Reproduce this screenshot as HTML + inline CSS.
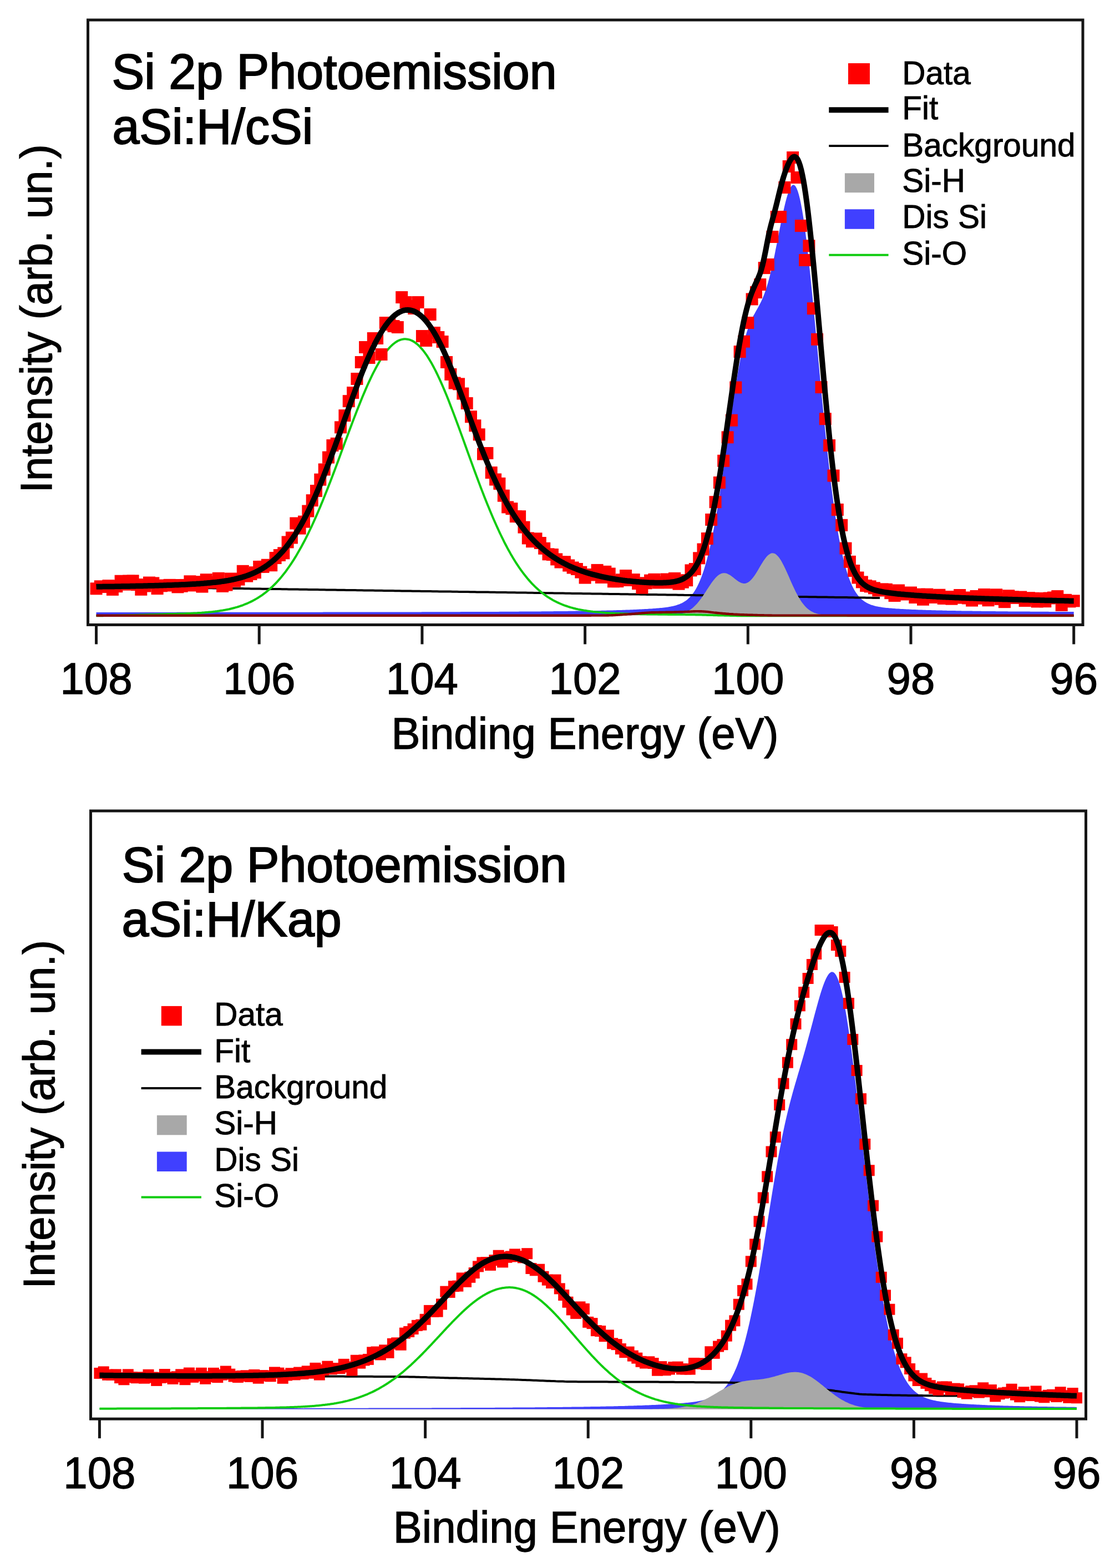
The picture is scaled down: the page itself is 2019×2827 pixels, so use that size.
<!DOCTYPE html>
<html><head><meta charset="utf-8"><title>Si 2p Photoemission</title><style>html,body{margin:0;padding:0;background:#fff}svg{display:block}</style></head><body>
<svg width="2019" height="2827" viewBox="0 0 2019 2827">
<rect width="2019" height="2827" fill="#ffffff"/>
<clipPath id="c1"><rect x="161" y="38.5" width="1788.5" height="1085.5"/></clipPath>
<g clip-path="url(#c1)">
<path d="M173.5,1108.5 L173.5,1103.9 175.5,1103.9 177.5,1103.9 179.5,1103.9 181.5,1103.9 183.5,1103.9 185.5,1103.9 187.5,1103.9 189.5,1103.9 191.5,1103.9 193.5,1103.9 195.5,1103.9 197.5,1103.9 199.5,1103.9 201.5,1103.9 203.5,1103.9 205.5,1103.9 207.5,1103.9 209.5,1103.9 211.5,1103.9 213.5,1103.9 215.5,1103.9 217.5,1103.9 219.5,1103.9 221.5,1103.9 223.4,1103.9 225.4,1103.9 227.4,1103.9 229.4,1103.9 231.4,1103.9 233.4,1103.9 235.4,1103.9 237.4,1103.9 239.4,1103.9 241.4,1103.9 243.4,1103.9 245.4,1103.9 247.4,1103.9 249.4,1103.9 251.4,1103.9 253.4,1103.9 255.4,1103.9 257.4,1103.9 259.4,1103.9 261.4,1103.9 263.4,1103.9 265.4,1103.9 267.4,1103.9 269.4,1103.9 271.4,1103.9 273.4,1103.9 275.4,1103.9 277.4,1103.9 279.4,1103.9 281.4,1103.9 283.4,1103.9 285.4,1103.9 287.4,1103.9 289.4,1103.9 291.4,1103.9 293.4,1103.9 295.4,1103.9 297.4,1103.9 299.4,1103.9 301.4,1103.9 303.4,1103.9 305.4,1103.9 307.4,1103.9 309.4,1103.9 311.4,1103.9 313.4,1103.9 315.4,1103.9 317.4,1103.9 319.4,1103.8 321.3,1103.8 323.3,1103.8 325.3,1103.8 327.3,1103.8 329.3,1103.8 331.3,1103.8 333.3,1103.8 335.3,1103.8 337.3,1103.8 339.3,1103.8 341.3,1103.8 343.3,1103.8 345.3,1103.8 347.3,1103.8 349.3,1103.8 351.3,1103.8 353.3,1103.8 355.3,1103.8 357.3,1103.8 359.3,1103.8 361.3,1103.8 363.3,1103.8 365.3,1103.8 367.3,1103.8 369.3,1103.8 371.3,1103.8 373.3,1103.8 375.3,1103.8 377.3,1103.8 379.3,1103.8 381.3,1103.8 383.3,1103.8 385.3,1103.8 387.3,1103.8 389.3,1103.8 391.3,1103.8 393.3,1103.8 395.3,1103.8 397.3,1103.8 399.3,1103.8 401.3,1103.8 403.3,1103.8 405.3,1103.8 407.3,1103.8 409.3,1103.8 411.3,1103.8 413.3,1103.8 415.3,1103.8 417.3,1103.8 419.2,1103.8 421.2,1103.8 423.2,1103.8 425.2,1103.8 427.2,1103.8 429.2,1103.8 431.2,1103.8 433.2,1103.8 435.2,1103.8 437.2,1103.8 439.2,1103.8 441.2,1103.8 443.2,1103.8 445.2,1103.8 447.2,1103.8 449.2,1103.8 451.2,1103.8 453.2,1103.8 455.2,1103.8 457.2,1103.8 459.2,1103.8 461.2,1103.8 463.2,1103.8 465.2,1103.8 467.2,1103.8 469.2,1103.8 471.2,1103.8 473.2,1103.8 475.2,1103.8 477.2,1103.7 479.2,1103.7 481.2,1103.7 483.2,1103.7 485.2,1103.7 487.2,1103.7 489.2,1103.7 491.2,1103.7 493.2,1103.7 495.2,1103.7 497.2,1103.7 499.2,1103.7 501.2,1103.7 503.2,1103.7 505.2,1103.7 507.2,1103.7 509.2,1103.7 511.2,1103.7 513.2,1103.7 515.2,1103.7 517.1,1103.7 519.1,1103.7 521.1,1103.7 523.1,1103.7 525.1,1103.7 527.1,1103.7 529.1,1103.7 531.1,1103.7 533.1,1103.7 535.1,1103.7 537.1,1103.7 539.1,1103.7 541.1,1103.7 543.1,1103.7 545.1,1103.7 547.1,1103.7 549.1,1103.7 551.1,1103.7 553.1,1103.7 555.1,1103.7 557.1,1103.7 559.1,1103.7 561.1,1103.7 563.1,1103.7 565.1,1103.7 567.1,1103.7 569.1,1103.7 571.1,1103.7 573.1,1103.7 575.1,1103.7 577.1,1103.7 579.1,1103.7 581.1,1103.7 583.1,1103.6 585.1,1103.6 587.1,1103.6 589.1,1103.6 591.1,1103.6 593.1,1103.6 595.1,1103.6 597.1,1103.6 599.1,1103.6 601.1,1103.6 603.1,1103.6 605.1,1103.6 607.1,1103.6 609.1,1103.6 611.1,1103.6 613.1,1103.6 615,1103.6 617,1103.6 619,1103.6 621,1103.6 623,1103.6 625,1103.6 627,1103.6 629,1103.6 631,1103.6 633,1103.6 635,1103.6 637,1103.6 639,1103.6 641,1103.6 643,1103.6 645,1103.6 647,1103.6 649,1103.6 651,1103.6 653,1103.6 655,1103.6 657,1103.5 659,1103.5 661,1103.5 663,1103.5 665,1103.5 667,1103.5 669,1103.5 671,1103.5 673,1103.5 675,1103.5 677,1103.5 679,1103.5 681,1103.5 683,1103.5 685,1103.5 687,1103.5 689,1103.5 691,1103.5 693,1103.5 695,1103.5 697,1103.5 699,1103.5 701,1103.5 703,1103.5 705,1103.5 707,1103.5 709,1103.5 711,1103.5 712.9,1103.5 714.9,1103.4 716.9,1103.4 718.9,1103.4 720.9,1103.4 722.9,1103.4 724.9,1103.4 726.9,1103.4 728.9,1103.4 730.9,1103.4 732.9,1103.4 734.9,1103.4 736.9,1103.4 738.9,1103.4 740.9,1103.4 742.9,1103.4 744.9,1103.4 746.9,1103.4 748.9,1103.4 750.9,1103.4 752.9,1103.4 754.9,1103.4 756.9,1103.4 758.9,1103.4 760.9,1103.3 762.9,1103.3 764.9,1103.3 766.9,1103.3 768.9,1103.3 770.9,1103.3 772.9,1103.3 774.9,1103.3 776.9,1103.3 778.9,1103.3 780.9,1103.3 782.9,1103.3 784.9,1103.3 786.9,1103.3 788.9,1103.3 790.9,1103.3 792.9,1103.3 794.9,1103.3 796.9,1103.3 798.9,1103.2 800.9,1103.2 802.9,1103.2 804.9,1103.2 806.9,1103.2 808.9,1103.2 810.8,1103.2 812.8,1103.2 814.8,1103.2 816.8,1103.2 818.8,1103.2 820.8,1103.2 822.8,1103.2 824.8,1103.2 826.8,1103.2 828.8,1103.2 830.8,1103.1 832.8,1103.1 834.8,1103.1 836.8,1103.1 838.8,1103.1 840.8,1103.1 842.8,1103.1 844.8,1103.1 846.8,1103.1 848.8,1103.1 850.8,1103.1 852.8,1103.1 854.8,1103.1 856.8,1103 858.8,1103 860.8,1103 862.8,1103 864.8,1103 866.8,1103 868.8,1103 870.8,1103 872.8,1103 874.8,1103 876.8,1103 878.8,1103 880.8,1102.9 882.8,1102.9 884.8,1102.9 886.8,1102.9 888.8,1102.9 890.8,1102.9 892.8,1102.9 894.8,1102.9 896.8,1102.9 898.8,1102.9 900.8,1102.8 902.8,1102.8 904.8,1102.8 906.8,1102.8 908.7,1102.8 910.7,1102.8 912.7,1102.8 914.7,1102.8 916.7,1102.8 918.7,1102.7 920.7,1102.7 922.7,1102.7 924.7,1102.7 926.7,1102.7 928.7,1102.7 930.7,1102.7 932.7,1102.7 934.7,1102.7 936.7,1102.6 938.7,1102.6 940.7,1102.6 942.7,1102.6 944.7,1102.6 946.7,1102.6 948.7,1102.6 950.7,1102.5 952.7,1102.5 954.7,1102.5 956.7,1102.5 958.7,1102.5 960.7,1102.5 962.7,1102.5 964.7,1102.4 966.7,1102.4 968.7,1102.4 970.7,1102.4 972.7,1102.4 974.7,1102.4 976.7,1102.3 978.7,1102.3 980.7,1102.3 982.7,1102.3 984.7,1102.3 986.7,1102.2 988.7,1102.2 990.7,1102.2 992.7,1102.2 994.7,1102.2 996.7,1102.2 998.7,1102.1 1000.7,1102.1 1002.7,1102.1 1004.7,1102.1 1006.6,1102 1008.6,1102 1010.6,1102 1012.6,1102 1014.6,1102 1016.6,1101.9 1018.6,1101.9 1020.6,1101.9 1022.6,1101.9 1024.6,1101.8 1026.6,1101.8 1028.6,1101.8 1030.6,1101.8 1032.6,1101.7 1034.6,1101.7 1036.6,1101.7 1038.6,1101.6 1040.6,1101.6 1042.6,1101.6 1044.6,1101.6 1046.6,1101.5 1048.6,1101.5 1050.6,1101.5 1052.6,1101.4 1054.6,1101.4 1056.6,1101.4 1058.6,1101.3 1060.6,1101.3 1062.6,1101.3 1064.6,1101.2 1066.6,1101.2 1068.6,1101.2 1070.6,1101.1 1072.6,1101.1 1074.6,1101 1076.6,1101 1078.6,1101 1080.6,1100.9 1082.6,1100.9 1084.6,1100.8 1086.6,1100.8 1088.6,1100.7 1090.6,1100.7 1092.6,1100.7 1094.6,1100.6 1096.6,1100.6 1098.6,1100.5 1100.6,1100.5 1102.6,1100.4 1104.5,1100.4 1106.5,1100.3 1108.5,1100.2 1110.5,1100.2 1112.5,1100.1 1114.5,1100.1 1116.5,1100 1118.5,1099.9 1120.5,1099.9 1122.5,1099.8 1124.5,1099.7 1126.5,1099.7 1128.5,1099.6 1130.5,1099.5 1132.5,1099.5 1134.5,1099.4 1136.5,1099.3 1138.5,1099.2 1140.5,1099.2 1142.5,1099.1 1144.5,1099 1146.5,1098.9 1148.5,1098.8 1150.5,1098.7 1152.5,1098.6 1154.5,1098.5 1156.5,1098.4 1158.5,1098.3 1160.5,1098.2 1162.5,1098.1 1164.5,1098 1166.5,1097.9 1168.5,1097.8 1170.5,1097.6 1172.5,1097.5 1174.5,1097.4 1176.5,1097.2 1178.5,1097.1 1180.5,1096.9 1182.5,1096.8 1184.5,1096.6 1186.5,1096.5 1188.5,1096.3 1190.5,1096.1 1192.5,1095.9 1194.5,1095.7 1196.5,1095.5 1198.5,1095.2 1200.5,1095 1202.4,1094.7 1204.4,1094.4 1206.4,1094.1 1208.4,1093.7 1210.4,1093.3 1212.4,1092.9 1214.4,1092.5 1216.4,1092 1218.4,1091.4 1220.4,1090.8 1222.4,1090.1 1224.4,1089.4 1226.4,1088.6 1228.4,1087.7 1230.4,1086.7 1232.4,1085.5 1234.4,1084.3 1236.4,1082.9 1238.4,1081.4 1240.4,1079.7 1242.4,1077.8 1244.4,1075.8 1246.4,1073.5 1248.4,1071 1250.4,1068.2 1252.4,1065.2 1254.4,1061.9 1256.4,1058.2 1258.4,1054.3 1260.4,1050 1262.4,1045.3 1264.4,1040.2 1266.4,1034.8 1268.4,1028.9 1270.4,1022.6 1272.4,1015.8 1274.4,1008.5 1276.4,1000.8 1278.4,992.6 1280.4,983.9 1282.4,974.8 1284.4,965.1 1286.4,955 1288.4,944.3 1290.4,933.3 1292.4,921.8 1294.4,909.8 1296.4,897.5 1298.4,884.8 1300.3,871.8 1302.3,858.5 1304.3,844.9 1306.3,831.2 1308.3,817.3 1310.3,803.3 1312.3,789.2 1314.3,775.2 1316.3,761.2 1318.3,747.4 1320.3,733.7 1322.3,720.4 1324.3,707.3 1326.3,694.6 1328.3,682.4 1330.3,670.6 1332.3,659.4 1334.3,648.8 1336.3,638.8 1338.3,629.4 1340.3,620.7 1342.3,612.7 1344.3,605.3 1346.3,598.5 1348.3,592.4 1350.3,586.8 1352.3,581.8 1354.3,577.2 1356.3,573 1358.3,569.1 1360.3,565.4 1362.3,561.8 1364.3,558.3 1366.3,554.8 1368.3,551.1 1370.3,547.3 1372.3,543.2 1374.3,538.8 1376.3,534 1378.3,528.8 1380.3,523.1 1382.3,516.9 1384.3,510.2 1386.3,503 1388.3,495.2 1390.3,487 1392.3,478.4 1394.3,469.3 1396.3,459.9 1398.2,450.1 1400.2,440.2 1402.2,430 1404.2,419.9 1406.2,409.8 1408.2,399.8 1410.2,390.1 1412.2,380.8 1414.2,372 1416.2,363.8 1418.2,356.3 1420.2,349.7 1422.2,344.1 1424.2,339.5 1426.2,336.2 1428.2,334.1 1430.2,333.3 1432.2,334 1434.2,336.1 1436.2,339.7 1438.2,344.8 1440.2,351.5 1442.2,359.6 1444.2,369.2 1446.2,380.3 1448.2,392.6 1450.2,406.3 1452.2,421.3 1454.2,437.3 1456.2,454.4 1458.2,472.4 1460.2,491.2 1462.2,510.7 1464.2,530.9 1466.2,551.6 1468.2,572.6 1470.2,593.9 1472.2,615.5 1474.2,637 1476.2,658.6 1478.2,680.1 1480.2,701.3 1482.2,722.3 1484.2,742.9 1486.2,763.1 1488.2,782.9 1490.2,802 1492.2,820.6 1494.2,838.6 1496.1,855.8 1498.1,872.4 1500.1,888.3 1502.1,903.4 1504.1,917.8 1506.1,931.5 1508.1,944.4 1510.1,956.6 1512.1,968 1514.1,978.7 1516.1,988.7 1518.1,998.1 1520.1,1006.8 1522.1,1014.8 1524.1,1022.3 1526.1,1029.1 1528.1,1035.5 1530.1,1041.3 1532.1,1046.6 1534.1,1051.5 1536.1,1055.9 1538.1,1060 1540.1,1063.7 1542.1,1067 1544.1,1070 1546.1,1072.8 1548.1,1075.2 1550.1,1077.4 1552.1,1079.4 1554.1,1081.2 1556.1,1082.8 1558.1,1084.3 1560.1,1085.6 1562.1,1086.8 1564.1,1087.8 1566.1,1088.7 1568.1,1089.6 1570.1,1090.4 1572.1,1091 1574.1,1091.6 1576.1,1092.2 1578.1,1092.7 1580.1,1093.2 1582.1,1093.6 1584.1,1093.9 1586.1,1094.3 1588.1,1094.6 1590.1,1094.9 1592.1,1095.2 1594,1095.4 1596,1095.7 1598,1095.9 1600,1096.1 1602,1096.3 1604,1096.5 1606,1096.6 1608,1096.8 1610,1097 1612,1097.1 1614,1097.2 1616,1097.4 1618,1097.5 1620,1097.6 1622,1097.8 1624,1097.9 1626,1098 1628,1098.1 1630,1098.2 1632,1098.3 1634,1098.4 1636,1098.5 1638,1098.6 1640,1098.7 1642,1098.8 1644,1098.9 1646,1099 1648,1099.1 1650,1099.1 1652,1099.2 1654,1099.3 1656,1099.4 1658,1099.5 1660,1099.5 1662,1099.6 1664,1099.7 1666,1099.7 1668,1099.8 1670,1099.9 1672,1099.9 1674,1100 1676,1100.1 1678,1100.1 1680,1100.2 1682,1100.2 1684,1100.3 1686,1100.3 1688,1100.4 1690,1100.4 1691.9,1100.5 1693.9,1100.5 1695.9,1100.6 1697.9,1100.6 1699.9,1100.7 1701.9,1100.7 1703.9,1100.8 1705.9,1100.8 1707.9,1100.9 1709.9,1100.9 1711.9,1101 1713.9,1101 1715.9,1101 1717.9,1101.1 1719.9,1101.1 1721.9,1101.1 1723.9,1101.2 1725.9,1101.2 1727.9,1101.3 1729.9,1101.3 1731.9,1101.3 1733.9,1101.4 1735.9,1101.4 1737.9,1101.4 1739.9,1101.5 1741.9,1101.5 1743.9,1101.5 1745.9,1101.5 1747.9,1101.6 1749.9,1101.6 1751.9,1101.6 1753.9,1101.7 1755.9,1101.7 1757.9,1101.7 1759.9,1101.7 1761.9,1101.8 1763.9,1101.8 1765.9,1101.8 1767.9,1101.8 1769.9,1101.9 1771.9,1101.9 1773.9,1101.9 1775.9,1101.9 1777.9,1102 1779.9,1102 1781.9,1102 1783.9,1102 1785.9,1102.1 1787.9,1102.1 1789.8,1102.1 1791.8,1102.1 1793.8,1102.1 1795.8,1102.2 1797.8,1102.2 1799.8,1102.2 1801.8,1102.2 1803.8,1102.2 1805.8,1102.3 1807.8,1102.3 1809.8,1102.3 1811.8,1102.3 1813.8,1102.3 1815.8,1102.3 1817.8,1102.4 1819.8,1102.4 1821.8,1102.4 1823.8,1102.4 1825.8,1102.4 1827.8,1102.4 1829.8,1102.5 1831.8,1102.5 1833.8,1102.5 1835.8,1102.5 1837.8,1102.5 1839.8,1102.5 1841.8,1102.5 1843.8,1102.6 1845.8,1102.6 1847.8,1102.6 1849.8,1102.6 1851.8,1102.6 1853.8,1102.6 1855.8,1102.6 1857.8,1102.7 1859.8,1102.7 1861.8,1102.7 1863.8,1102.7 1865.8,1102.7 1867.8,1102.7 1869.8,1102.7 1871.8,1102.7 1873.8,1102.8 1875.8,1102.8 1877.8,1102.8 1879.8,1102.8 1881.8,1102.8 1883.8,1102.8 1885.8,1102.8 1887.7,1102.8 1889.7,1102.8 1891.7,1102.9 1893.7,1102.9 1895.7,1102.9 1897.7,1102.9 1899.7,1102.9 1901.7,1102.9 1903.7,1102.9 1905.7,1102.9 1907.7,1102.9 1909.7,1102.9 1911.7,1102.9 1913.7,1103 1915.7,1103 1917.7,1103 1919.7,1103 1921.7,1103 1923.7,1103 1925.7,1103 1927.7,1103 1929.7,1103 1931.7,1103 1933.7,1103 1935.7,1103.1 L1935.7,1108.5 Z" fill="#4040ff"/>
<path d="M173.5,1057.3 177.5,1057.3 181.5,1057.4 185.5,1057.4 189.5,1057.5 193.5,1057.6 197.4,1057.6 201.4,1057.7 205.4,1057.7 209.4,1057.8 213.4,1057.8 217.4,1057.9 221.4,1058 225.4,1058 229.4,1058.1 233.4,1058.1 237.3,1058.2 241.3,1058.3 245.3,1058.3 249.3,1058.4 253.3,1058.4 257.3,1058.5 261.3,1058.6 265.3,1058.6 269.3,1058.7 273.3,1058.7 277.2,1058.8 281.2,1058.8 285.2,1058.9 289.2,1059 293.2,1059 297.2,1059.1 301.2,1059.1 305.2,1059.2 309.2,1059.3 313.2,1059.3 317.1,1059.4 321.1,1059.4 325.1,1059.5 329.1,1059.6 333.1,1059.6 337.1,1059.7 341.1,1059.7 345.1,1059.8 349.1,1059.8 353.1,1059.9 357,1060 361,1060 365,1060.1 369,1060.1 373,1060.2 377,1060.3 381,1060.3 385,1060.4 389,1060.4 393,1060.5 396.9,1060.5 400.9,1060.6 404.9,1060.7 408.9,1060.7 412.9,1060.8 416.9,1060.8 420.9,1060.9 424.9,1061 428.9,1061 432.9,1061.1 436.8,1061.1 440.8,1061.2 444.8,1061.3 448.8,1061.3 452.8,1061.4 456.8,1061.4 460.8,1061.5 464.8,1061.5 468.8,1061.6 472.8,1061.7 476.7,1061.7 480.7,1061.8 484.7,1061.8 488.7,1061.9 492.7,1062 496.7,1062 500.7,1062.1 504.7,1062.1 508.7,1062.2 512.7,1062.2 516.6,1062.3 520.6,1062.4 524.6,1062.4 528.6,1062.5 532.6,1062.5 536.6,1062.6 540.6,1062.7 544.6,1062.7 548.6,1062.8 552.6,1062.8 556.6,1062.9 560.5,1063 564.5,1063 568.5,1063.1 572.5,1063.1 576.5,1063.2 580.5,1063.2 584.5,1063.3 588.5,1063.4 592.5,1063.4 596.5,1063.5 600.4,1063.5 604.4,1063.6 608.4,1063.7 612.4,1063.7 616.4,1063.8 620.4,1063.8 624.4,1063.9 628.4,1063.9 632.4,1064 636.4,1064.1 640.3,1064.1 644.3,1064.2 648.3,1064.2 652.3,1064.3 656.3,1064.4 660.3,1064.4 664.3,1064.5 668.3,1064.5 672.3,1064.6 676.3,1064.7 680.2,1064.7 684.2,1064.8 688.2,1064.8 692.2,1064.9 696.2,1064.9 700.2,1065 704.2,1065.1 708.2,1065.1 712.2,1065.2 716.2,1065.2 720.1,1065.3 724.1,1065.4 728.1,1065.4 732.1,1065.5 736.1,1065.5 740.1,1065.6 744.1,1065.7 748.1,1065.7 752.1,1065.8 756.1,1065.8 760,1065.9 764,1065.9 768,1066 772,1066.1 776,1066.1 780,1066.2 784,1066.2 788,1066.3 792,1066.4 796,1066.4 799.9,1066.5 803.9,1066.5 807.9,1066.6 811.9,1066.6 815.9,1066.7 819.9,1066.8 823.9,1066.8 827.9,1066.9 831.9,1066.9 835.9,1067 839.8,1067.1 843.8,1067.1 847.8,1067.2 851.8,1067.2 855.8,1067.3 859.8,1067.4 863.8,1067.4 867.8,1067.5 871.8,1067.5 875.8,1067.6 879.8,1067.6 883.7,1067.7 887.7,1067.8 891.7,1067.8 895.7,1067.9 899.7,1067.9 903.7,1068 907.7,1068.1 911.7,1068.1 915.7,1068.2 919.7,1068.2 923.6,1068.3 927.6,1068.3 931.6,1068.4 935.6,1068.5 939.6,1068.5 943.6,1068.6 947.6,1068.6 951.6,1068.7 955.6,1068.8 959.6,1068.8 963.5,1068.9 967.5,1068.9 971.5,1069 975.5,1069.1 979.5,1069.1 983.5,1069.2 987.5,1069.2 991.5,1069.3 995.5,1069.3 999.5,1069.4 1003.4,1069.5 1007.4,1069.5 1011.4,1069.6 1015.4,1069.6 1019.4,1069.7 1023.4,1069.8 1027.4,1069.8 1031.4,1069.9 1035.4,1069.9 1039.4,1070 1043.3,1070 1047.3,1070.1 1051.3,1070.2 1055.3,1070.2 1059.3,1070.3 1063.3,1070.3 1067.3,1070.4 1071.3,1070.5 1075.3,1070.5 1079.3,1070.6 1083.2,1070.6 1087.2,1070.7 1091.2,1070.8 1095.2,1070.8 1099.2,1070.9 1103.2,1070.9 1107.2,1071 1111.2,1071 1115.2,1071.1 1119.2,1071.2 1123.1,1071.2 1127.1,1071.3 1131.1,1071.3 1135.1,1071.4 1139.1,1071.5 1143.1,1071.5 1147.1,1071.6 1151.1,1071.6 1155.1,1071.7 1159.1,1071.8 1163,1071.8 1167,1071.9 1171,1071.9 1175,1072 1179,1072 1183,1072.1 1187,1072.2 1191,1072.2 1195,1072.3 1199,1072.3 1202.9,1072.4 1206.9,1072.5 1210.9,1072.5 1214.9,1072.6 1218.9,1072.6 1222.9,1072.7 1226.9,1072.7 1230.9,1072.8 1234.9,1072.9 1238.9,1072.9 1242.9,1073 1246.8,1073 1250.8,1073.1 1254.8,1073.2 1258.8,1073.2 1262.8,1073.3 1266.8,1073.3 1270.8,1073.4 1274.8,1073.5 1278.8,1073.5 1282.8,1073.6 1286.7,1073.6 1290.7,1073.7 1294.7,1073.7 1298.7,1073.8 1302.7,1073.9 1306.7,1073.9 1310.7,1074 1314.7,1074 1318.7,1074.1 1322.7,1074.2 1326.6,1074.2 1330.6,1074.3 1334.6,1074.3 1338.6,1074.4 1342.6,1074.4 1346.6,1074.5 1350.6,1074.6 1354.6,1074.6 1358.6,1074.7 1362.6,1074.7 1366.5,1074.8 1370.5,1074.9 1374.5,1074.9 1378.5,1075 1382.5,1075 1386.5,1075.1 1390.5,1075.2 1394.5,1075.2 1398.5,1075.3 1402.5,1075.3 1406.4,1075.4 1410.4,1075.4 1414.4,1075.5 1418.4,1075.6 1422.4,1075.6 1426.4,1075.7 1430.4,1075.7 1434.4,1075.8 1438.4,1075.9 1442.4,1075.9 1446.3,1076 1450.3,1076 1454.3,1076.1 1458.3,1076.2 1462.3,1076.2 1466.3,1076.3 1470.3,1076.3 1474.3,1076.4 1478.3,1076.4 1482.3,1076.5 1486.2,1076.6 1490.2,1076.6 1494.2,1076.7 1498.2,1076.7 1502.2,1076.8 1506.2,1076.9 1510.2,1076.9 1514.2,1077 1518.2,1077 1522.2,1077.1 1526.1,1077.1 1530.1,1077.2 1534.1,1077.3 1538.1,1077.3 1542.1,1077.4 1546.1,1077.4 1550.1,1077.5 1554.1,1077.6 1558.1,1077.6 1562.1,1077.7 1566,1077.7 1570,1077.8 1574,1077.9 1578,1077.9 1582,1078 1586,1078" fill="none" stroke="#000" stroke-width="4" stroke-linejoin="round"/>
<path d="M173.5,1110 L173.5,1109.5 175.5,1109.5 177.5,1109.5 179.5,1109.5 181.5,1109.5 183.5,1109.5 185.5,1109.5 187.5,1109.5 189.5,1109.5 191.5,1109.5 193.5,1109.5 195.5,1109.5 197.5,1109.5 199.5,1109.5 201.5,1109.5 203.5,1109.5 205.5,1109.5 207.5,1109.5 209.5,1109.5 211.5,1109.5 213.5,1109.5 215.5,1109.5 217.5,1109.5 219.5,1109.5 221.5,1109.5 223.4,1109.5 225.4,1109.5 227.4,1109.5 229.4,1109.5 231.4,1109.5 233.4,1109.5 235.4,1109.5 237.4,1109.5 239.4,1109.5 241.4,1109.5 243.4,1109.5 245.4,1109.5 247.4,1109.5 249.4,1109.5 251.4,1109.5 253.4,1109.5 255.4,1109.5 257.4,1109.5 259.4,1109.5 261.4,1109.5 263.4,1109.5 265.4,1109.5 267.4,1109.5 269.4,1109.5 271.4,1109.5 273.4,1109.5 275.4,1109.5 277.4,1109.5 279.4,1109.5 281.4,1109.5 283.4,1109.5 285.4,1109.5 287.4,1109.5 289.4,1109.5 291.4,1109.5 293.4,1109.5 295.4,1109.5 297.4,1109.5 299.4,1109.5 301.4,1109.5 303.4,1109.5 305.4,1109.5 307.4,1109.5 309.4,1109.5 311.4,1109.5 313.4,1109.5 315.4,1109.5 317.4,1109.5 319.4,1109.5 321.3,1109.5 323.3,1109.5 325.3,1109.5 327.3,1109.5 329.3,1109.5 331.3,1109.5 333.3,1109.5 335.3,1109.5 337.3,1109.5 339.3,1109.5 341.3,1109.5 343.3,1109.5 345.3,1109.5 347.3,1109.5 349.3,1109.5 351.3,1109.5 353.3,1109.5 355.3,1109.5 357.3,1109.5 359.3,1109.5 361.3,1109.5 363.3,1109.5 365.3,1109.5 367.3,1109.5 369.3,1109.5 371.3,1109.5 373.3,1109.5 375.3,1109.5 377.3,1109.5 379.3,1109.5 381.3,1109.5 383.3,1109.5 385.3,1109.5 387.3,1109.5 389.3,1109.5 391.3,1109.5 393.3,1109.5 395.3,1109.5 397.3,1109.5 399.3,1109.5 401.3,1109.5 403.3,1109.5 405.3,1109.5 407.3,1109.5 409.3,1109.5 411.3,1109.5 413.3,1109.5 415.3,1109.5 417.3,1109.5 419.2,1109.5 421.2,1109.5 423.2,1109.5 425.2,1109.5 427.2,1109.5 429.2,1109.5 431.2,1109.5 433.2,1109.5 435.2,1109.5 437.2,1109.5 439.2,1109.5 441.2,1109.5 443.2,1109.5 445.2,1109.5 447.2,1109.5 449.2,1109.5 451.2,1109.5 453.2,1109.5 455.2,1109.5 457.2,1109.5 459.2,1109.5 461.2,1109.5 463.2,1109.5 465.2,1109.5 467.2,1109.5 469.2,1109.5 471.2,1109.5 473.2,1109.5 475.2,1109.5 477.2,1109.5 479.2,1109.5 481.2,1109.5 483.2,1109.5 485.2,1109.5 487.2,1109.5 489.2,1109.5 491.2,1109.5 493.2,1109.5 495.2,1109.5 497.2,1109.5 499.2,1109.5 501.2,1109.5 503.2,1109.5 505.2,1109.5 507.2,1109.5 509.2,1109.5 511.2,1109.5 513.2,1109.5 515.2,1109.5 517.1,1109.5 519.1,1109.5 521.1,1109.5 523.1,1109.5 525.1,1109.5 527.1,1109.5 529.1,1109.5 531.1,1109.5 533.1,1109.5 535.1,1109.5 537.1,1109.5 539.1,1109.5 541.1,1109.5 543.1,1109.5 545.1,1109.5 547.1,1109.5 549.1,1109.5 551.1,1109.5 553.1,1109.5 555.1,1109.5 557.1,1109.5 559.1,1109.5 561.1,1109.5 563.1,1109.5 565.1,1109.5 567.1,1109.5 569.1,1109.5 571.1,1109.5 573.1,1109.5 575.1,1109.5 577.1,1109.5 579.1,1109.5 581.1,1109.5 583.1,1109.5 585.1,1109.5 587.1,1109.5 589.1,1109.5 591.1,1109.5 593.1,1109.5 595.1,1109.5 597.1,1109.5 599.1,1109.5 601.1,1109.5 603.1,1109.5 605.1,1109.5 607.1,1109.5 609.1,1109.5 611.1,1109.5 613.1,1109.5 615,1109.5 617,1109.5 619,1109.5 621,1109.5 623,1109.5 625,1109.5 627,1109.5 629,1109.5 631,1109.5 633,1109.5 635,1109.5 637,1109.5 639,1109.5 641,1109.5 643,1109.5 645,1109.5 647,1109.5 649,1109.5 651,1109.5 653,1109.5 655,1109.5 657,1109.5 659,1109.5 661,1109.5 663,1109.5 665,1109.5 667,1109.5 669,1109.5 671,1109.5 673,1109.5 675,1109.5 677,1109.5 679,1109.5 681,1109.5 683,1109.5 685,1109.5 687,1109.5 689,1109.5 691,1109.5 693,1109.5 695,1109.5 697,1109.5 699,1109.5 701,1109.5 703,1109.5 705,1109.5 707,1109.5 709,1109.5 711,1109.5 712.9,1109.5 714.9,1109.5 716.9,1109.5 718.9,1109.5 720.9,1109.5 722.9,1109.5 724.9,1109.5 726.9,1109.5 728.9,1109.5 730.9,1109.5 732.9,1109.5 734.9,1109.5 736.9,1109.5 738.9,1109.5 740.9,1109.5 742.9,1109.5 744.9,1109.5 746.9,1109.5 748.9,1109.5 750.9,1109.5 752.9,1109.5 754.9,1109.5 756.9,1109.5 758.9,1109.5 760.9,1109.5 762.9,1109.5 764.9,1109.5 766.9,1109.5 768.9,1109.5 770.9,1109.5 772.9,1109.5 774.9,1109.5 776.9,1109.5 778.9,1109.5 780.9,1109.5 782.9,1109.5 784.9,1109.5 786.9,1109.5 788.9,1109.5 790.9,1109.5 792.9,1109.5 794.9,1109.5 796.9,1109.5 798.9,1109.5 800.9,1109.5 802.9,1109.5 804.9,1109.5 806.9,1109.5 808.9,1109.5 810.8,1109.5 812.8,1109.5 814.8,1109.5 816.8,1109.5 818.8,1109.5 820.8,1109.5 822.8,1109.5 824.8,1109.5 826.8,1109.5 828.8,1109.5 830.8,1109.5 832.8,1109.5 834.8,1109.5 836.8,1109.5 838.8,1109.5 840.8,1109.5 842.8,1109.5 844.8,1109.5 846.8,1109.5 848.8,1109.5 850.8,1109.5 852.8,1109.5 854.8,1109.5 856.8,1109.5 858.8,1109.5 860.8,1109.5 862.8,1109.5 864.8,1109.5 866.8,1109.5 868.8,1109.5 870.8,1109.5 872.8,1109.5 874.8,1109.5 876.8,1109.5 878.8,1109.5 880.8,1109.5 882.8,1109.5 884.8,1109.5 886.8,1109.5 888.8,1109.5 890.8,1109.5 892.8,1109.5 894.8,1109.5 896.8,1109.5 898.8,1109.5 900.8,1109.5 902.8,1109.5 904.8,1109.5 906.8,1109.5 908.7,1109.5 910.7,1109.5 912.7,1109.5 914.7,1109.5 916.7,1109.5 918.7,1109.5 920.7,1109.5 922.7,1109.5 924.7,1109.5 926.7,1109.5 928.7,1109.5 930.7,1109.5 932.7,1109.5 934.7,1109.5 936.7,1109.5 938.7,1109.5 940.7,1109.5 942.7,1109.5 944.7,1109.5 946.7,1109.5 948.7,1109.5 950.7,1109.5 952.7,1109.5 954.7,1109.5 956.7,1109.5 958.7,1109.5 960.7,1109.5 962.7,1109.5 964.7,1109.5 966.7,1109.5 968.7,1109.5 970.7,1109.5 972.7,1109.5 974.7,1109.5 976.7,1109.5 978.7,1109.5 980.7,1109.5 982.7,1109.5 984.7,1109.5 986.7,1109.5 988.7,1109.5 990.7,1109.5 992.7,1109.5 994.7,1109.5 996.7,1109.5 998.7,1109.5 1000.7,1109.5 1002.7,1109.5 1004.7,1109.5 1006.6,1109.5 1008.6,1109.5 1010.6,1109.5 1012.6,1109.5 1014.6,1109.5 1016.6,1109.5 1018.6,1109.5 1020.6,1109.5 1022.6,1109.5 1024.6,1109.5 1026.6,1109.5 1028.6,1109.5 1030.6,1109.5 1032.6,1109.5 1034.6,1109.5 1036.6,1109.5 1038.6,1109.5 1040.6,1109.5 1042.6,1109.5 1044.6,1109.5 1046.6,1109.5 1048.6,1109.5 1050.6,1109.5 1052.6,1109.5 1054.6,1109.5 1056.6,1109.5 1058.6,1109.5 1060.6,1109.5 1062.6,1109.5 1064.6,1109.5 1066.6,1109.5 1068.6,1109.5 1070.6,1109.5 1072.6,1109.5 1074.6,1109.5 1076.6,1109.5 1078.6,1109.5 1080.6,1109.5 1082.6,1109.5 1084.6,1109.5 1086.6,1109.5 1088.6,1109.5 1090.6,1109.5 1092.6,1109.5 1094.6,1109.5 1096.6,1109.5 1098.6,1109.5 1100.6,1109.5 1102.6,1109.5 1104.5,1109.5 1106.5,1109.5 1108.5,1109.5 1110.5,1109.5 1112.5,1109.5 1114.5,1109.5 1116.5,1109.5 1118.5,1109.5 1120.5,1109.5 1122.5,1109.5 1124.5,1109.5 1126.5,1109.5 1128.5,1109.5 1130.5,1109.5 1132.5,1109.5 1134.5,1109.5 1136.5,1109.5 1138.5,1109.5 1140.5,1109.5 1142.5,1109.5 1144.5,1109.5 1146.5,1109.5 1148.5,1109.5 1150.5,1109.5 1152.5,1109.5 1154.5,1109.5 1156.5,1109.5 1158.5,1109.5 1160.5,1109.5 1162.5,1109.5 1164.5,1109.5 1166.5,1109.5 1168.5,1109.5 1170.5,1109.5 1172.5,1109.5 1174.5,1109.5 1176.5,1109.5 1178.5,1109.5 1180.5,1109.5 1182.5,1109.5 1184.5,1109.5 1186.5,1109.5 1188.5,1109.5 1190.5,1109.4 1192.5,1109.4 1194.5,1109.4 1196.5,1109.4 1198.5,1109.4 1200.5,1109.3 1202.4,1109.3 1204.4,1109.2 1206.4,1109.1 1208.4,1109.1 1210.4,1109 1212.4,1108.8 1214.4,1108.7 1216.4,1108.5 1218.4,1108.3 1220.4,1108 1222.4,1107.7 1224.4,1107.4 1226.4,1107 1228.4,1106.5 1230.4,1105.9 1232.4,1105.3 1234.4,1104.6 1236.4,1103.7 1238.4,1102.8 1240.4,1101.7 1242.4,1100.6 1244.4,1099.3 1246.4,1097.8 1248.4,1096.2 1250.4,1094.5 1252.4,1092.6 1254.4,1090.6 1256.4,1088.4 1258.4,1086 1260.4,1083.5 1262.4,1080.9 1264.4,1078.2 1266.4,1075.4 1268.4,1072.4 1270.4,1069.4 1272.4,1066.4 1274.4,1063.3 1276.4,1060.2 1278.4,1057.2 1280.4,1054.2 1282.4,1051.3 1284.4,1048.6 1286.4,1046 1288.4,1043.5 1290.4,1041.3 1292.4,1039.3 1294.4,1037.6 1296.4,1036.1 1298.4,1034.9 1300.3,1034.1 1302.3,1033.5 1304.3,1033.2 1306.3,1033.2 1308.3,1033.5 1310.3,1034.1 1312.3,1034.9 1314.3,1035.9 1316.3,1037.1 1318.3,1038.5 1320.3,1040 1322.3,1041.6 1324.3,1043.2 1326.3,1044.7 1328.3,1046.3 1330.3,1047.7 1332.3,1049 1334.3,1050.1 1336.3,1051 1338.3,1051.6 1340.3,1051.9 1342.3,1052 1344.3,1051.7 1346.3,1051.1 1348.3,1050.1 1350.3,1048.8 1352.3,1047.1 1354.3,1045.1 1356.3,1042.8 1358.3,1040.3 1360.3,1037.4 1362.3,1034.4 1364.3,1031.2 1366.3,1027.9 1368.3,1024.5 1370.3,1021.1 1372.3,1017.7 1374.3,1014.4 1376.3,1011.3 1378.3,1008.4 1380.3,1005.7 1382.3,1003.3 1384.3,1001.3 1386.3,999.7 1388.3,998.4 1390.3,997.6 1392.3,997.3 1394.3,997.4 1396.3,998.1 1398.2,999.1 1400.2,1000.7 1402.2,1002.7 1404.2,1005.1 1406.2,1008 1408.2,1011.1 1410.2,1014.7 1412.2,1018.5 1414.2,1022.5 1416.2,1026.7 1418.2,1031.1 1420.2,1035.6 1422.2,1040.1 1424.2,1044.7 1426.2,1049.2 1428.2,1053.7 1430.2,1058 1432.2,1062.3 1434.2,1066.4 1436.2,1070.3 1438.2,1074 1440.2,1077.5 1442.2,1080.8 1444.2,1083.9 1446.2,1086.7 1448.2,1089.3 1450.2,1091.7 1452.2,1093.9 1454.2,1095.9 1456.2,1097.7 1458.2,1099.3 1460.2,1100.7 1462.2,1102 1464.2,1103.1 1466.2,1104 1468.2,1104.9 1470.2,1105.6 1472.2,1106.2 1474.2,1106.8 1476.2,1107.2 1478.2,1107.6 1480.2,1108 1482.2,1108.2 1484.2,1108.5 1486.2,1108.7 1488.2,1108.8 1490.2,1109 1492.2,1109.1 1494.2,1109.2 1496.1,1109.2 1498.1,1109.3 1500.1,1109.3 1502.1,1109.4 1504.1,1109.4 1506.1,1109.4 1508.1,1109.4 1510.1,1109.5 1512.1,1109.5 1514.1,1109.5 1516.1,1109.5 1518.1,1109.5 1520.1,1109.5 1522.1,1109.5 1524.1,1109.5 1526.1,1109.5 1528.1,1109.5 1530.1,1109.5 1532.1,1109.5 1534.1,1109.5 1536.1,1109.5 1538.1,1109.5 1540.1,1109.5 1542.1,1109.5 1544.1,1109.5 1546.1,1109.5 1548.1,1109.5 1550.1,1109.5 1552.1,1109.5 1554.1,1109.5 1556.1,1109.5 1558.1,1109.5 1560.1,1109.5 1562.1,1109.5 1564.1,1109.5 1566.1,1109.5 1568.1,1109.5 1570.1,1109.5 1572.1,1109.5 1574.1,1109.5 1576.1,1109.5 1578.1,1109.5 1580.1,1109.5 1582.1,1109.5 1584.1,1109.5 1586.1,1109.5 1588.1,1109.5 1590.1,1109.5 1592.1,1109.5 1594,1109.5 1596,1109.5 1598,1109.5 1600,1109.5 1602,1109.5 1604,1109.5 1606,1109.5 1608,1109.5 1610,1109.5 1612,1109.5 1614,1109.5 1616,1109.5 1618,1109.5 1620,1109.5 1622,1109.5 1624,1109.5 1626,1109.5 1628,1109.5 1630,1109.5 1632,1109.5 1634,1109.5 1636,1109.5 1638,1109.5 1640,1109.5 1642,1109.5 1644,1109.5 1646,1109.5 1648,1109.5 1650,1109.5 1652,1109.5 1654,1109.5 1656,1109.5 1658,1109.5 1660,1109.5 1662,1109.5 1664,1109.5 1666,1109.5 1668,1109.5 1670,1109.5 1672,1109.5 1674,1109.5 1676,1109.5 1678,1109.5 1680,1109.5 1682,1109.5 1684,1109.5 1686,1109.5 1688,1109.5 1690,1109.5 1691.9,1109.5 1693.9,1109.5 1695.9,1109.5 1697.9,1109.5 1699.9,1109.5 1701.9,1109.5 1703.9,1109.5 1705.9,1109.5 1707.9,1109.5 1709.9,1109.5 1711.9,1109.5 1713.9,1109.5 1715.9,1109.5 1717.9,1109.5 1719.9,1109.5 1721.9,1109.5 1723.9,1109.5 1725.9,1109.5 1727.9,1109.5 1729.9,1109.5 1731.9,1109.5 1733.9,1109.5 1735.9,1109.5 1737.9,1109.5 1739.9,1109.5 1741.9,1109.5 1743.9,1109.5 1745.9,1109.5 1747.9,1109.5 1749.9,1109.5 1751.9,1109.5 1753.9,1109.5 1755.9,1109.5 1757.9,1109.5 1759.9,1109.5 1761.9,1109.5 1763.9,1109.5 1765.9,1109.5 1767.9,1109.5 1769.9,1109.5 1771.9,1109.5 1773.9,1109.5 1775.9,1109.5 1777.9,1109.5 1779.9,1109.5 1781.9,1109.5 1783.9,1109.5 1785.9,1109.5 1787.9,1109.5 1789.8,1109.5 1791.8,1109.5 1793.8,1109.5 1795.8,1109.5 1797.8,1109.5 1799.8,1109.5 1801.8,1109.5 1803.8,1109.5 1805.8,1109.5 1807.8,1109.5 1809.8,1109.5 1811.8,1109.5 1813.8,1109.5 1815.8,1109.5 1817.8,1109.5 1819.8,1109.5 1821.8,1109.5 1823.8,1109.5 1825.8,1109.5 1827.8,1109.5 1829.8,1109.5 1831.8,1109.5 1833.8,1109.5 1835.8,1109.5 1837.8,1109.5 1839.8,1109.5 1841.8,1109.5 1843.8,1109.5 1845.8,1109.5 1847.8,1109.5 1849.8,1109.5 1851.8,1109.5 1853.8,1109.5 1855.8,1109.5 1857.8,1109.5 1859.8,1109.5 1861.8,1109.5 1863.8,1109.5 1865.8,1109.5 1867.8,1109.5 1869.8,1109.5 1871.8,1109.5 1873.8,1109.5 1875.8,1109.5 1877.8,1109.5 1879.8,1109.5 1881.8,1109.5 1883.8,1109.5 1885.8,1109.5 1887.7,1109.5 1889.7,1109.5 1891.7,1109.5 1893.7,1109.5 1895.7,1109.5 1897.7,1109.5 1899.7,1109.5 1901.7,1109.5 1903.7,1109.5 1905.7,1109.5 1907.7,1109.5 1909.7,1109.5 1911.7,1109.5 1913.7,1109.5 1915.7,1109.5 1917.7,1109.5 1919.7,1109.5 1921.7,1109.5 1923.7,1109.5 1925.7,1109.5 1927.7,1109.5 1929.7,1109.5 1931.7,1109.5 1933.7,1109.5 1935.7,1109.5 L1935.7,1110 Z" fill="#a8a8a8"/>
<path d="M173.5,1110.3 175.5,1110.3 177.5,1110.3 179.5,1110.3 181.5,1110.3 183.5,1110.2 185.5,1110.2 187.5,1110.1 189.5,1110.1 191.5,1110 193.5,1110 195.5,1110 197.5,1109.9 199.5,1109.9 201.5,1109.8 203.5,1109.8 205.5,1109.7 207.5,1109.7 209.5,1109.6 211.5,1109.6 213.5,1109.5 215.5,1109.5 217.5,1109.4 219.5,1109.4 221.5,1109.4 223.4,1109.3 225.4,1109.3 227.4,1109.2 229.4,1109.2 231.4,1109.1 233.4,1109.1 235.4,1109 237.4,1109 239.4,1108.9 241.4,1108.9 243.4,1108.8 245.4,1108.8 247.4,1108.7 249.4,1108.7 251.4,1108.6 253.4,1108.6 255.4,1108.5 257.4,1108.5 259.4,1108.4 261.4,1108.3 263.4,1108.3 265.4,1108.2 267.4,1108.2 269.4,1108.1 271.4,1108.1 273.4,1108 275.4,1108 277.4,1107.9 279.4,1107.8 281.4,1107.8 283.4,1107.7 285.4,1107.7 287.4,1107.6 289.4,1107.5 291.4,1107.5 293.4,1107.4 295.4,1107.3 297.4,1107.3 299.4,1107.2 301.4,1107.1 303.4,1107.1 305.4,1107.1 307.4,1107 309.4,1107 311.4,1106.9 313.4,1106.9 315.4,1106.8 317.4,1106.8 319.4,1106.7 321.3,1106.7 323.3,1106.6 325.3,1106.6 327.3,1106.5 329.3,1106.4 331.3,1106.4 333.3,1106.3 335.3,1106.2 337.3,1106.1 339.3,1106.1 341.3,1106 343.3,1105.9 345.3,1105.8 347.3,1105.7 349.3,1105.6 351.3,1105.5 353.3,1105.4 355.3,1105.3 357.3,1105.1 359.3,1105 361.3,1104.9 363.3,1104.8 365.3,1104.6 367.3,1104.5 369.3,1104.3 371.3,1104.1 373.3,1104 375.3,1103.8 377.3,1103.6 379.3,1103.4 381.3,1103.2 383.3,1103 385.3,1102.7 387.3,1102.5 389.3,1102.2 391.3,1102 393.3,1101.7 395.3,1101.4 397.3,1101.1 399.3,1100.8 401.3,1100.5 403.3,1100.1 405.3,1099.8 407.3,1099.4 409.3,1099 411.3,1098.6 413.3,1098.2 415.3,1097.7 417.3,1097.2 419.2,1096.7 421.2,1096.2 423.2,1095.7 425.2,1095.1 427.2,1094.6 429.2,1094 431.2,1093.3 433.2,1092.7 435.2,1092 437.2,1091.3 439.2,1090.5 441.2,1089.7 443.2,1088.9 445.2,1088.1 447.2,1087.2 449.2,1086.3 451.2,1085.4 453.2,1084.4 455.2,1083.4 457.2,1082.3 459.2,1081.2 461.2,1080.1 463.2,1078.9 465.2,1077.7 467.2,1076.4 469.2,1075.1 471.2,1073.8 473.2,1072.4 475.2,1070.9 477.2,1069.4 479.2,1067.9 481.2,1066.3 483.2,1064.6 485.2,1062.9 487.2,1061.1 489.2,1059.3 491.2,1057.5 493.2,1055.5 495.2,1053.5 497.2,1051.5 499.2,1049.4 501.2,1047.2 503.2,1044.9 505.2,1042.6 507.2,1040.3 509.2,1037.8 511.2,1035.3 513.2,1032.8 515.2,1030.2 517.1,1027.5 519.1,1024.7 521.1,1021.8 523.1,1018.9 525.1,1016 527.1,1012.9 529.1,1009.8 531.1,1006.6 533.1,1003.4 535.1,1000 537.1,996.6 539.1,993.1 541.1,989.6 543.1,986 545.1,982.3 547.1,978.5 549.1,974.7 551.1,970.8 553.1,966.8 555.1,962.8 557.1,958.7 559.1,954.5 561.1,950.3 563.1,946 565.1,941.6 567.1,937.2 569.1,932.7 571.1,928.1 573.1,923.5 575.1,918.8 577.1,914.1 579.1,909.3 581.1,904.4 583.1,899.5 585.1,894.6 587.1,889.6 589.1,884.5 591.1,879.5 593.1,874.3 595.1,869.2 597.1,864 599.1,858.8 601.1,853.5 603.1,848.2 605.1,842.9 607.1,837.6 609.1,832.2 611.1,826.8 613.1,821.4 615,816 617,810.6 619,805.2 621,799.8 623,794.4 625,789.1 627,783.7 629,778.3 631,773 633,767.7 635,762.4 637,757.1 639,751.9 641,746.7 643,741.5 645,736.4 647,731.4 649,726.4 651,721.5 653,716.6 655,711.8 657,707.1 659,702.4 661,697.8 663,693.3 665,688.9 667,684.6 669,680.4 671,676.2 673,672.2 675,668.3 677,664.5 679,660.8 681,657.2 683,653.7 685,650.3 687,647.1 689,644 691,641 693,638.1 695,635.4 697,632.8 699,630.4 701,628.1 703,625.9 705,623.9 707,622 709,620.3 711,618.7 712.9,617.2 714.9,616 716.9,614.8 718.9,613.8 720.9,613 722.9,612.4 724.9,611.9 726.9,611.5 728.9,611.3 730.9,611.3 732.9,611.4 734.9,611.7 736.9,612.1 738.9,612.7 740.9,613.5 742.9,614.4 744.9,615.4 746.9,616.7 748.9,618.1 750.9,619.6 752.9,621.3 754.9,623.1 756.9,625.1 758.9,627.3 760.9,629.6 762.9,632 764.9,634.6 766.9,637.4 768.9,640.2 770.9,643.2 772.9,646.4 774.9,649.7 776.9,653.1 778.9,656.6 780.9,660.3 782.9,664.1 784.9,667.9 786.9,672 788.9,676.1 790.9,680.3 792.9,684.6 794.9,689.1 796.9,693.6 798.9,698.2 800.9,702.9 802.9,707.7 804.9,712.5 806.9,717.5 808.9,722.5 810.8,727.5 812.8,732.7 814.8,737.9 816.8,743.1 818.8,748.4 820.8,753.7 822.8,759.1 824.8,764.5 826.8,769.9 828.8,775.4 830.8,780.9 832.8,786.4 834.8,791.9 836.8,797.4 838.8,803 840.8,808.5 842.8,814.1 844.8,819.6 846.8,825.1 848.8,830.6 850.8,836.1 852.8,841.6 854.8,847.1 856.8,852.5 858.8,857.9 860.8,863.3 862.8,868.6 864.8,873.9 866.8,879.2 868.8,884.4 870.8,889.5 872.8,894.7 874.8,899.7 876.8,904.8 878.8,909.7 880.8,914.6 882.8,919.5 884.8,924.3 886.8,929 888.8,933.7 890.8,938.3 892.8,942.8 894.8,947.3 896.8,951.7 898.8,956 900.8,960.3 902.8,964.5 904.8,968.6 906.8,972.6 908.7,976.6 910.7,980.5 912.7,984.3 914.7,988.1 916.7,991.8 918.7,995.3 920.7,998.9 922.7,1002.3 924.7,1005.7 926.7,1009 928.7,1012.2 930.7,1015.3 932.7,1018.4 934.7,1021.4 936.7,1024.3 938.7,1027.2 940.7,1029.9 942.7,1032.6 944.7,1035.3 946.7,1037.8 948.7,1040.3 950.7,1042.8 952.7,1045.1 954.7,1047.4 956.7,1049.6 958.7,1051.8 960.7,1053.9 962.7,1055.9 964.7,1057.9 966.7,1059.8 968.7,1061.6 970.7,1063.4 972.7,1065.1 974.7,1066.8 976.7,1068.4 978.7,1070 980.7,1071.5 982.7,1073 984.7,1074.4 986.7,1075.8 988.7,1077.1 990.7,1078.3 992.7,1079.6 994.7,1080.7 996.7,1081.9 998.7,1083 1000.7,1084 1002.7,1085 1004.7,1086 1006.6,1086.9 1008.6,1087.8 1010.6,1088.7 1012.6,1089.5 1014.6,1090.3 1016.6,1091.1 1018.6,1091.8 1020.6,1092.5 1022.6,1093.2 1024.6,1093.9 1026.6,1094.5 1028.6,1095.1 1030.6,1095.6 1032.6,1096.2 1034.6,1096.7 1036.6,1097.2 1038.6,1097.7 1040.6,1098.1 1042.6,1098.6 1044.6,1099 1046.6,1099.4 1048.6,1099.8 1050.6,1100.1 1052.6,1100.5 1054.6,1100.8 1056.6,1101.1 1058.6,1101.4 1060.6,1101.7 1062.6,1102 1064.6,1102.3 1066.6,1102.5 1068.6,1102.8 1070.6,1103 1072.6,1103.2 1074.6,1103.4 1076.6,1103.6 1078.6,1103.8 1080.6,1104 1082.6,1104.1 1084.6,1104.3 1086.6,1104.5 1088.6,1104.6 1090.6,1104.8 1092.6,1104.9 1094.6,1105 1096.6,1105.2 1098.6,1105.3 1100.6,1105.4 1102.6,1105.5 1104.5,1105.6 1106.5,1105.7 1108.5,1105.8 1110.5,1105.9 1112.5,1106 1114.5,1106 1116.5,1106.1 1118.5,1106.2 1120.5,1106.3 1122.5,1106.3 1124.5,1106.4 1126.5,1106.5 1128.5,1106.5 1130.5,1106.6 1132.5,1106.7 1134.5,1106.7 1136.5,1106.8 1138.5,1106.8 1140.5,1106.9 1142.5,1106.9 1144.5,1107 1146.5,1107 1148.5,1107 1150.5,1107.1 1152.5,1107.1 1154.5,1107.2 1156.5,1107.2 1158.5,1107.2 1160.5,1107.3 1162.5,1107.3 1164.5,1107.3 1166.5,1107.4 1168.5,1107.4 1170.5,1107.4 1172.5,1107.5 1174.5,1107.5 1176.5,1107.5 1178.5,1107.6 1180.5,1107.6 1182.5,1107.6 1184.5,1107.6 1186.5,1107.7 1188.5,1107.7 1190.5,1107.7 1192.5,1107.7 1194.5,1107.8 1196.5,1107.8 1198.5,1107.8 1200.5,1107.8 1202.4,1107.8 1204.4,1107.9 1206.4,1107.9 1208.4,1107.9 1210.4,1107.9 1212.4,1107.9 1214.4,1108 1216.4,1108 1218.4,1108 1220.4,1108 1222.4,1108 1224.4,1108.1 1226.4,1108.1 1228.4,1108.1 1230.4,1108.1 1232.4,1108.1 1234.4,1108.1 1236.4,1108.2 1238.4,1108.2 1240.4,1108.2 1242.4,1108.2 1244.4,1108.2 1246.4,1108.2 1248.4,1108.3 1250.4,1108.3 1252.4,1108.3 1254.4,1108.4 1256.4,1108.4 1258.4,1108.5 1260.4,1108.5 1262.4,1108.6 1264.4,1108.6 1266.4,1108.7 1268.4,1108.7 1270.4,1108.8 1272.4,1108.8 1274.4,1108.9 1276.4,1108.9 1278.4,1109 1280.4,1109 1282.4,1109.1 1284.4,1109.1 1286.4,1109.2 1288.4,1109.2 1290.4,1109.3 1292.4,1109.3 1294.4,1109.4 1296.4,1109.4 1298.4,1109.5 1300.3,1109.5 1302.3,1109.6 1304.3,1109.6 1306.3,1109.7 1308.3,1109.7 1310.3,1109.7 1312.3,1109.8 1314.3,1109.8 1316.3,1109.9 1318.3,1109.9 1320.3,1110 1322.3,1110 1324.3,1110.1 1326.3,1110.1 1328.3,1110.2 1330.3,1110.2 1332.3,1110.3 1334.3,1110.3 1336.3,1110.3 1338.3,1110.3 1340.3,1110.3 1342.3,1110.3 1344.3,1110.3 1346.3,1110.3 1348.3,1110.3 1350.3,1110.3 1352.3,1110.3 1354.3,1110.3 1356.3,1110.3 1358.3,1110.3 1360.3,1110.3 1362.3,1110.3 1364.3,1110.3 1366.3,1110.3 1368.3,1110.3 1370.3,1110.3 1372.3,1110.3 1374.3,1110.3 1376.3,1110.3 1378.3,1110.3 1380.3,1110.3 1382.3,1110.3 1384.3,1110.3 1386.3,1110.3 1388.3,1110.3 1390.3,1110.3 1392.3,1110.3 1394.3,1110.3 1396.3,1110.3 1398.2,1110.3 1400.2,1110.3 1402.2,1110.3 1404.2,1110.3 1406.2,1110.3 1408.2,1110.3 1410.2,1110.3 1412.2,1110.3 1414.2,1110.3 1416.2,1110.3 1418.2,1110.3 1420.2,1110.3 1422.2,1110.3 1424.2,1110.3 1426.2,1110.3 1428.2,1110.3 1430.2,1110.3 1432.2,1110.3 1434.2,1110.3 1436.2,1110.3 1438.2,1110.3 1440.2,1110.3 1442.2,1110.3 1444.2,1110.3 1446.2,1110.3 1448.2,1110.3 1450.2,1110.3 1452.2,1110.3 1454.2,1110.3 1456.2,1110.3 1458.2,1110.3 1460.2,1110.3 1462.2,1110.3 1464.2,1110.3 1466.2,1110.3 1468.2,1110.3 1470.2,1110.3 1472.2,1110.3 1474.2,1110.3 1476.2,1110.3 1478.2,1110.3 1480.2,1110.3 1482.2,1110.3 1484.2,1110.3 1486.2,1110.3 1488.2,1110.3 1490.2,1110.3 1492.2,1110.3 1494.2,1110.3 1496.1,1110.3 1498.1,1110.3 1500.1,1110.3 1502.1,1110.3 1504.1,1110.3 1506.1,1110.3 1508.1,1110.3 1510.1,1110.3 1512.1,1110.3 1514.1,1110.3 1516.1,1110.3 1518.1,1110.3 1520.1,1110.3 1522.1,1110.3 1524.1,1110.3 1526.1,1110.3 1528.1,1110.3 1530.1,1110.3 1532.1,1110.3 1534.1,1110.3 1536.1,1110.3 1538.1,1110.3 1540.1,1110.3 1542.1,1110.3 1544.1,1110.3 1546.1,1110.3 1548.1,1110.3 1550.1,1110.3 1552.1,1110.3 1554.1,1110.3 1556.1,1110.3 1558.1,1110.3 1560.1,1110.3 1562.1,1110.3 1564.1,1110.3 1566.1,1110.3 1568.1,1110.3 1570.1,1110.3 1572.1,1110.3 1574.1,1110.3 1576.1,1110.3 1578.1,1110.3 1580.1,1110.3 1582.1,1110.3 1584.1,1110.3 1586.1,1110.3 1588.1,1110.3 1590.1,1110.3 1592.1,1110.3 1594,1110.3 1596,1110.3 1598,1110.3 1600,1110.3 1602,1110.3 1604,1110.3 1606,1110.3 1608,1110.3 1610,1110.3 1612,1110.3 1614,1110.3 1616,1110.3 1618,1110.3 1620,1110.3 1622,1110.3 1624,1110.3 1626,1110.3 1628,1110.3 1630,1110.3 1632,1110.3 1634,1110.3 1636,1110.3 1638,1110.3 1640,1110.3 1642,1110.3 1644,1110.3 1646,1110.3 1648,1110.3 1650,1110.3 1652,1110.3 1654,1110.3 1656,1110.3 1658,1110.3 1660,1110.3 1662,1110.3 1664,1110.3 1666,1110.3 1668,1110.3 1670,1110.3 1672,1110.3 1674,1110.3 1676,1110.3 1678,1110.3 1680,1110.3 1682,1110.3 1684,1110.3 1686,1110.3 1688,1110.3 1690,1110.3 1691.9,1110.3 1693.9,1110.3 1695.9,1110.3 1697.9,1110.3 1699.9,1110.3 1701.9,1110.3 1703.9,1110.3 1705.9,1110.3 1707.9,1110.3 1709.9,1110.3 1711.9,1110.3 1713.9,1110.3 1715.9,1110.3 1717.9,1110.3 1719.9,1110.3 1721.9,1110.3 1723.9,1110.3 1725.9,1110.3 1727.9,1110.3 1729.9,1110.3 1731.9,1110.3 1733.9,1110.3 1735.9,1110.3 1737.9,1110.3 1739.9,1110.3 1741.9,1110.3 1743.9,1110.3 1745.9,1110.3 1747.9,1110.3 1749.9,1110.3 1751.9,1110.3 1753.9,1110.3 1755.9,1110.3 1757.9,1110.3 1759.9,1110.3 1761.9,1110.3 1763.9,1110.3 1765.9,1110.3 1767.9,1110.3 1769.9,1110.3 1771.9,1110.3 1773.9,1110.3 1775.9,1110.3 1777.9,1110.3 1779.9,1110.3 1781.9,1110.3 1783.9,1110.3 1785.9,1110.3 1787.9,1110.3 1789.8,1110.3 1791.8,1110.3 1793.8,1110.3 1795.8,1110.3 1797.8,1110.3 1799.8,1110.3 1801.8,1110.3 1803.8,1110.3 1805.8,1110.3 1807.8,1110.3 1809.8,1110.3 1811.8,1110.3 1813.8,1110.3 1815.8,1110.3 1817.8,1110.3 1819.8,1110.3 1821.8,1110.3 1823.8,1110.3 1825.8,1110.3 1827.8,1110.3 1829.8,1110.3 1831.8,1110.3 1833.8,1110.3 1835.8,1110.3 1837.8,1110.3 1839.8,1110.3 1841.8,1110.3 1843.8,1110.3 1845.8,1110.3 1847.8,1110.3 1849.8,1110.3 1851.8,1110.3 1853.8,1110.3 1855.8,1110.3 1857.8,1110.3 1859.8,1110.3 1861.8,1110.3 1863.8,1110.3 1865.8,1110.3 1867.8,1110.3 1869.8,1110.3 1871.8,1110.3 1873.8,1110.3 1875.8,1110.3 1877.8,1110.3 1879.8,1110.3 1881.8,1110.3 1883.8,1110.3 1885.8,1110.3 1887.7,1110.3 1889.7,1110.3 1891.7,1110.3 1893.7,1110.3 1895.7,1110.3 1897.7,1110.3 1899.7,1110.3 1901.7,1110.3 1903.7,1110.3 1905.7,1110.3 1907.7,1110.3 1909.7,1110.3 1911.7,1110.3 1913.7,1110.3 1915.7,1110.3 1917.7,1110.3 1919.7,1110.3 1921.7,1110.3 1923.7,1110.3 1925.7,1110.3 1927.7,1110.3 1929.7,1110.3 1931.7,1110.3 1933.7,1110.3 1935.7,1110.3" fill="none" stroke="#10cc10" stroke-width="4" stroke-linejoin="round"/>
<path d="M173.5,1109.7 175.5,1109.7 177.5,1109.7 179.5,1109.7 181.5,1109.7 183.5,1109.7 185.5,1109.7 187.5,1109.7 189.5,1109.7 191.5,1109.7 193.5,1109.7 195.5,1109.7 197.5,1109.7 199.5,1109.7 201.5,1109.7 203.5,1109.7 205.5,1109.7 207.5,1109.7 209.5,1109.7 211.5,1109.7 213.5,1109.7 215.5,1109.7 217.5,1109.7 219.5,1109.7 221.5,1109.7 223.4,1109.7 225.4,1109.7 227.4,1109.7 229.4,1109.7 231.4,1109.7 233.4,1109.7 235.4,1109.7 237.4,1109.7 239.4,1109.7 241.4,1109.7 243.4,1109.7 245.4,1109.7 247.4,1109.7 249.4,1109.7 251.4,1109.7 253.4,1109.7 255.4,1109.7 257.4,1109.7 259.4,1109.7 261.4,1109.7 263.4,1109.7 265.4,1109.7 267.4,1109.7 269.4,1109.7 271.4,1109.7 273.4,1109.7 275.4,1109.7 277.4,1109.7 279.4,1109.7 281.4,1109.7 283.4,1109.7 285.4,1109.7 287.4,1109.7 289.4,1109.7 291.4,1109.7 293.4,1109.7 295.4,1109.7 297.4,1109.7 299.4,1109.7 301.4,1109.7 303.4,1109.7 305.4,1109.7 307.4,1109.7 309.4,1109.7 311.4,1109.7 313.4,1109.7 315.4,1109.7 317.4,1109.7 319.4,1109.7 321.3,1109.7 323.3,1109.7 325.3,1109.7 327.3,1109.7 329.3,1109.7 331.3,1109.7 333.3,1109.7 335.3,1109.7 337.3,1109.7 339.3,1109.7 341.3,1109.7 343.3,1109.7 345.3,1109.7 347.3,1109.7 349.3,1109.7 351.3,1109.7 353.3,1109.7 355.3,1109.7 357.3,1109.7 359.3,1109.7 361.3,1109.7 363.3,1109.7 365.3,1109.7 367.3,1109.7 369.3,1109.7 371.3,1109.7 373.3,1109.7 375.3,1109.7 377.3,1109.7 379.3,1109.7 381.3,1109.7 383.3,1109.7 385.3,1109.7 387.3,1109.7 389.3,1109.7 391.3,1109.7 393.3,1109.7 395.3,1109.7 397.3,1109.7 399.3,1109.7 401.3,1109.7 403.3,1109.7 405.3,1109.7 407.3,1109.7 409.3,1109.7 411.3,1109.7 413.3,1109.7 415.3,1109.7 417.3,1109.7 419.2,1109.7 421.2,1109.7 423.2,1109.7 425.2,1109.7 427.2,1109.7 429.2,1109.7 431.2,1109.7 433.2,1109.7 435.2,1109.7 437.2,1109.7 439.2,1109.7 441.2,1109.7 443.2,1109.7 445.2,1109.7 447.2,1109.7 449.2,1109.7 451.2,1109.7 453.2,1109.7 455.2,1109.7 457.2,1109.7 459.2,1109.7 461.2,1109.7 463.2,1109.7 465.2,1109.7 467.2,1109.7 469.2,1109.7 471.2,1109.7 473.2,1109.7 475.2,1109.7 477.2,1109.7 479.2,1109.7 481.2,1109.7 483.2,1109.7 485.2,1109.7 487.2,1109.7 489.2,1109.7 491.2,1109.7 493.2,1109.7 495.2,1109.7 497.2,1109.7 499.2,1109.7 501.2,1109.7 503.2,1109.7 505.2,1109.7 507.2,1109.7 509.2,1109.7 511.2,1109.7 513.2,1109.7 515.2,1109.7 517.1,1109.7 519.1,1109.7 521.1,1109.7 523.1,1109.7 525.1,1109.7 527.1,1109.7 529.1,1109.7 531.1,1109.7 533.1,1109.7 535.1,1109.7 537.1,1109.7 539.1,1109.7 541.1,1109.7 543.1,1109.7 545.1,1109.7 547.1,1109.7 549.1,1109.7 551.1,1109.7 553.1,1109.7 555.1,1109.7 557.1,1109.7 559.1,1109.7 561.1,1109.7 563.1,1109.7 565.1,1109.7 567.1,1109.7 569.1,1109.7 571.1,1109.7 573.1,1109.7 575.1,1109.7 577.1,1109.7 579.1,1109.7 581.1,1109.7 583.1,1109.7 585.1,1109.7 587.1,1109.7 589.1,1109.7 591.1,1109.7 593.1,1109.7 595.1,1109.7 597.1,1109.7 599.1,1109.7 601.1,1109.7 603.1,1109.7 605.1,1109.7 607.1,1109.7 609.1,1109.7 611.1,1109.7 613.1,1109.7 615,1109.7 617,1109.7 619,1109.7 621,1109.7 623,1109.7 625,1109.7 627,1109.7 629,1109.7 631,1109.7 633,1109.7 635,1109.7 637,1109.7 639,1109.7 641,1109.7 643,1109.7 645,1109.7 647,1109.7 649,1109.7 651,1109.7 653,1109.7 655,1109.7 657,1109.7 659,1109.7 661,1109.7 663,1109.7 665,1109.7 667,1109.7 669,1109.7 671,1109.7 673,1109.7 675,1109.7 677,1109.7 679,1109.7 681,1109.7 683,1109.7 685,1109.7 687,1109.7 689,1109.7 691,1109.7 693,1109.7 695,1109.7 697,1109.7 699,1109.7 701,1109.7 703,1109.7 705,1109.7 707,1109.7 709,1109.7 711,1109.7 712.9,1109.7 714.9,1109.7 716.9,1109.7 718.9,1109.7 720.9,1109.7 722.9,1109.7 724.9,1109.7 726.9,1109.7 728.9,1109.7 730.9,1109.7 732.9,1109.7 734.9,1109.7 736.9,1109.7 738.9,1109.7 740.9,1109.7 742.9,1109.7 744.9,1109.7 746.9,1109.7 748.9,1109.7 750.9,1109.7 752.9,1109.7 754.9,1109.7 756.9,1109.7 758.9,1109.7 760.9,1109.7 762.9,1109.7 764.9,1109.7 766.9,1109.7 768.9,1109.7 770.9,1109.7 772.9,1109.7 774.9,1109.7 776.9,1109.7 778.9,1109.7 780.9,1109.7 782.9,1109.7 784.9,1109.7 786.9,1109.7 788.9,1109.7 790.9,1109.7 792.9,1109.7 794.9,1109.7 796.9,1109.7 798.9,1109.7 800.9,1109.7 802.9,1109.7 804.9,1109.7 806.9,1109.7 808.9,1109.7 810.8,1109.7 812.8,1109.7 814.8,1109.7 816.8,1109.7 818.8,1109.7 820.8,1109.7 822.8,1109.7 824.8,1109.7 826.8,1109.7 828.8,1109.7 830.8,1109.7 832.8,1109.7 834.8,1109.7 836.8,1109.7 838.8,1109.7 840.8,1109.7 842.8,1109.7 844.8,1109.7 846.8,1109.7 848.8,1109.7 850.8,1109.7 852.8,1109.7 854.8,1109.7 856.8,1109.7 858.8,1109.7 860.8,1109.7 862.8,1109.7 864.8,1109.7 866.8,1109.7 868.8,1109.7 870.8,1109.7 872.8,1109.7 874.8,1109.7 876.8,1109.7 878.8,1109.7 880.8,1109.7 882.8,1109.7 884.8,1109.7 886.8,1109.7 888.8,1109.7 890.8,1109.7 892.8,1109.7 894.8,1109.7 896.8,1109.7 898.8,1109.7 900.8,1109.7 902.8,1109.7 904.8,1109.7 906.8,1109.7 908.7,1109.7 910.7,1109.7 912.7,1109.7 914.7,1109.7 916.7,1109.7 918.7,1109.7 920.7,1109.7 922.7,1109.7 924.7,1109.7 926.7,1109.7 928.7,1109.7 930.7,1109.7 932.7,1109.7 934.7,1109.7 936.7,1109.7 938.7,1109.7 940.7,1109.7 942.7,1109.7 944.7,1109.7 946.7,1109.7 948.7,1109.7 950.7,1109.7 952.7,1109.7 954.7,1109.7 956.7,1109.7 958.7,1109.7 960.7,1109.7 962.7,1109.7 964.7,1109.7 966.7,1109.7 968.7,1109.7 970.7,1109.7 972.7,1109.7 974.7,1109.7 976.7,1109.7 978.7,1109.7 980.7,1109.7 982.7,1109.7 984.7,1109.7 986.7,1109.7 988.7,1109.7 990.7,1109.7 992.7,1109.7 994.7,1109.7 996.7,1109.7 998.7,1109.7 1000.7,1109.7 1002.7,1109.7 1004.7,1109.7 1006.6,1109.7 1008.6,1109.7 1010.6,1109.7 1012.6,1109.7 1014.6,1109.7 1016.6,1109.7 1018.6,1109.7 1020.6,1109.7 1022.6,1109.7 1024.6,1109.7 1026.6,1109.7 1028.6,1109.7 1030.6,1109.7 1032.6,1109.7 1034.6,1109.7 1036.6,1109.7 1038.6,1109.7 1040.6,1109.7 1042.6,1109.7 1044.6,1109.7 1046.6,1109.7 1048.6,1109.7 1050.6,1109.7 1052.6,1109.7 1054.6,1109.7 1056.6,1109.7 1058.6,1109.7 1060.6,1109.7 1062.6,1109.7 1064.6,1109.7 1066.6,1109.6 1068.6,1109.6 1070.6,1109.6 1072.6,1109.6 1074.6,1109.6 1076.6,1109.6 1078.6,1109.6 1080.6,1109.6 1082.6,1109.6 1084.6,1109.6 1086.6,1109.6 1088.6,1109.6 1090.6,1109.6 1092.6,1109.6 1094.6,1109.5 1096.6,1109.5 1098.6,1109.4 1100.6,1109.4 1102.6,1109.3 1104.5,1109.2 1106.5,1109.1 1108.5,1109 1110.5,1108.8 1112.5,1108.7 1114.5,1108.6 1116.5,1108.5 1118.5,1108.3 1120.5,1108.2 1122.5,1108.1 1124.5,1107.9 1126.5,1107.8 1128.5,1107.7 1130.5,1107.6 1132.5,1107.4 1134.5,1107.3 1136.5,1107.2 1138.5,1107 1140.5,1106.8 1142.5,1106.7 1144.5,1106.5 1146.5,1106.3 1148.5,1106.2 1150.5,1106 1152.5,1105.8 1154.5,1105.7 1156.5,1105.5 1158.5,1105.3 1160.5,1105.2 1162.5,1105 1164.5,1104.9 1166.5,1104.7 1168.5,1104.6 1170.5,1104.5 1172.5,1104.4 1174.5,1104.3 1176.5,1104.3 1178.5,1104.2 1180.5,1104.2 1182.5,1104.1 1184.5,1104.1 1186.5,1104.1 1188.5,1104 1190.5,1104 1192.5,1104 1194.5,1103.9 1196.5,1103.9 1198.5,1103.9 1200.5,1103.8 1202.4,1103.8 1204.4,1103.8 1206.4,1103.7 1208.4,1103.7 1210.4,1103.7 1212.4,1103.6 1214.4,1103.6 1216.4,1103.5 1218.4,1103.5 1220.4,1103.4 1222.4,1103.4 1224.4,1103.3 1226.4,1103.2 1228.4,1103.2 1230.4,1103.1 1232.4,1103.1 1234.4,1103 1236.4,1102.9 1238.4,1102.9 1240.4,1102.8 1242.4,1102.7 1244.4,1102.6 1246.4,1102.5 1248.4,1102.4 1250.4,1102.3 1252.4,1102.2 1254.4,1102.1 1256.4,1102.1 1258.4,1102.1 1260.4,1102.2 1262.4,1102.2 1264.4,1102.3 1266.4,1102.4 1268.4,1102.5 1270.4,1102.6 1272.4,1102.8 1274.4,1102.9 1276.4,1103.1 1278.4,1103.4 1280.4,1103.6 1282.4,1103.9 1284.4,1104.1 1286.4,1104.4 1288.4,1104.6 1290.4,1104.8 1292.4,1105 1294.4,1105.2 1296.4,1105.4 1298.4,1105.6 1300.3,1105.8 1302.3,1106 1304.3,1106.2 1306.3,1106.3 1308.3,1106.5 1310.3,1106.7 1312.3,1106.8 1314.3,1107 1316.3,1107.1 1318.3,1107.2 1320.3,1107.3 1322.3,1107.5 1324.3,1107.6 1326.3,1107.7 1328.3,1107.8 1330.3,1107.9 1332.3,1108 1334.3,1108.1 1336.3,1108.2 1338.3,1108.2 1340.3,1108.3 1342.3,1108.4 1344.3,1108.4 1346.3,1108.5 1348.3,1108.6 1350.3,1108.6 1352.3,1108.7 1354.3,1108.8 1356.3,1108.8 1358.3,1108.9 1360.3,1108.9 1362.3,1109 1364.3,1109 1366.3,1109.1 1368.3,1109.1 1370.3,1109.2 1372.3,1109.2 1374.3,1109.3 1376.3,1109.3 1378.3,1109.4 1380.3,1109.4 1382.3,1109.4 1384.3,1109.5 1386.3,1109.5 1388.3,1109.5 1390.3,1109.5 1392.3,1109.6 1394.3,1109.6 1396.3,1109.6 1398.2,1109.6 1400.2,1109.6 1402.2,1109.6 1404.2,1109.6 1406.2,1109.6 1408.2,1109.6 1410.2,1109.6 1412.2,1109.6 1414.2,1109.6 1416.2,1109.6 1418.2,1109.6 1420.2,1109.6 1422.2,1109.6 1424.2,1109.6 1426.2,1109.6 1428.2,1109.6 1430.2,1109.6 1432.2,1109.6 1434.2,1109.6 1436.2,1109.6 1438.2,1109.6 1440.2,1109.6 1442.2,1109.6 1444.2,1109.6 1446.2,1109.6 1448.2,1109.6 1450.2,1109.6 1452.2,1109.6 1454.2,1109.6 1456.2,1109.6 1458.2,1109.6 1460.2,1109.6 1462.2,1109.6 1464.2,1109.6 1466.2,1109.6 1468.2,1109.6 1470.2,1109.6 1472.2,1109.6 1474.2,1109.6 1476.2,1109.6 1478.2,1109.6 1480.2,1109.6 1482.2,1109.6 1484.2,1109.6 1486.2,1109.6 1488.2,1109.6 1490.2,1109.6 1492.2,1109.6 1494.2,1109.6 1496.1,1109.6 1498.1,1109.6 1500.1,1109.6 1502.1,1109.6 1504.1,1109.6 1506.1,1109.6 1508.1,1109.6 1510.1,1109.6 1512.1,1109.6 1514.1,1109.6 1516.1,1109.6 1518.1,1109.6 1520.1,1109.6 1522.1,1109.6 1524.1,1109.6 1526.1,1109.6 1528.1,1109.7 1530.1,1109.7 1532.1,1109.7 1534.1,1109.7 1536.1,1109.7 1538.1,1109.7 1540.1,1109.7 1542.1,1109.7 1544.1,1109.7 1546.1,1109.7 1548.1,1109.7 1550.1,1109.7 1552.1,1109.7 1554.1,1109.7 1556.1,1109.7 1558.1,1109.7 1560.1,1109.7 1562.1,1109.7 1564.1,1109.7 1566.1,1109.7 1568.1,1109.7 1570.1,1109.7 1572.1,1109.7 1574.1,1109.7 1576.1,1109.7 1578.1,1109.7 1580.1,1109.7 1582.1,1109.7 1584.1,1109.7 1586.1,1109.7 1588.1,1109.7 1590.1,1109.7 1592.1,1109.7 1594,1109.7 1596,1109.7 1598,1109.7 1600,1109.7 1602,1109.7 1604,1109.7 1606,1109.7 1608,1109.7 1610,1109.7 1612,1109.7 1614,1109.7 1616,1109.7 1618,1109.7 1620,1109.7 1622,1109.7 1624,1109.7 1626,1109.7 1628,1109.7 1630,1109.7 1632,1109.7 1634,1109.7 1636,1109.7 1638,1109.7 1640,1109.7 1642,1109.7 1644,1109.7 1646,1109.7 1648,1109.7 1650,1109.7 1652,1109.7 1654,1109.7 1656,1109.7 1658,1109.7 1660,1109.7 1662,1109.7 1664,1109.7 1666,1109.7 1668,1109.7 1670,1109.7 1672,1109.7 1674,1109.7 1676,1109.7 1678,1109.7 1680,1109.7 1682,1109.7 1684,1109.7 1686,1109.7 1688,1109.7 1690,1109.7 1691.9,1109.7 1693.9,1109.7 1695.9,1109.7 1697.9,1109.7 1699.9,1109.7 1701.9,1109.7 1703.9,1109.7 1705.9,1109.7 1707.9,1109.7 1709.9,1109.7 1711.9,1109.7 1713.9,1109.7 1715.9,1109.7 1717.9,1109.7 1719.9,1109.7 1721.9,1109.7 1723.9,1109.7 1725.9,1109.7 1727.9,1109.7 1729.9,1109.7 1731.9,1109.7 1733.9,1109.7 1735.9,1109.7 1737.9,1109.7 1739.9,1109.7 1741.9,1109.7 1743.9,1109.7 1745.9,1109.7 1747.9,1109.7 1749.9,1109.7 1751.9,1109.7 1753.9,1109.7 1755.9,1109.7 1757.9,1109.7 1759.9,1109.7 1761.9,1109.7 1763.9,1109.7 1765.9,1109.7 1767.9,1109.7 1769.9,1109.7 1771.9,1109.7 1773.9,1109.7 1775.9,1109.7 1777.9,1109.7 1779.9,1109.7 1781.9,1109.7 1783.9,1109.7 1785.9,1109.7 1787.9,1109.7 1789.8,1109.7 1791.8,1109.7 1793.8,1109.7 1795.8,1109.7 1797.8,1109.7 1799.8,1109.7 1801.8,1109.7 1803.8,1109.7 1805.8,1109.7 1807.8,1109.7 1809.8,1109.7 1811.8,1109.7 1813.8,1109.7 1815.8,1109.7 1817.8,1109.7 1819.8,1109.7 1821.8,1109.7 1823.8,1109.7 1825.8,1109.7 1827.8,1109.7 1829.8,1109.7 1831.8,1109.7 1833.8,1109.7 1835.8,1109.7 1837.8,1109.7 1839.8,1109.7 1841.8,1109.7 1843.8,1109.7 1845.8,1109.7 1847.8,1109.7 1849.8,1109.7 1851.8,1109.7 1853.8,1109.7 1855.8,1109.7 1857.8,1109.7 1859.8,1109.7 1861.8,1109.7 1863.8,1109.7 1865.8,1109.7 1867.8,1109.7 1869.8,1109.7 1871.8,1109.7 1873.8,1109.7 1875.8,1109.7 1877.8,1109.7 1879.8,1109.7 1881.8,1109.7 1883.8,1109.7 1885.8,1109.7 1887.7,1109.7 1889.7,1109.7 1891.7,1109.7 1893.7,1109.7 1895.7,1109.7 1897.7,1109.7 1899.7,1109.7 1901.7,1109.7 1903.7,1109.7 1905.7,1109.7 1907.7,1109.7 1909.7,1109.7 1911.7,1109.7 1913.7,1109.7 1915.7,1109.7 1917.7,1109.7 1919.7,1109.7 1921.7,1109.7 1923.7,1109.7 1925.7,1109.7 1927.7,1109.7 1929.7,1109.7 1931.7,1109.7 1933.7,1109.7 1935.7,1109.7" fill="none" stroke="#800000" stroke-width="4.4" stroke-linejoin="round"/>
<g fill="#ff0000"><rect x="162.5" y="1050.3" width="22" height="22"/><rect x="169.8" y="1046.3" width="22" height="22"/><rect x="177.2" y="1047" width="22" height="22"/><rect x="184.5" y="1045.1" width="22" height="22"/><rect x="191.9" y="1051.9" width="22" height="22"/><rect x="199.2" y="1046.2" width="22" height="22"/><rect x="206.6" y="1036.7" width="22" height="22"/><rect x="213.9" y="1042.7" width="22" height="22"/><rect x="221.2" y="1036.6" width="22" height="22"/><rect x="228.6" y="1036.3" width="22" height="22"/><rect x="235.9" y="1043.1" width="22" height="22"/><rect x="243.3" y="1051.8" width="22" height="22"/><rect x="250.6" y="1045.5" width="22" height="22"/><rect x="258" y="1039.5" width="22" height="22"/><rect x="265.3" y="1040.4" width="22" height="22"/><rect x="272.6" y="1050.1" width="22" height="22"/><rect x="280" y="1045.3" width="22" height="22"/><rect x="287.3" y="1044.5" width="22" height="22"/><rect x="294.7" y="1043.8" width="22" height="22"/><rect x="302" y="1044" width="22" height="22"/><rect x="309.4" y="1047.4" width="22" height="22"/><rect x="316.7" y="1045.8" width="22" height="22"/><rect x="324" y="1043.9" width="22" height="22"/><rect x="331.4" y="1037.3" width="22" height="22"/><rect x="338.7" y="1044.4" width="22" height="22"/><rect x="346.1" y="1038.2" width="22" height="22"/><rect x="353.4" y="1046.6" width="22" height="22"/><rect x="360.7" y="1034.2" width="22" height="22"/><rect x="368.1" y="1039.1" width="22" height="22"/><rect x="375.4" y="1038.9" width="22" height="22"/><rect x="382.8" y="1031.8" width="22" height="22"/><rect x="390.1" y="1045.9" width="22" height="22"/><rect x="397.5" y="1043.6" width="22" height="22"/><rect x="404.8" y="1032.5" width="22" height="22"/><rect x="412.1" y="1036.7" width="22" height="22"/><rect x="419.5" y="1033.6" width="22" height="22"/><rect x="426.8" y="1018.8" width="22" height="22"/><rect x="434.2" y="1027.6" width="22" height="22"/><rect x="441.5" y="1024" width="22" height="22"/><rect x="448.9" y="1021.2" width="22" height="22"/><rect x="456.2" y="1010.9" width="22" height="22"/><rect x="463.5" y="1010.9" width="22" height="22"/><rect x="470.9" y="1007.7" width="22" height="22"/><rect x="478.2" y="1008.2" width="22" height="22"/><rect x="485.6" y="995" width="22" height="22"/><rect x="492.9" y="990" width="22" height="22"/><rect x="500.3" y="986.3" width="22" height="22"/><rect x="507.6" y="966.4" width="22" height="22"/><rect x="514.9" y="958.5" width="22" height="22"/><rect x="522.3" y="932.5" width="22" height="22"/><rect x="529.6" y="941.6" width="22" height="22"/><rect x="537" y="929.6" width="22" height="22"/><rect x="544.3" y="910.5" width="22" height="22"/><rect x="551.7" y="891.2" width="22" height="22"/><rect x="559" y="874" width="22" height="22"/><rect x="566.3" y="853.7" width="22" height="22"/><rect x="573.7" y="835.5" width="22" height="22"/><rect x="581" y="813.6" width="22" height="22"/><rect x="588.4" y="792.1" width="22" height="22"/><rect x="595.7" y="788.9" width="22" height="22"/><rect x="603" y="759.4" width="22" height="22"/><rect x="610.4" y="738.2" width="22" height="22"/><rect x="617.7" y="712.2" width="22" height="22"/><rect x="625.1" y="697.1" width="22" height="22"/><rect x="632.4" y="672" width="22" height="22"/><rect x="639.8" y="642" width="22" height="22"/><rect x="647.1" y="615" width="22" height="22"/><rect x="654.4" y="634" width="22" height="22"/><rect x="661.8" y="599" width="22" height="22"/><rect x="669.1" y="599" width="22" height="22"/><rect x="676.5" y="628" width="22" height="22"/><rect x="683.8" y="571" width="22" height="22"/><rect x="691.2" y="574" width="22" height="22"/><rect x="698.5" y="577" width="22" height="22"/><rect x="705.8" y="579" width="22" height="22"/><rect x="713.2" y="525" width="22" height="22"/><rect x="720.5" y="534" width="22" height="22"/><rect x="727.9" y="541" width="22" height="22"/><rect x="735.2" y="545" width="22" height="22"/><rect x="742.6" y="534" width="22" height="22"/><rect x="749.9" y="595" width="22" height="22"/><rect x="757.2" y="603" width="22" height="22"/><rect x="764.6" y="556" width="22" height="22"/><rect x="771.9" y="589" width="22" height="22"/><rect x="779.3" y="597" width="22" height="22"/><rect x="786.6" y="605" width="22" height="22"/><rect x="794" y="642" width="22" height="22"/><rect x="801.3" y="664" width="22" height="22"/><rect x="808.6" y="679.6" width="22" height="22"/><rect x="816" y="681.4" width="22" height="22"/><rect x="823.3" y="698.6" width="22" height="22"/><rect x="830.7" y="716.1" width="22" height="22"/><rect x="838" y="740.3" width="22" height="22"/><rect x="845.4" y="756.3" width="22" height="22"/><rect x="852.7" y="772.4" width="22" height="22"/><rect x="860" y="807.6" width="22" height="22"/><rect x="867.4" y="806" width="22" height="22"/><rect x="874.7" y="841.1" width="22" height="22"/><rect x="882.1" y="853.5" width="22" height="22"/><rect x="889.4" y="860.9" width="22" height="22"/><rect x="896.8" y="882.7" width="22" height="22"/><rect x="904.1" y="903.4" width="22" height="22"/><rect x="911.4" y="906.2" width="22" height="22"/><rect x="918.8" y="920.1" width="22" height="22"/><rect x="926.1" y="920.2" width="22" height="22"/><rect x="933.5" y="939.6" width="22" height="22"/><rect x="940.8" y="959.4" width="22" height="22"/><rect x="948.1" y="965.2" width="22" height="22"/><rect x="955.5" y="960.3" width="22" height="22"/><rect x="962.8" y="968" width="22" height="22"/><rect x="970.2" y="977.8" width="22" height="22"/><rect x="977.5" y="988.3" width="22" height="22"/><rect x="984.9" y="989" width="22" height="22"/><rect x="992.2" y="997.4" width="22" height="22"/><rect x="999.5" y="1002.5" width="22" height="22"/><rect x="1006.9" y="1002.2" width="22" height="22"/><rect x="1014.2" y="1008.5" width="22" height="22"/><rect x="1021.6" y="1012.5" width="22" height="22"/><rect x="1028.9" y="1015" width="22" height="22"/><rect x="1036.3" y="1020.6" width="22" height="22"/><rect x="1043.6" y="1030.6" width="22" height="22"/><rect x="1050.9" y="1025.5" width="22" height="22"/><rect x="1058.3" y="1025" width="22" height="22"/><rect x="1065.6" y="1016.9" width="22" height="22"/><rect x="1073" y="1030" width="22" height="22"/><rect x="1080.3" y="1019.8" width="22" height="22"/><rect x="1087.7" y="1023.5" width="22" height="22"/><rect x="1095" y="1037.3" width="22" height="22"/><rect x="1102.3" y="1037.1" width="22" height="22"/><rect x="1109.7" y="1034.3" width="22" height="22"/><rect x="1117" y="1027" width="22" height="22"/><rect x="1124.4" y="1035" width="22" height="22"/><rect x="1131.7" y="1034.1" width="22" height="22"/><rect x="1139.1" y="1041.1" width="22" height="22"/><rect x="1146.4" y="1048.7" width="22" height="22"/><rect x="1153.7" y="1040.3" width="22" height="22"/><rect x="1161.1" y="1035.6" width="22" height="22"/><rect x="1168.4" y="1033.8" width="22" height="22"/><rect x="1175.8" y="1039.5" width="22" height="22"/><rect x="1183.1" y="1038.8" width="22" height="22"/><rect x="1190.5" y="1033.5" width="22" height="22"/><rect x="1197.8" y="1039.4" width="22" height="22"/><rect x="1205.1" y="1031.9" width="22" height="22"/><rect x="1212.5" y="1041.7" width="22" height="22"/><rect x="1219.8" y="1038.7" width="22" height="22"/><rect x="1227.2" y="1035.2" width="22" height="22"/><rect x="1234.5" y="1017.4" width="22" height="22"/><rect x="1241.8" y="1015" width="22" height="22"/><rect x="1249.2" y="995.3" width="22" height="22"/><rect x="1256.5" y="979.5" width="22" height="22"/><rect x="1263.9" y="960" width="22" height="22"/><rect x="1271.2" y="925.9" width="22" height="22"/><rect x="1278.6" y="894.2" width="22" height="22"/><rect x="1285.9" y="859.1" width="22" height="22"/><rect x="1293.2" y="819.8" width="22" height="22"/><rect x="1300.6" y="777.4" width="22" height="22"/><rect x="1307.9" y="746.8" width="22" height="22"/><rect x="1315.3" y="687.5" width="22" height="22"/><rect x="1322.6" y="623.1" width="22" height="22"/><rect x="1330" y="604.7" width="22" height="22"/><rect x="1337.3" y="571" width="22" height="22"/><rect x="1344.6" y="528.4" width="22" height="22"/><rect x="1352" y="516" width="22" height="22"/><rect x="1359.3" y="502" width="22" height="22"/><rect x="1366.7" y="472.1" width="22" height="22"/><rect x="1374" y="466" width="22" height="22"/><rect x="1381.4" y="416" width="22" height="22"/><rect x="1388.7" y="380" width="22" height="22"/><rect x="1396" y="380" width="22" height="22"/><rect x="1403.4" y="327" width="22" height="22"/><rect x="1410.7" y="289" width="22" height="22"/><rect x="1418.1" y="273" width="22" height="22"/><rect x="1425.4" y="309" width="22" height="22"/><rect x="1432.8" y="396" width="22" height="22"/><rect x="1440.1" y="458" width="22" height="22"/><rect x="1447.4" y="432.3" width="22" height="22"/><rect x="1454.8" y="545.2" width="22" height="22"/><rect x="1462.1" y="600.8" width="22" height="22"/><rect x="1469.5" y="687.1" width="22" height="22"/><rect x="1476.8" y="744.3" width="22" height="22"/><rect x="1484.1" y="792.1" width="22" height="22"/><rect x="1491.5" y="846.6" width="22" height="22"/><rect x="1498.8" y="907.9" width="22" height="22"/><rect x="1506.2" y="935.8" width="22" height="22"/><rect x="1513.5" y="977.6" width="22" height="22"/><rect x="1520.9" y="1001.8" width="22" height="22"/><rect x="1528.2" y="1018" width="22" height="22"/><rect x="1535.5" y="1030.5" width="22" height="22"/><rect x="1542.9" y="1038.4" width="22" height="22"/><rect x="1550.2" y="1045" width="22" height="22"/><rect x="1557.6" y="1046.4" width="22" height="22"/><rect x="1564.9" y="1049.3" width="22" height="22"/><rect x="1572.3" y="1053.5" width="22" height="22"/><rect x="1579.6" y="1051.5" width="22" height="22"/><rect x="1586.9" y="1051.8" width="22" height="22"/><rect x="1594.3" y="1058.2" width="22" height="22"/><rect x="1601.6" y="1063" width="22" height="22"/><rect x="1609" y="1053.5" width="22" height="22"/><rect x="1616.3" y="1060.5" width="22" height="22"/><rect x="1623.7" y="1058.6" width="22" height="22"/><rect x="1631" y="1057.5" width="22" height="22"/><rect x="1638.3" y="1066.1" width="22" height="22"/><rect x="1645.7" y="1060.7" width="22" height="22"/><rect x="1653" y="1069.8" width="22" height="22"/><rect x="1660.4" y="1060.7" width="22" height="22"/><rect x="1667.7" y="1066" width="22" height="22"/><rect x="1675.1" y="1063.6" width="22" height="22"/><rect x="1682.4" y="1061.7" width="22" height="22"/><rect x="1689.7" y="1068" width="22" height="22"/><rect x="1697.1" y="1065" width="22" height="22"/><rect x="1704.4" y="1068.7" width="22" height="22"/><rect x="1711.8" y="1066.3" width="22" height="22"/><rect x="1719.1" y="1062" width="22" height="22"/><rect x="1726.5" y="1066.5" width="22" height="22"/><rect x="1733.8" y="1067.5" width="22" height="22"/><rect x="1741.1" y="1071.6" width="22" height="22"/><rect x="1748.5" y="1064" width="22" height="22"/><rect x="1755.8" y="1067.9" width="22" height="22"/><rect x="1763.2" y="1061" width="22" height="22"/><rect x="1770.5" y="1071.3" width="22" height="22"/><rect x="1777.8" y="1064.2" width="22" height="22"/><rect x="1785.2" y="1061.3" width="22" height="22"/><rect x="1792.5" y="1068.9" width="22" height="22"/><rect x="1799.9" y="1074.2" width="22" height="22"/><rect x="1807.2" y="1063.2" width="22" height="22"/><rect x="1814.6" y="1065.3" width="22" height="22"/><rect x="1821.9" y="1066.9" width="22" height="22"/><rect x="1829.2" y="1065.5" width="22" height="22"/><rect x="1836.6" y="1072" width="22" height="22"/><rect x="1843.9" y="1067.2" width="22" height="22"/><rect x="1851.3" y="1067.8" width="22" height="22"/><rect x="1858.6" y="1073.5" width="22" height="22"/><rect x="1866" y="1068" width="22" height="22"/><rect x="1873.3" y="1073.2" width="22" height="22"/><rect x="1880.6" y="1067.5" width="22" height="22"/><rect x="1888" y="1066.5" width="22" height="22"/><rect x="1895.3" y="1064.1" width="22" height="22"/><rect x="1902.7" y="1080" width="22" height="22"/><rect x="1910" y="1070.8" width="22" height="22"/><rect x="1917.4" y="1073.4" width="22" height="22"/><rect x="1924.7" y="1072.4" width="22" height="22"/></g>
<path d="M173.5,1057.8 175.5,1057.7 177.5,1057.7 179.5,1057.7 181.5,1057.7 183.5,1057.7 185.5,1057.6 187.5,1057.6 189.5,1057.6 191.5,1057.6 193.5,1057.5 195.5,1057.5 197.5,1057.5 199.5,1057.4 201.5,1057.4 203.5,1057.4 205.5,1057.4 207.5,1057.3 209.5,1057.3 211.5,1057.3 213.5,1057.2 215.5,1057.2 217.5,1057.2 219.5,1057.1 221.5,1057.1 223.4,1057.1 225.4,1057 227.4,1057 229.4,1057 231.4,1056.9 233.4,1056.9 235.4,1056.8 237.4,1056.8 239.4,1056.8 241.4,1056.7 243.4,1056.7 245.4,1056.6 247.4,1056.6 249.4,1056.6 251.4,1056.5 253.4,1056.5 255.4,1056.4 257.4,1056.4 259.4,1056.3 261.4,1056.3 263.4,1056.2 265.4,1056.2 267.4,1056.1 269.4,1056.1 271.4,1056 273.4,1056 275.4,1055.9 277.4,1055.9 279.4,1055.8 281.4,1055.8 283.4,1055.7 285.4,1055.7 287.4,1055.6 289.4,1055.5 291.4,1055.5 293.4,1055.4 295.4,1055.3 297.4,1055.3 299.4,1055.2 301.4,1055.1 303.4,1055.1 305.4,1055 307.4,1054.9 309.4,1054.9 311.4,1054.8 313.4,1054.7 315.4,1054.6 317.4,1054.6 319.4,1054.5 321.3,1054.4 323.3,1054.3 325.3,1054.2 327.3,1054.1 329.3,1054 331.3,1054 333.3,1053.9 335.3,1053.8 337.3,1053.7 339.3,1053.6 341.3,1053.5 343.3,1053.3 345.3,1053.2 347.3,1053.1 349.3,1053 351.3,1052.9 353.3,1052.8 355.3,1052.6 357.3,1052.5 359.3,1052.4 361.3,1052.2 363.3,1052.1 365.3,1051.9 367.3,1051.8 369.3,1051.6 371.3,1051.5 373.3,1051.3 375.3,1051.1 377.3,1050.9 379.3,1050.7 381.3,1050.5 383.3,1050.3 385.3,1050.1 387.3,1049.9 389.3,1049.7 391.3,1049.5 393.3,1049.2 395.3,1049 397.3,1048.7 399.3,1048.4 401.3,1048.1 403.3,1047.9 405.3,1047.5 407.3,1047.2 409.3,1046.9 411.3,1046.6 413.3,1046.2 415.3,1045.8 417.3,1045.4 419.2,1045 421.2,1044.6 423.2,1044.2 425.2,1043.7 427.2,1043.2 429.2,1042.7 431.2,1042.2 433.2,1041.7 435.2,1041.1 437.2,1040.5 439.2,1039.9 441.2,1039.3 443.2,1038.6 445.2,1037.9 447.2,1037.2 449.2,1036.5 451.2,1035.7 453.2,1034.9 455.2,1034 457.2,1033.2 459.2,1032.2 461.2,1031.3 463.2,1030.3 465.2,1029.3 467.2,1028.2 469.2,1027.1 471.2,1026 473.2,1024.8 475.2,1023.5 477.2,1022.3 479.2,1020.9 481.2,1019.5 483.2,1018.1 485.2,1016.6 487.2,1015.1 489.2,1013.5 491.2,1011.8 493.2,1010.1 495.2,1008.4 497.2,1006.6 499.2,1004.7 501.2,1002.7 503.2,1000.7 505.2,998.6 507.2,996.5 509.2,994.3 511.2,992 513.2,989.6 515.2,987.2 517.1,984.7 519.1,982.2 521.1,979.5 523.1,976.8 525.1,974 527.1,971.1 529.1,968.2 531.1,965.2 533.1,962.1 535.1,958.9 537.1,955.6 539.1,952.3 541.1,948.9 543.1,945.4 545.1,941.8 547.1,938.1 549.1,934.4 551.1,930.6 553.1,926.7 555.1,922.7 557.1,918.7 559.1,914.5 561.1,910.3 563.1,906 565.1,901.7 567.1,897.2 569.1,892.7 571.1,888.1 573.1,883.5 575.1,878.8 577.1,874 579.1,869.1 581.1,864.2 583.1,859.3 585.1,854.2 587.1,849.1 589.1,844 591.1,838.8 593.1,833.6 595.1,828.3 597.1,823 599.1,817.6 601.1,812.2 603.1,806.7 605.1,801.3 607.1,795.8 609.1,790.3 611.1,784.7 613.1,779.2 615,773.6 617,768.1 619,762.5 621,756.9 623,751.3 625,745.8 627,740.2 629,734.7 631,729.2 633,723.7 635,718.2 637,712.8 639,707.4 641,702 643,696.7 645,691.5 647,686.3 649,681.1 651,676.1 653,671 655,666.1 657,661.2 659,656.4 661,651.7 663,647.1 665,642.5 667,638.1 669,633.7 671,629.5 673,625.3 675,621.3 677,617.3 679,613.5 681,609.8 683,606.2 685,602.7 687,599.3 689,596.1 691,593 693,590 695,587.1 697,584.4 699,581.8 701,579.3 703,577 705,574.8 707,572.7 709,570.8 711,569 712.9,567.4 714.9,565.9 716.9,564.6 718.9,563.4 720.9,562.3 722.9,561.4 724.9,560.6 726.9,559.9 728.9,559.4 730.9,559.1 732.9,558.9 734.9,558.8 736.9,558.9 738.9,559.2 740.9,559.5 742.9,560 744.9,560.7 746.9,561.5 748.9,562.5 750.9,563.6 752.9,564.8 754.9,566.2 756.9,567.7 758.9,569.4 760.9,571.2 762.9,573.1 764.9,575.2 766.9,577.5 768.9,579.8 770.9,582.3 772.9,585 774.9,587.8 776.9,590.7 778.9,593.7 780.9,596.9 782.9,600.2 784.9,603.6 786.9,607.1 788.9,610.8 790.9,614.6 792.9,618.5 794.9,622.5 796.9,626.7 798.9,630.9 800.9,635.2 802.9,639.7 804.9,644.2 806.9,648.8 808.9,653.5 810.8,658.3 812.8,663.2 814.8,668.1 816.8,673.1 818.8,678.2 820.8,683.3 822.8,688.5 824.8,693.7 826.8,699 828.8,704.3 830.8,709.6 832.8,715 834.8,720.4 836.8,725.8 838.8,731.2 840.8,736.6 842.8,742.1 844.8,747.5 846.8,752.9 848.8,758.3 850.8,763.7 852.8,769 854.8,774.4 856.8,779.7 858.8,785 860.8,790.2 862.8,795.4 864.8,800.6 866.8,805.7 868.8,810.7 870.8,815.7 872.8,820.7 874.8,825.6 876.8,830.4 878.8,835.2 880.8,839.9 882.8,844.6 884.8,849.2 886.8,853.7 888.8,858.1 890.8,862.5 892.8,866.9 894.8,871.1 896.8,875.3 898.8,879.4 900.8,883.4 902.8,887.4 904.8,891.3 906.8,895.1 908.7,898.8 910.7,902.5 912.7,906.1 914.7,909.7 916.7,913.1 918.7,916.5 920.7,919.8 922.7,923.1 924.7,926.3 926.7,929.4 928.7,932.5 930.7,935.5 932.7,938.4 934.7,941.3 936.7,944.1 938.7,946.8 940.7,949.5 942.7,952.1 944.7,954.6 946.7,957.1 948.7,959.6 950.7,962 952.7,964.3 954.7,966.6 956.7,968.8 958.7,971 960.7,973.1 962.7,975.2 964.7,977.2 966.7,979.2 968.7,981.1 970.7,983 972.7,984.8 974.7,986.6 976.7,988.4 978.7,990.1 980.7,991.7 982.7,993.4 984.7,994.9 986.7,996.5 988.7,998 990.7,999.5 992.7,1000.9 994.7,1002.3 996.7,1003.7 998.7,1005 1000.7,1006.3 1002.7,1007.6 1004.7,1008.8 1006.6,1010 1008.6,1011.2 1010.6,1012.3 1012.6,1013.5 1014.6,1014.5 1016.6,1015.6 1018.6,1016.6 1020.6,1017.7 1022.6,1018.6 1024.6,1019.6 1026.6,1020.6 1028.6,1021.5 1030.6,1022.4 1032.6,1023.2 1034.6,1024.1 1036.6,1024.9 1038.6,1025.7 1040.6,1026.5 1042.6,1027.3 1044.6,1028 1046.6,1028.7 1048.6,1029.5 1050.6,1030.1 1052.6,1030.8 1054.6,1031.5 1056.6,1032.1 1058.6,1032.7 1060.6,1033.4 1062.6,1034 1064.6,1034.5 1066.6,1035.1 1068.6,1035.7 1070.6,1036.2 1072.6,1036.7 1074.6,1037.2 1076.6,1037.7 1078.6,1038.2 1080.6,1038.7 1082.6,1039.1 1084.6,1039.6 1086.6,1040 1088.6,1040.5 1090.6,1040.9 1092.6,1041.3 1094.6,1041.7 1096.6,1042.1 1098.6,1042.4 1100.6,1042.8 1102.6,1043.1 1104.5,1043.5 1106.5,1043.8 1108.5,1044.1 1110.5,1044.5 1112.5,1044.8 1114.5,1045.1 1116.5,1045.4 1118.5,1045.6 1120.5,1045.9 1122.5,1046.2 1124.5,1046.4 1126.5,1046.7 1128.5,1046.9 1130.5,1047.2 1132.5,1047.4 1134.5,1047.6 1136.5,1047.8 1138.5,1048 1140.5,1048.2 1142.5,1048.4 1144.5,1048.6 1146.5,1048.8 1148.5,1049 1150.5,1049.1 1152.5,1049.3 1154.5,1049.4 1156.5,1049.6 1158.5,1049.7 1160.5,1049.8 1162.5,1050 1164.5,1050.1 1166.5,1050.2 1168.5,1050.3 1170.5,1050.4 1172.5,1050.4 1174.5,1050.5 1176.5,1050.6 1178.5,1050.6 1180.5,1050.7 1182.5,1050.7 1184.5,1050.7 1186.5,1050.8 1188.5,1050.8 1190.5,1050.7 1192.5,1050.7 1194.5,1050.7 1196.5,1050.6 1198.5,1050.5 1200.5,1050.4 1202.4,1050.3 1204.4,1050.2 1206.4,1050 1208.4,1049.8 1210.4,1049.5 1212.4,1049.3 1214.4,1048.9 1216.4,1048.6 1218.4,1048.1 1220.4,1047.6 1222.4,1047.1 1224.4,1046.5 1226.4,1045.8 1228.4,1045 1230.4,1044.1 1232.4,1043 1234.4,1041.9 1236.4,1040.6 1238.4,1039.2 1240.4,1037.7 1242.4,1035.9 1244.4,1034 1246.4,1031.8 1248.4,1029.5 1250.4,1026.8 1252.4,1024 1254.4,1020.8 1256.4,1017.4 1258.4,1013.6 1260.4,1009.6 1262.4,1005.1 1264.4,1000.3 1266.4,995.2 1268.4,989.6 1270.4,983.6 1272.4,977.1 1274.4,970.2 1276.4,962.9 1278.4,955.1 1280.4,946.8 1282.4,938.1 1284.4,928.9 1286.4,919.2 1288.4,909.1 1290.4,898.4 1292.4,887.4 1294.4,875.9 1296.4,864 1298.4,851.7 1300.3,839.1 1302.3,826.2 1304.3,812.9 1306.3,799.4 1308.3,785.7 1310.3,771.9 1312.3,757.9 1314.3,743.9 1316.3,729.9 1318.3,715.9 1320.3,702 1322.3,688.3 1324.3,674.9 1326.3,661.7 1328.3,648.8 1330.3,636.3 1332.3,624.3 1334.3,612.8 1336.3,601.8 1338.3,591.4 1340.3,581.6 1342.3,572.4 1344.3,563.8 1346.3,555.9 1348.3,548.5 1350.3,541.8 1352.3,535.7 1354.3,530 1356.3,524.9 1358.3,520.1 1360.3,515.5 1362.3,511.2 1364.3,506.9 1366.3,502.5 1368.3,497.7 1370.3,492.4 1372.3,486.2 1374.3,479 1376.3,470.8 1378.3,461.4 1380.3,451.4 1382.3,440.9 1384.3,430.7 1386.3,421 1388.3,412.2 1390.3,404.1 1392.3,396.7 1394.3,389.5 1396.3,382.2 1398.2,374.6 1400.2,366.6 1402.2,358.4 1404.2,350.1 1406.2,342 1408.2,334.2 1410.2,326.9 1412.2,320 1414.2,313.7 1416.2,307.8 1418.2,302.5 1420.2,297.6 1422.2,293.3 1424.2,289.6 1426.2,286.5 1428.2,284.2 1430.2,282.8 1432.2,282.4 1434.2,283.1 1436.2,284.9 1438.2,288 1440.2,292.5 1442.2,298.4 1444.2,305.7 1446.2,314.5 1448.2,324.7 1450.2,336.3 1452.2,349.4 1454.2,363.8 1456.2,379.4 1458.2,396.3 1460.2,414.2 1462.2,433.1 1464.2,452.9 1466.2,473.5 1468.2,494.7 1470.2,516.4 1472.2,538.5 1474.2,561 1476.2,583.6 1478.2,606.2 1480.2,628.9 1482.2,651.3 1484.2,673.6 1486.2,695.5 1488.2,717 1490.2,738 1492.2,758.5 1494.2,778.3 1496.1,797.5 1498.1,816 1500.1,833.7 1502.1,850.7 1504.1,866.8 1506.1,882.2 1508.1,896.7 1510.1,910.4 1512.1,923.3 1514.1,935.4 1516.1,946.8 1518.1,957.3 1520.1,967.2 1522.1,976.3 1524.1,984.7 1526.1,992.5 1528.1,999.7 1530.1,1006.2 1532.1,1012.2 1534.1,1017.7 1536.1,1022.7 1538.1,1027.3 1540.1,1031.4 1542.1,1035.2 1544.1,1038.5 1546.1,1041.6 1548.1,1044.4 1550.1,1046.8 1552.1,1049.1 1554.1,1051.1 1556.1,1052.9 1558.1,1054.5 1560.1,1056 1562.1,1057.3 1564.1,1058.5 1566.1,1059.6 1568.1,1060.5 1570.1,1061.4 1572.1,1062.2 1574.1,1062.9 1576.1,1063.6 1578.1,1064.2 1580.1,1064.7 1582.1,1065.2 1584.1,1065.7 1586.1,1066.1 1588.1,1066.5 1590.1,1066.9 1592.1,1067.3 1594,1067.6 1596,1067.9 1598,1068.2 1600,1068.5 1602,1068.8 1604,1069.1 1606,1069.3 1608,1069.6 1610,1069.8 1612,1070 1614,1070.2 1616,1070.5 1618,1070.7 1620,1070.9 1622,1071.1 1624,1071.3 1626,1071.4 1628,1071.6 1630,1071.8 1632,1072 1634,1072.2 1636,1072.3 1638,1072.5 1640,1072.6 1642,1072.8 1644,1073 1646,1073.1 1648,1073.3 1650,1073.4 1652,1073.6 1654,1073.7 1656,1073.8 1658,1074 1660,1074.1 1662,1074.2 1664,1074.4 1666,1074.5 1668,1074.6 1670,1074.7 1672,1074.9 1674,1075 1676,1075.1 1678,1075.2 1680,1075.3 1682,1075.4 1684,1075.5 1686,1075.6 1688,1075.8 1690,1075.9 1691.9,1076 1693.9,1076.1 1695.9,1076.2 1697.9,1076.3 1699.9,1076.4 1701.9,1076.5 1703.9,1076.6 1705.9,1076.7 1707.9,1076.8 1709.9,1076.8 1711.9,1076.9 1713.9,1077 1715.9,1077.1 1717.9,1077.2 1719.9,1077.3 1721.9,1077.4 1723.9,1077.5 1725.9,1077.5 1727.9,1077.6 1729.9,1077.7 1731.9,1077.8 1733.9,1077.9 1735.9,1078 1737.9,1078 1739.9,1078.1 1741.9,1078.2 1743.9,1078.3 1745.9,1078.3 1747.9,1078.4 1749.9,1078.5 1751.9,1078.6 1753.9,1078.6 1755.9,1078.7 1757.9,1078.8 1759.9,1078.8 1761.9,1078.9 1763.9,1079 1765.9,1079.1 1767.9,1079.1 1769.9,1079.2 1771.9,1079.3 1773.9,1079.3 1775.9,1079.4 1777.9,1079.5 1779.9,1079.5 1781.9,1079.6 1783.9,1079.7 1785.9,1079.7 1787.9,1079.8 1789.8,1079.8 1791.8,1079.9 1793.8,1080 1795.8,1080 1797.8,1080.1 1799.8,1080.1 1801.8,1080.2 1803.8,1080.3 1805.8,1080.3 1807.8,1080.4 1809.8,1080.4 1811.8,1080.5 1813.8,1080.6 1815.8,1080.6 1817.8,1080.7 1819.8,1080.7 1821.8,1080.8 1823.8,1080.8 1825.8,1080.9 1827.8,1080.9 1829.8,1081 1831.8,1081.1 1833.8,1081.1 1835.8,1081.2 1837.8,1081.2 1839.8,1081.3 1841.8,1081.3 1843.8,1081.4 1845.8,1081.4 1847.8,1081.5 1849.8,1081.5 1851.8,1081.6 1853.8,1081.6 1855.8,1081.7 1857.8,1081.7 1859.8,1081.8 1861.8,1081.8 1863.8,1081.9 1865.8,1081.9 1867.8,1082 1869.8,1082 1871.8,1082.1 1873.8,1082.1 1875.8,1082.2 1877.8,1082.2 1879.8,1082.3 1881.8,1082.3 1883.8,1082.4 1885.8,1082.4 1887.7,1082.5 1889.7,1082.5 1891.7,1082.5 1893.7,1082.6 1895.7,1082.6 1897.7,1082.7 1899.7,1082.7 1901.7,1082.8 1903.7,1082.8 1905.7,1082.9 1907.7,1082.9 1909.7,1083 1911.7,1083 1913.7,1083 1915.7,1083.1 1917.7,1083.1 1919.7,1083.2 1921.7,1083.2 1923.7,1083.3 1925.7,1083.3 1927.7,1083.4 1929.7,1083.4 1931.7,1083.4 1933.7,1083.5 1935.7,1083.5" fill="none" stroke="#000" stroke-width="10" stroke-linejoin="round"/>
</g>
<rect x="158.5" y="36" width="1793.5" height="1090.5" fill="none" stroke="#151515" stroke-width="5"/>
<g stroke="#151515" stroke-width="5"><line x1="173.5" y1="1126.5" x2="173.5" y2="1161.5"/><line x1="467.2" y1="1126.5" x2="467.2" y2="1161.5"/><line x1="760.9" y1="1126.5" x2="760.9" y2="1161.5"/><line x1="1054.6" y1="1126.5" x2="1054.6" y2="1161.5"/><line x1="1348.3" y1="1126.5" x2="1348.3" y2="1161.5"/><line x1="1642" y1="1126.5" x2="1642" y2="1161.5"/><line x1="1935.7" y1="1126.5" x2="1935.7" y2="1161.5"/></g>
<clipPath id="c2"><rect x="166" y="1464.5" width="1789" height="1091.2"/></clipPath>
<g clip-path="url(#c2)">
<path d="M179.4,2541 L179.4,2539.2 181.4,2539.2 183.4,2539.2 185.4,2539.2 187.4,2539.2 189.4,2539.2 191.4,2539.2 193.4,2539.2 195.4,2539.2 197.4,2539.2 199.4,2539.2 201.4,2539.2 203.4,2539.2 205.4,2539.2 207.4,2539.2 209.4,2539.2 211.4,2539.2 213.4,2539.1 215.4,2539.1 217.4,2539.1 219.4,2539.1 221.4,2539.1 223.4,2539.1 225.4,2539.1 227.4,2539.1 229.4,2539.1 231.4,2539.1 233.4,2539.1 235.4,2539.1 237.4,2539.1 239.4,2539.1 241.4,2539.1 243.4,2539.1 245.4,2539.1 247.4,2539.1 249.4,2539.1 251.4,2539.1 253.4,2539.1 255.4,2539.1 257.4,2539.1 259.4,2539.1 261.4,2539.1 263.4,2539.1 265.4,2539.1 267.4,2539.1 269.4,2539.1 271.4,2539.1 273.4,2539.1 275.4,2539.1 277.4,2539.1 279.4,2539.1 281.4,2539.1 283.4,2539.1 285.4,2539.1 287.4,2539.1 289.4,2539.1 291.4,2539.1 293.4,2539.1 295.4,2539.1 297.4,2539.1 299.4,2539.1 301.4,2539.1 303.4,2539.1 305.4,2539.1 307.4,2539.1 309.4,2539.1 311.4,2539.1 313.4,2539.1 315.4,2539.1 317.4,2539.1 319.4,2539.1 321.4,2539.1 323.4,2539.1 325.4,2539.1 327.4,2539.1 329.4,2539.1 331.4,2539.1 333.4,2539.1 335.4,2539.1 337.4,2539.1 339.4,2539.1 341.4,2539.1 343.4,2539.1 345.4,2539.1 347.4,2539.1 349.4,2539.1 351.4,2539.1 353.4,2539.1 355.4,2539.1 357.4,2539.1 359.4,2539.1 361.4,2539 363.4,2539 365.4,2539 367.4,2539 369.4,2539 371.4,2539 373.4,2539 375.4,2539 377.4,2539 379.4,2539 381.4,2539 383.4,2539 385.4,2539 387.4,2539 389.4,2539 391.4,2539 393.4,2539 395.4,2539 397.4,2539 399.4,2539 401.3,2539 403.3,2539 405.3,2539 407.3,2539 409.3,2539 411.3,2539 413.3,2539 415.3,2539 417.3,2539 419.3,2539 421.3,2539 423.3,2539 425.3,2539 427.3,2539 429.3,2539 431.3,2539 433.3,2539 435.3,2539 437.3,2539 439.3,2539 441.3,2539 443.3,2539 445.3,2539 447.3,2539 449.3,2539 451.3,2539 453.3,2539 455.3,2539 457.3,2539 459.3,2539 461.3,2539 463.3,2539 465.3,2539 467.3,2538.9 469.3,2538.9 471.3,2538.9 473.3,2538.9 475.3,2538.9 477.3,2538.9 479.3,2538.9 481.3,2538.9 483.3,2538.9 485.3,2538.9 487.3,2538.9 489.3,2538.9 491.3,2538.9 493.3,2538.9 495.3,2538.9 497.3,2538.9 499.3,2538.9 501.3,2538.9 503.3,2538.9 505.3,2538.9 507.3,2538.9 509.3,2538.9 511.3,2538.9 513.3,2538.9 515.3,2538.9 517.3,2538.9 519.3,2538.9 521.3,2538.9 523.3,2538.9 525.3,2538.9 527.3,2538.9 529.3,2538.9 531.3,2538.9 533.3,2538.9 535.3,2538.9 537.3,2538.9 539.3,2538.9 541.3,2538.9 543.3,2538.9 545.3,2538.9 547.3,2538.9 549.3,2538.8 551.3,2538.8 553.3,2538.8 555.3,2538.8 557.3,2538.8 559.3,2538.8 561.3,2538.8 563.3,2538.8 565.3,2538.8 567.3,2538.8 569.3,2538.8 571.3,2538.8 573.3,2538.8 575.3,2538.8 577.3,2538.8 579.3,2538.8 581.3,2538.8 583.3,2538.8 585.3,2538.8 587.3,2538.8 589.3,2538.8 591.3,2538.8 593.3,2538.8 595.3,2538.8 597.3,2538.8 599.3,2538.8 601.3,2538.8 603.3,2538.8 605.3,2538.8 607.3,2538.8 609.3,2538.8 611.3,2538.8 613.3,2538.7 615.3,2538.7 617.3,2538.7 619.3,2538.7 621.3,2538.7 623.3,2538.7 625.3,2538.7 627.3,2538.7 629.3,2538.7 631.3,2538.7 633.3,2538.7 635.3,2538.7 637.3,2538.7 639.3,2538.7 641.3,2538.7 643.3,2538.7 645.3,2538.7 647.3,2538.7 649.3,2538.7 651.3,2538.7 653.3,2538.7 655.3,2538.7 657.3,2538.7 659.3,2538.7 661.3,2538.7 663.3,2538.7 665.3,2538.6 667.3,2538.6 669.3,2538.6 671.3,2538.6 673.3,2538.6 675.3,2538.6 677.3,2538.6 679.3,2538.6 681.3,2538.6 683.3,2538.6 685.3,2538.6 687.3,2538.6 689.3,2538.6 691.3,2538.6 693.3,2538.6 695.3,2538.6 697.3,2538.6 699.3,2538.6 701.3,2538.6 703.3,2538.6 705.3,2538.6 707.3,2538.6 709.3,2538.5 711.3,2538.5 713.3,2538.5 715.3,2538.5 717.3,2538.5 719.3,2538.5 721.3,2538.5 723.3,2538.5 725.3,2538.5 727.3,2538.5 729.3,2538.5 731.3,2538.5 733.3,2538.5 735.3,2538.5 737.3,2538.5 739.3,2538.5 741.3,2538.5 743.3,2538.5 745.3,2538.4 747.3,2538.4 749.3,2538.4 751.3,2538.4 753.3,2538.4 755.3,2538.4 757.3,2538.4 759.3,2538.4 761.3,2538.4 763.3,2538.4 765.3,2538.4 767.3,2538.4 769.3,2538.4 771.3,2538.4 773.3,2538.4 775.3,2538.4 777.3,2538.4 779.3,2538.3 781.3,2538.3 783.3,2538.3 785.3,2538.3 787.3,2538.3 789.3,2538.3 791.3,2538.3 793.3,2538.3 795.3,2538.3 797.3,2538.3 799.3,2538.3 801.3,2538.3 803.3,2538.3 805.3,2538.3 807.3,2538.2 809.3,2538.2 811.3,2538.2 813.3,2538.2 815.3,2538.2 817.3,2538.2 819.3,2538.2 821.3,2538.2 823.3,2538.2 825.3,2538.2 827.3,2538.2 829.3,2538.2 831.3,2538.1 833.3,2538.1 835.3,2538.1 837.3,2538.1 839.3,2538.1 841.2,2538.1 843.2,2538.1 845.2,2538.1 847.2,2538.1 849.2,2538.1 851.2,2538.1 853.2,2538.1 855.2,2538 857.2,2538 859.2,2538 861.2,2538 863.2,2538 865.2,2538 867.2,2538 869.2,2538 871.2,2538 873.2,2538 875.2,2537.9 877.2,2537.9 879.2,2537.9 881.2,2537.9 883.2,2537.9 885.2,2537.9 887.2,2537.9 889.2,2537.9 891.2,2537.9 893.2,2537.8 895.2,2537.8 897.2,2537.8 899.2,2537.8 901.2,2537.8 903.2,2537.8 905.2,2537.8 907.2,2537.8 909.2,2537.7 911.2,2537.7 913.2,2537.7 915.2,2537.7 917.2,2537.7 919.2,2537.7 921.2,2537.7 923.2,2537.7 925.2,2537.6 927.2,2537.6 929.2,2537.6 931.2,2537.6 933.2,2537.6 935.2,2537.6 937.2,2537.6 939.2,2537.5 941.2,2537.5 943.2,2537.5 945.2,2537.5 947.2,2537.5 949.2,2537.5 951.2,2537.5 953.2,2537.4 955.2,2537.4 957.2,2537.4 959.2,2537.4 961.2,2537.4 963.2,2537.4 965.2,2537.3 967.2,2537.3 969.2,2537.3 971.2,2537.3 973.2,2537.3 975.2,2537.3 977.2,2537.2 979.2,2537.2 981.2,2537.2 983.2,2537.2 985.2,2537.2 987.2,2537.1 989.2,2537.1 991.2,2537.1 993.2,2537.1 995.2,2537.1 997.2,2537 999.2,2537 1001.2,2537 1003.2,2537 1005.2,2537 1007.2,2536.9 1009.2,2536.9 1011.2,2536.9 1013.2,2536.9 1015.2,2536.8 1017.2,2536.8 1019.2,2536.8 1021.2,2536.8 1023.2,2536.7 1025.2,2536.7 1027.2,2536.7 1029.2,2536.7 1031.2,2536.6 1033.2,2536.6 1035.2,2536.6 1037.2,2536.6 1039.2,2536.5 1041.2,2536.5 1043.2,2536.5 1045.2,2536.4 1047.2,2536.4 1049.2,2536.4 1051.2,2536.4 1053.2,2536.3 1055.2,2536.3 1057.2,2536.3 1059.2,2536.2 1061.2,2536.2 1063.2,2536.2 1065.2,2536.1 1067.2,2536.1 1069.2,2536.1 1071.2,2536 1073.2,2536 1075.2,2536 1077.2,2535.9 1079.2,2535.9 1081.2,2535.9 1083.2,2535.8 1085.2,2535.8 1087.2,2535.7 1089.2,2535.7 1091.2,2535.7 1093.2,2535.6 1095.2,2535.6 1097.2,2535.5 1099.2,2535.5 1101.2,2535.4 1103.2,2535.4 1105.2,2535.4 1107.2,2535.3 1109.2,2535.3 1111.2,2535.2 1113.2,2535.2 1115.2,2535.1 1117.2,2535.1 1119.2,2535 1121.2,2535 1123.2,2534.9 1125.2,2534.9 1127.2,2534.8 1129.2,2534.8 1131.2,2534.7 1133.2,2534.6 1135.2,2534.6 1137.2,2534.5 1139.2,2534.5 1141.2,2534.4 1143.2,2534.3 1145.2,2534.3 1147.2,2534.2 1149.2,2534.1 1151.2,2534.1 1153.2,2534 1155.2,2533.9 1157.2,2533.9 1159.2,2533.8 1161.2,2533.7 1163.2,2533.6 1165.2,2533.6 1167.2,2533.5 1169.2,2533.4 1171.2,2533.3 1173.2,2533.2 1175.2,2533.1 1177.2,2533.1 1179.2,2533 1181.2,2532.9 1183.2,2532.8 1185.2,2532.7 1187.2,2532.6 1189.2,2532.5 1191.2,2532.4 1193.2,2532.3 1195.2,2532.2 1197.2,2532.1 1199.2,2531.9 1201.2,2531.8 1203.2,2531.7 1205.2,2531.6 1207.2,2531.5 1209.2,2531.3 1211.2,2531.2 1213.2,2531.1 1215.2,2530.9 1217.2,2530.8 1219.2,2530.6 1221.2,2530.5 1223.2,2530.3 1225.2,2530.2 1227.2,2530 1229.2,2529.8 1231.2,2529.7 1233.2,2529.5 1235.2,2529.3 1237.2,2529.1 1239.2,2528.9 1241.2,2528.7 1243.2,2528.5 1245.2,2528.2 1247.2,2528 1249.2,2527.7 1251.2,2527.5 1253.2,2527.2 1255.2,2526.9 1257.2,2526.5 1259.2,2526.2 1261.2,2525.8 1263.2,2525.4 1265.2,2525 1267.2,2524.6 1269.2,2524.1 1271.2,2523.6 1273.2,2523 1275.2,2522.4 1277.2,2521.8 1279.2,2521 1281.1,2520.3 1283.1,2519.4 1285.1,2518.5 1287.1,2517.5 1289.1,2516.4 1291.1,2515.3 1293.1,2514 1295.1,2512.6 1297.1,2511.1 1299.1,2509.4 1301.1,2507.6 1303.1,2505.7 1305.1,2503.6 1307.1,2501.3 1309.1,2498.9 1311.1,2496.2 1313.1,2493.4 1315.1,2490.3 1317.1,2486.9 1319.1,2483.4 1321.1,2479.5 1323.1,2475.4 1325.1,2471.1 1327.1,2466.4 1329.1,2461.4 1331.1,2456.1 1333.1,2450.5 1335.1,2444.5 1337.1,2438.3 1339.1,2431.6 1341.1,2424.6 1343.1,2417.3 1345.1,2409.6 1347.1,2401.5 1349.1,2393.1 1351.1,2384.4 1353.1,2375.2 1355.1,2365.8 1357.1,2356 1359.1,2345.9 1361.1,2335.5 1363.1,2324.8 1365.1,2313.8 1367.1,2302.5 1369.1,2291 1371.1,2279.3 1373.1,2267.4 1375.1,2255.3 1377.1,2243.1 1379.1,2230.8 1381.1,2218.4 1383.1,2205.9 1385.1,2193.4 1387.1,2180.9 1389.1,2168.5 1391.1,2156.2 1393.1,2144 1395.1,2131.9 1397.1,2120 1399.1,2108.4 1401.1,2096.9 1403.1,2085.8 1405.1,2074.9 1407.1,2064.4 1409.1,2054.1 1411.1,2044.3 1413.1,2034.7 1415.1,2025.5 1417.1,2016.7 1419.1,2008.2 1421.1,1999.9 1423.1,1992 1425.1,1984.3 1427.1,1976.9 1429.1,1969.6 1431.1,1962.5 1433.1,1955.6 1435.1,1948.7 1437.1,1941.9 1439.1,1935.1 1441.1,1928.4 1443.1,1921.6 1445.1,1914.8 1447.1,1907.9 1449.1,1900.9 1451.1,1893.9 1453.1,1886.7 1455.1,1879.5 1457.1,1872.1 1459.1,1864.7 1461.1,1857.2 1463.1,1849.7 1465.1,1842.2 1467.1,1834.6 1469.1,1827.1 1471.1,1819.7 1473.1,1812.4 1475.1,1805.2 1477.1,1798.3 1479.1,1791.6 1481.1,1785.3 1483.1,1779.3 1485.1,1773.8 1487.1,1768.8 1489.1,1764.3 1491.1,1760.5 1493.1,1757.3 1495.1,1754.8 1497.1,1753.2 1499.1,1752.3 1501.1,1752.4 1503.1,1753.3 1505.1,1755.2 1507.1,1758 1509.1,1761.9 1511.1,1766.7 1513.1,1772.5 1515.1,1779.3 1517.1,1787 1519.1,1795.7 1521.1,1805.4 1523.1,1815.9 1525.1,1827.3 1527.1,1839.4 1529.1,1852.4 1531.1,1866 1533.1,1880.3 1535.1,1895.2 1537.1,1910.7 1539.1,1926.6 1541.1,1942.9 1543.1,1959.6 1545.1,1976.7 1547.1,1993.9 1549.1,2011.4 1551.1,2029 1553.1,2046.6 1555.1,2064.3 1557.1,2082 1559.1,2099.6 1561.1,2117.1 1563.1,2134.4 1565.1,2151.5 1567.1,2168.3 1569.1,2184.9 1571.1,2201.1 1573.1,2217.1 1575.1,2232.6 1577.1,2247.7 1579.1,2262.5 1581.1,2276.7 1583.1,2290.6 1585.1,2304 1587.1,2316.8 1589.1,2329.3 1591.1,2341.2 1593.1,2352.6 1595.1,2363.5 1597.1,2374 1599.1,2383.9 1601.1,2393.4 1603.1,2402.4 1605.1,2411 1607.1,2419 1609.1,2426.7 1611.1,2433.9 1613.1,2440.7 1615.1,2447.1 1617.1,2453.1 1619.1,2458.7 1621.1,2463.9 1623.1,2468.9 1625.1,2473.4 1627.1,2477.7 1629.1,2481.7 1631.1,2485.4 1633.1,2488.8 1635.1,2492 1637.1,2495 1639.1,2497.7 1641.1,2500.3 1643.1,2502.6 1645.1,2504.7 1647.1,2506.7 1649.1,2508.6 1651.1,2510.3 1653.1,2511.8 1655.1,2513.2 1657.1,2514.6 1659.1,2515.8 1661.1,2516.9 1663.1,2517.9 1665.1,2518.9 1667.1,2519.7 1669.1,2520.5 1671.1,2521.3 1673.1,2522 1675.1,2522.6 1677.1,2523.2 1679.1,2523.7 1681.1,2524.2 1683.1,2524.7 1685.1,2525.1 1687.1,2525.5 1689.1,2525.9 1691.1,2526.3 1693.1,2526.6 1695.1,2526.9 1697.1,2527.2 1699.1,2527.5 1701.1,2527.8 1703.1,2528 1705.1,2528.3 1707.1,2528.5 1709.1,2528.7 1711.1,2528.9 1713.1,2529.1 1715.1,2529.3 1717.1,2529.5 1719.1,2529.7 1721,2529.9 1723,2530 1725,2530.2 1727,2530.3 1729,2530.5 1731,2530.6 1733,2530.8 1735,2530.9 1737,2531.1 1739,2531.2 1741,2531.3 1743,2531.4 1745,2531.6 1747,2531.7 1749,2531.8 1751,2531.9 1753,2532 1755,2532.1 1757,2532.2 1759,2532.3 1761,2532.5 1763,2532.6 1765,2532.6 1767,2532.7 1769,2532.8 1771,2532.9 1773,2533 1775,2533.1 1777,2533.2 1779,2533.3 1781,2533.4 1783,2533.4 1785,2533.5 1787,2533.6 1789,2533.7 1791,2533.7 1793,2533.8 1795,2533.9 1797,2534 1799,2534 1801,2534.1 1803,2534.2 1805,2534.2 1807,2534.3 1809,2534.4 1811,2534.4 1813,2534.5 1815,2534.5 1817,2534.6 1819,2534.7 1821,2534.7 1823,2534.8 1825,2534.8 1827,2534.9 1829,2534.9 1831,2535 1833,2535 1835,2535.1 1837,2535.1 1839,2535.2 1841,2535.2 1843,2535.3 1845,2535.3 1847,2535.4 1849,2535.4 1851,2535.5 1853,2535.5 1855,2535.5 1857,2535.6 1859,2535.6 1861,2535.7 1863,2535.7 1865,2535.7 1867,2535.8 1869,2535.8 1871,2535.9 1873,2535.9 1875,2535.9 1877,2536 1879,2536 1881,2536 1883,2536.1 1885,2536.1 1887,2536.1 1889,2536.2 1891,2536.2 1893,2536.2 1895,2536.3 1897,2536.3 1899,2536.3 1901,2536.4 1903,2536.4 1905,2536.4 1907,2536.4 1909,2536.5 1911,2536.5 1913,2536.5 1915,2536.6 1917,2536.6 1919,2536.6 1921,2536.6 1923,2536.7 1925,2536.7 1927,2536.7 1929,2536.7 1931,2536.8 1933,2536.8 1935,2536.8 1937,2536.8 1939,2536.9 1941,2536.9 L1941,2541 Z" fill="#4040ff"/>
<path d="M179.4,2481 183.4,2481 187.4,2481 191.4,2481 195.4,2481 199.4,2481 203.4,2481 207.4,2481 211.4,2481 215.4,2481 219.3,2481.1 223.3,2481.1 227.3,2481.1 231.3,2481.1 235.3,2481.1 239.3,2481.1 243.3,2481.1 247.3,2481.1 251.3,2481.1 255.3,2481.1 259.3,2481.1 263.3,2481.1 267.3,2481.1 271.3,2481.1 275.3,2481.1 279.3,2481.1 283.3,2481.1 287.3,2481.1 291.2,2481.1 295.2,2481.2 299.2,2481.2 303.2,2481.2 307.2,2481.2 311.2,2481.2 315.2,2481.2 319.2,2481.2 323.2,2481.2 327.2,2481.2 331.2,2481.2 335.2,2481.2 339.2,2481.2 343.2,2481.2 347.2,2481.2 351.2,2481.2 355.2,2481.2 359.2,2481.2 363.1,2481.2 367.1,2481.3 371.1,2481.3 375.1,2481.3 379.1,2481.3 383.1,2481.3 387.1,2481.3 391.1,2481.3 395.1,2481.3 399.1,2481.3 403.1,2481.3 407.1,2481.3 411.1,2481.3 415.1,2481.3 419.1,2481.3 423.1,2481.3 427.1,2481.3 431.1,2481.3 435.1,2481.3 439,2481.4 443,2481.4 447,2481.4 451,2481.4 455,2481.4 459,2481.4 463,2481.4 467,2481.4 471,2481.4 475,2481.4 479,2481.4 483,2481.4 487,2481.4 491,2481.4 495,2481.4 499,2481.4 503,2481.4 507,2481.4 510.9,2481.4 514.9,2481.4 518.9,2481.5 522.9,2481.5 526.9,2481.5 530.9,2481.5 534.9,2481.5 538.9,2481.5 542.9,2481.5 546.9,2481.5 550.9,2481.5 554.9,2481.5 558.9,2481.5 562.9,2481.5 566.9,2481.5 570.9,2481.5 574.9,2481.5 578.9,2481.6 582.9,2481.6 586.8,2481.6 590.8,2481.6 594.8,2481.6 598.8,2481.6 602.8,2481.6 606.8,2481.6 610.8,2481.6 614.8,2481.6 618.8,2481.6 622.8,2481.7 626.8,2481.7 630.8,2481.7 634.8,2481.7 638.8,2481.7 642.8,2481.7 646.8,2481.7 650.8,2481.8 654.8,2481.8 658.7,2481.8 662.7,2481.8 666.7,2481.8 670.7,2481.8 674.7,2481.9 678.7,2481.9 682.7,2481.9 686.7,2481.9 690.7,2482 694.7,2482 698.7,2482 702.7,2482 706.7,2482.1 710.7,2482.1 714.7,2482.1 718.7,2482.2 722.7,2482.2 726.7,2482.2 730.6,2482.3 734.6,2482.3 738.6,2482.4 742.6,2482.5 746.6,2482.6 750.6,2482.7 754.6,2482.8 758.6,2482.9 762.6,2483 766.6,2483.1 770.6,2483.3 774.6,2483.4 778.6,2483.5 782.6,2483.6 786.6,2483.7 790.6,2483.8 794.6,2484 798.6,2484.1 802.6,2484.2 806.5,2484.3 810.5,2484.4 814.5,2484.5 818.5,2484.6 822.5,2484.6 826.5,2484.7 830.5,2484.8 834.5,2484.9 838.5,2485 842.5,2485.1 846.5,2485.2 850.5,2485.3 854.5,2485.4 858.5,2485.5 862.5,2485.6 866.5,2485.7 870.5,2485.8 874.5,2485.9 878.4,2486 882.4,2486.1 886.4,2486.2 890.4,2486.3 894.4,2486.4 898.4,2486.5 902.4,2486.6 906.4,2486.7 910.4,2486.8 914.4,2486.9 918.4,2487.1 922.4,2487.2 926.4,2487.3 930.4,2487.4 934.4,2487.6 938.4,2487.7 942.4,2487.9 946.4,2488 950.3,2488.2 954.3,2488.3 958.3,2488.5 962.3,2488.7 966.3,2488.8 970.3,2489 974.3,2489.2 978.3,2489.3 982.3,2489.5 986.3,2489.7 990.3,2489.8 994.3,2490 998.3,2490.1 1002.3,2490.3 1006.3,2490.4 1010.3,2490.5 1014.3,2490.6 1018.3,2490.8 1022.3,2490.9 1026.2,2490.9 1030.2,2491 1034.2,2491.1 1038.2,2491.1 1042.2,2491.2 1046.2,2491.2 1050.2,2491.2 1054.2,2491.2 1058.2,2491.3 1062.2,2491.3 1066.2,2491.3 1070.2,2491.3 1074.2,2491.3 1078.2,2491.3 1082.2,2491.3 1086.2,2491.3 1090.2,2491.3 1094.2,2491.3 1098.1,2491.4 1102.1,2491.4 1106.1,2491.4 1110.1,2491.4 1114.1,2491.4 1118.1,2491.4 1122.1,2491.4 1126.1,2491.4 1130.1,2491.4 1134.1,2491.4 1138.1,2491.4 1142.1,2491.4 1146.1,2491.5 1150.1,2491.5 1154.1,2491.5 1158.1,2491.5 1162.1,2491.5 1166.1,2491.5 1170.1,2491.5 1174,2491.6 1178,2491.6 1182,2491.6 1186,2491.6 1190,2491.7 1194,2491.7 1198,2491.7 1202,2491.7 1206,2491.8 1210,2491.8 1214,2491.8 1218,2491.9 1222,2491.9 1226,2491.9 1230,2492 1234,2492 1238,2492 1242,2492.1 1245.9,2492.1 1249.9,2492.1 1253.9,2492.2 1257.9,2492.2 1261.9,2492.2 1265.9,2492.2 1269.9,2492.3 1273.9,2492.3 1277.9,2492.3 1281.9,2492.4 1285.9,2492.4 1289.9,2492.4 1293.9,2492.5 1297.9,2492.5 1301.9,2492.5 1305.9,2492.6 1309.9,2492.6 1313.9,2492.7 1317.8,2492.8 1321.8,2492.9 1325.8,2493 1329.8,2493.1 1333.8,2493.3 1337.8,2493.4 1341.8,2493.6 1345.8,2493.8 1349.8,2494 1353.8,2494.2 1357.8,2494.4 1361.8,2494.6 1365.8,2494.8 1369.8,2495.1 1373.8,2495.3 1377.8,2495.6 1381.8,2495.9 1385.8,2496.2 1389.8,2496.5 1393.7,2496.8 1397.7,2497.1 1401.7,2497.5 1405.7,2497.8 1409.7,2498.1 1413.7,2498.5 1417.7,2498.8 1421.7,2499.1 1425.7,2499.5 1429.7,2499.8 1433.7,2500.2 1437.7,2500.6 1441.7,2500.9 1445.7,2501.3 1449.7,2501.7 1453.7,2502.1 1457.7,2502.5 1461.7,2502.8 1465.6,2503.2 1469.6,2503.6 1473.6,2504.1 1477.6,2504.5 1481.6,2504.9 1485.6,2505.3 1489.6,2505.7 1493.6,2506.2 1497.6,2506.6 1501.6,2507.1 1505.6,2507.7 1509.6,2508.2 1513.6,2508.8 1517.6,2509.4 1521.6,2509.9 1525.6,2510.5 1529.6,2511.1 1533.6,2511.6 1537.5,2512.1 1541.5,2512.6 1545.5,2513 1549.5,2513.4 1553.5,2513.7 1557.5,2513.9 1561.5,2514.1 1565.5,2514.2 1569.5,2514.3 1573.5,2514.5 1577.5,2514.6 1581.5,2514.7 1585.5,2514.8 1589.5,2514.9 1593.5,2515 1597.5,2515.1 1601.5,2515.2 1605.5,2515.3 1609.5,2515.4 1613.4,2515.5 1617.4,2515.5 1621.4,2515.6 1625.4,2515.7 1629.4,2515.7 1633.4,2515.8 1637.4,2515.9 1641.4,2515.9 1645.4,2516 1649.4,2516 1653.4,2516 1657.4,2516.1 1661.4,2516.1 1665.4,2516.2 1669.4,2516.2 1673.4,2516.2 1677.4,2516.3 1681.4,2516.3 1685.3,2516.3 1689.3,2516.4 1693.3,2516.4 1697.3,2516.4 1701.3,2516.5 1705.3,2516.5 1709.3,2516.5 1713.3,2516.5 1717.3,2516.6 1721.3,2516.6 1725.3,2516.6 1729.3,2516.6 1733.3,2516.7 1737.3,2516.7 1741.3,2516.7 1745.3,2516.7 1749.3,2516.7 1753.3,2516.8 1757.3,2516.8 1761.2,2516.8 1765.2,2516.8 1769.2,2516.8 1773.2,2516.9 1777.2,2516.9 1781.2,2516.9 1785.2,2516.9 1789.2,2516.9 1793.2,2517 1797.2,2517 1801.2,2517 1805.2,2517 1809.2,2517 1813.2,2517.1 1817.2,2517.1 1821.2,2517.1 1825.2,2517.1 1829.2,2517.1 1833.1,2517.1 1837.1,2517.2 1841.1,2517.2 1845.1,2517.2 1849.1,2517.2 1853.1,2517.2 1857.1,2517.2 1861.1,2517.3 1865.1,2517.3 1869.1,2517.3 1873.1,2517.3 1877.1,2517.3 1881.1,2517.3 1885.1,2517.4 1889.1,2517.4 1893.1,2517.4 1897.1,2517.4 1901.1,2517.4 1905,2517.4 1909,2517.4 1913,2517.4 1917,2517.4 1921,2517.5 1925,2517.5 1929,2517.5 1933,2517.5 1937,2517.5 1941,2517.5" fill="none" stroke="#000" stroke-width="4" stroke-linejoin="round"/>
<path d="M179.4,2541 L179.4,2540.5 181.4,2540.5 183.4,2540.5 185.4,2540.5 187.4,2540.5 189.4,2540.5 191.4,2540.5 193.4,2540.5 195.4,2540.5 197.4,2540.5 199.4,2540.5 201.4,2540.5 203.4,2540.5 205.4,2540.5 207.4,2540.5 209.4,2540.5 211.4,2540.5 213.4,2540.5 215.4,2540.5 217.4,2540.5 219.4,2540.5 221.4,2540.5 223.4,2540.5 225.4,2540.5 227.4,2540.5 229.4,2540.5 231.4,2540.5 233.4,2540.5 235.4,2540.5 237.4,2540.5 239.4,2540.5 241.4,2540.5 243.4,2540.5 245.4,2540.5 247.4,2540.5 249.4,2540.5 251.4,2540.5 253.4,2540.5 255.4,2540.5 257.4,2540.5 259.4,2540.5 261.4,2540.5 263.4,2540.5 265.4,2540.5 267.4,2540.5 269.4,2540.5 271.4,2540.5 273.4,2540.5 275.4,2540.5 277.4,2540.5 279.4,2540.5 281.4,2540.5 283.4,2540.5 285.4,2540.5 287.4,2540.5 289.4,2540.5 291.4,2540.5 293.4,2540.5 295.4,2540.5 297.4,2540.5 299.4,2540.5 301.4,2540.5 303.4,2540.5 305.4,2540.5 307.4,2540.5 309.4,2540.5 311.4,2540.5 313.4,2540.5 315.4,2540.5 317.4,2540.5 319.4,2540.5 321.4,2540.5 323.4,2540.5 325.4,2540.5 327.4,2540.5 329.4,2540.5 331.4,2540.5 333.4,2540.5 335.4,2540.5 337.4,2540.5 339.4,2540.5 341.4,2540.5 343.4,2540.5 345.4,2540.5 347.4,2540.5 349.4,2540.5 351.4,2540.5 353.4,2540.5 355.4,2540.5 357.4,2540.5 359.4,2540.5 361.4,2540.5 363.4,2540.5 365.4,2540.5 367.4,2540.5 369.4,2540.5 371.4,2540.5 373.4,2540.5 375.4,2540.5 377.4,2540.5 379.4,2540.5 381.4,2540.5 383.4,2540.5 385.4,2540.5 387.4,2540.5 389.4,2540.5 391.4,2540.5 393.4,2540.5 395.4,2540.5 397.4,2540.5 399.4,2540.5 401.3,2540.5 403.3,2540.5 405.3,2540.5 407.3,2540.5 409.3,2540.5 411.3,2540.5 413.3,2540.5 415.3,2540.5 417.3,2540.5 419.3,2540.5 421.3,2540.5 423.3,2540.5 425.3,2540.5 427.3,2540.5 429.3,2540.5 431.3,2540.5 433.3,2540.5 435.3,2540.5 437.3,2540.5 439.3,2540.5 441.3,2540.5 443.3,2540.5 445.3,2540.5 447.3,2540.5 449.3,2540.5 451.3,2540.5 453.3,2540.5 455.3,2540.5 457.3,2540.5 459.3,2540.5 461.3,2540.5 463.3,2540.5 465.3,2540.5 467.3,2540.5 469.3,2540.5 471.3,2540.5 473.3,2540.5 475.3,2540.5 477.3,2540.5 479.3,2540.5 481.3,2540.5 483.3,2540.5 485.3,2540.5 487.3,2540.5 489.3,2540.5 491.3,2540.5 493.3,2540.5 495.3,2540.5 497.3,2540.5 499.3,2540.5 501.3,2540.5 503.3,2540.5 505.3,2540.5 507.3,2540.5 509.3,2540.5 511.3,2540.5 513.3,2540.5 515.3,2540.5 517.3,2540.5 519.3,2540.5 521.3,2540.5 523.3,2540.5 525.3,2540.5 527.3,2540.5 529.3,2540.5 531.3,2540.5 533.3,2540.5 535.3,2540.5 537.3,2540.5 539.3,2540.5 541.3,2540.5 543.3,2540.5 545.3,2540.5 547.3,2540.5 549.3,2540.5 551.3,2540.5 553.3,2540.5 555.3,2540.5 557.3,2540.5 559.3,2540.5 561.3,2540.5 563.3,2540.5 565.3,2540.5 567.3,2540.5 569.3,2540.5 571.3,2540.5 573.3,2540.5 575.3,2540.5 577.3,2540.5 579.3,2540.5 581.3,2540.5 583.3,2540.5 585.3,2540.5 587.3,2540.5 589.3,2540.5 591.3,2540.5 593.3,2540.5 595.3,2540.5 597.3,2540.5 599.3,2540.5 601.3,2540.5 603.3,2540.5 605.3,2540.5 607.3,2540.5 609.3,2540.5 611.3,2540.5 613.3,2540.5 615.3,2540.5 617.3,2540.5 619.3,2540.5 621.3,2540.5 623.3,2540.5 625.3,2540.5 627.3,2540.5 629.3,2540.5 631.3,2540.5 633.3,2540.5 635.3,2540.5 637.3,2540.5 639.3,2540.5 641.3,2540.5 643.3,2540.5 645.3,2540.5 647.3,2540.5 649.3,2540.5 651.3,2540.5 653.3,2540.5 655.3,2540.5 657.3,2540.5 659.3,2540.5 661.3,2540.5 663.3,2540.5 665.3,2540.5 667.3,2540.5 669.3,2540.5 671.3,2540.5 673.3,2540.5 675.3,2540.5 677.3,2540.5 679.3,2540.5 681.3,2540.5 683.3,2540.5 685.3,2540.5 687.3,2540.5 689.3,2540.5 691.3,2540.5 693.3,2540.5 695.3,2540.5 697.3,2540.5 699.3,2540.5 701.3,2540.5 703.3,2540.5 705.3,2540.5 707.3,2540.5 709.3,2540.5 711.3,2540.5 713.3,2540.5 715.3,2540.5 717.3,2540.5 719.3,2540.5 721.3,2540.5 723.3,2540.5 725.3,2540.5 727.3,2540.5 729.3,2540.5 731.3,2540.5 733.3,2540.5 735.3,2540.5 737.3,2540.5 739.3,2540.5 741.3,2540.5 743.3,2540.5 745.3,2540.5 747.3,2540.5 749.3,2540.5 751.3,2540.5 753.3,2540.5 755.3,2540.5 757.3,2540.5 759.3,2540.5 761.3,2540.5 763.3,2540.5 765.3,2540.5 767.3,2540.5 769.3,2540.5 771.3,2540.5 773.3,2540.5 775.3,2540.5 777.3,2540.5 779.3,2540.5 781.3,2540.5 783.3,2540.5 785.3,2540.5 787.3,2540.5 789.3,2540.5 791.3,2540.5 793.3,2540.5 795.3,2540.5 797.3,2540.5 799.3,2540.5 801.3,2540.5 803.3,2540.5 805.3,2540.5 807.3,2540.5 809.3,2540.5 811.3,2540.5 813.3,2540.5 815.3,2540.5 817.3,2540.5 819.3,2540.5 821.3,2540.5 823.3,2540.5 825.3,2540.5 827.3,2540.5 829.3,2540.5 831.3,2540.5 833.3,2540.5 835.3,2540.5 837.3,2540.5 839.3,2540.5 841.2,2540.5 843.2,2540.5 845.2,2540.5 847.2,2540.5 849.2,2540.5 851.2,2540.5 853.2,2540.5 855.2,2540.5 857.2,2540.5 859.2,2540.5 861.2,2540.5 863.2,2540.5 865.2,2540.5 867.2,2540.5 869.2,2540.5 871.2,2540.5 873.2,2540.5 875.2,2540.5 877.2,2540.5 879.2,2540.5 881.2,2540.5 883.2,2540.5 885.2,2540.5 887.2,2540.5 889.2,2540.5 891.2,2540.5 893.2,2540.5 895.2,2540.5 897.2,2540.5 899.2,2540.5 901.2,2540.5 903.2,2540.5 905.2,2540.5 907.2,2540.5 909.2,2540.5 911.2,2540.5 913.2,2540.5 915.2,2540.5 917.2,2540.5 919.2,2540.5 921.2,2540.5 923.2,2540.5 925.2,2540.5 927.2,2540.5 929.2,2540.5 931.2,2540.5 933.2,2540.5 935.2,2540.5 937.2,2540.5 939.2,2540.5 941.2,2540.5 943.2,2540.5 945.2,2540.5 947.2,2540.5 949.2,2540.5 951.2,2540.5 953.2,2540.5 955.2,2540.5 957.2,2540.5 959.2,2540.5 961.2,2540.5 963.2,2540.5 965.2,2540.5 967.2,2540.5 969.2,2540.5 971.2,2540.5 973.2,2540.5 975.2,2540.5 977.2,2540.5 979.2,2540.5 981.2,2540.5 983.2,2540.5 985.2,2540.5 987.2,2540.5 989.2,2540.5 991.2,2540.5 993.2,2540.5 995.2,2540.5 997.2,2540.5 999.2,2540.5 1001.2,2540.5 1003.2,2540.5 1005.2,2540.5 1007.2,2540.5 1009.2,2540.5 1011.2,2540.5 1013.2,2540.5 1015.2,2540.5 1017.2,2540.5 1019.2,2540.5 1021.2,2540.5 1023.2,2540.5 1025.2,2540.5 1027.2,2540.5 1029.2,2540.5 1031.2,2540.5 1033.2,2540.5 1035.2,2540.5 1037.2,2540.5 1039.2,2540.5 1041.2,2540.5 1043.2,2540.5 1045.2,2540.5 1047.2,2540.5 1049.2,2540.5 1051.2,2540.5 1053.2,2540.5 1055.2,2540.5 1057.2,2540.5 1059.2,2540.5 1061.2,2540.5 1063.2,2540.5 1065.2,2540.5 1067.2,2540.5 1069.2,2540.5 1071.2,2540.5 1073.2,2540.5 1075.2,2540.5 1077.2,2540.5 1079.2,2540.5 1081.2,2540.5 1083.2,2540.5 1085.2,2540.5 1087.2,2540.5 1089.2,2540.5 1091.2,2540.5 1093.2,2540.5 1095.2,2540.5 1097.2,2540.5 1099.2,2540.5 1101.2,2540.5 1103.2,2540.5 1105.2,2540.5 1107.2,2540.5 1109.2,2540.5 1111.2,2540.5 1113.2,2540.5 1115.2,2540.5 1117.2,2540.5 1119.2,2540.5 1121.2,2540.5 1123.2,2540.5 1125.2,2540.5 1127.2,2540.5 1129.2,2540.5 1131.2,2540.5 1133.2,2540.5 1135.2,2540.5 1137.2,2540.5 1139.2,2540.5 1141.2,2540.5 1143.2,2540.5 1145.2,2540.5 1147.2,2540.5 1149.2,2540.5 1151.2,2540.5 1153.2,2540.5 1155.2,2540.5 1157.2,2540.5 1159.2,2540.5 1161.2,2540.5 1163.2,2540.4 1165.2,2540.4 1167.2,2540.4 1169.2,2540.4 1171.2,2540.4 1173.2,2540.4 1175.2,2540.4 1177.2,2540.3 1179.2,2540.3 1181.2,2540.3 1183.2,2540.3 1185.2,2540.2 1187.2,2540.2 1189.2,2540.1 1191.2,2540.1 1193.2,2540 1195.2,2540 1197.2,2539.9 1199.2,2539.8 1201.2,2539.7 1203.2,2539.7 1205.2,2539.5 1207.2,2539.4 1209.2,2539.3 1211.2,2539.2 1213.2,2539 1215.2,2538.8 1217.2,2538.6 1219.2,2538.4 1221.2,2538.2 1223.2,2537.9 1225.2,2537.7 1227.2,2537.4 1229.2,2537.1 1231.2,2536.7 1233.2,2536.3 1235.2,2535.9 1237.2,2535.5 1239.2,2535.1 1241.2,2534.6 1243.2,2534.1 1245.2,2533.5 1247.2,2532.9 1249.2,2532.3 1251.2,2531.6 1253.2,2530.9 1255.2,2530.2 1257.2,2529.4 1259.2,2528.6 1261.2,2527.8 1263.2,2526.9 1265.2,2526 1267.2,2525.1 1269.2,2524.1 1271.2,2523.1 1273.2,2522.1 1275.2,2521 1277.2,2519.9 1279.2,2518.8 1281.1,2517.7 1283.1,2516.6 1285.1,2515.4 1287.1,2514.2 1289.1,2513.1 1291.1,2511.9 1293.1,2510.7 1295.1,2509.5 1297.1,2508.3 1299.1,2507.2 1301.1,2506 1303.1,2504.9 1305.1,2503.8 1307.1,2502.7 1309.1,2501.7 1311.1,2500.6 1313.1,2499.6 1315.1,2498.7 1317.1,2497.8 1319.1,2496.9 1321.1,2496.1 1323.1,2495.3 1325.1,2494.5 1327.1,2493.8 1329.1,2493.2 1331.1,2492.6 1333.1,2492 1335.1,2491.5 1337.1,2491.1 1339.1,2490.6 1341.1,2490.2 1343.1,2489.9 1345.1,2489.6 1347.1,2489.3 1349.1,2489 1351.1,2488.8 1353.1,2488.5 1355.1,2488.3 1357.1,2488.1 1359.1,2488 1361.1,2487.8 1363.1,2487.6 1365.1,2487.4 1367.1,2487.2 1369.1,2486.9 1371.1,2486.7 1373.1,2486.5 1375.1,2486.2 1377.1,2485.9 1379.1,2485.5 1381.1,2485.2 1383.1,2484.8 1385.1,2484.4 1387.1,2484 1389.1,2483.5 1391.1,2483 1393.1,2482.5 1395.1,2481.9 1397.1,2481.4 1399.1,2480.8 1401.1,2480.2 1403.1,2479.7 1405.1,2479.1 1407.1,2478.5 1409.1,2477.9 1411.1,2477.3 1413.1,2476.8 1415.1,2476.3 1417.1,2475.8 1419.1,2475.3 1421.1,2474.9 1423.1,2474.6 1425.1,2474.3 1427.1,2474.1 1429.1,2473.9 1431.1,2473.8 1433.1,2473.7 1435.1,2473.8 1437.1,2473.9 1439.1,2474.1 1441.1,2474.4 1443.1,2474.8 1445.1,2475.3 1447.1,2475.8 1449.1,2476.5 1451.1,2477.2 1453.1,2478 1455.1,2478.9 1457.1,2479.9 1459.1,2480.9 1461.1,2482.1 1463.1,2483.3 1465.1,2484.5 1467.1,2485.9 1469.1,2487.3 1471.1,2488.7 1473.1,2490.2 1475.1,2491.7 1477.1,2493.3 1479.1,2494.9 1481.1,2496.5 1483.1,2498.1 1485.1,2499.7 1487.1,2501.4 1489.1,2503 1491.1,2504.7 1493.1,2506.3 1495.1,2507.9 1497.1,2509.5 1499.1,2511 1501.1,2512.6 1503.1,2514.1 1505.1,2515.5 1507.1,2517 1509.1,2518.3 1511.1,2519.7 1513.1,2521 1515.1,2522.2 1517.1,2523.4 1519.1,2524.6 1521.1,2525.6 1523.1,2526.7 1525.1,2527.7 1527.1,2528.6 1529.1,2529.5 1531.1,2530.4 1533.1,2531.2 1535.1,2531.9 1537.1,2532.6 1539.1,2533.3 1541.1,2533.9 1543.1,2534.5 1545.1,2535 1547.1,2535.5 1549.1,2536 1551.1,2536.4 1553.1,2536.8 1555.1,2537.1 1557.1,2537.5 1559.1,2537.8 1561.1,2538 1563.1,2538.3 1565.1,2538.5 1567.1,2538.7 1569.1,2538.9 1571.1,2539.1 1573.1,2539.3 1575.1,2539.4 1577.1,2539.5 1579.1,2539.6 1581.1,2539.7 1583.1,2539.8 1585.1,2539.9 1587.1,2540 1589.1,2540 1591.1,2540.1 1593.1,2540.2 1595.1,2540.2 1597.1,2540.2 1599.1,2540.3 1601.1,2540.3 1603.1,2540.3 1605.1,2540.4 1607.1,2540.4 1609.1,2540.4 1611.1,2540.4 1613.1,2540.4 1615.1,2540.4 1617.1,2540.4 1619.1,2540.4 1621.1,2540.5 1623.1,2540.5 1625.1,2540.5 1627.1,2540.5 1629.1,2540.5 1631.1,2540.5 1633.1,2540.5 1635.1,2540.5 1637.1,2540.5 1639.1,2540.5 1641.1,2540.5 1643.1,2540.5 1645.1,2540.5 1647.1,2540.5 1649.1,2540.5 1651.1,2540.5 1653.1,2540.5 1655.1,2540.5 1657.1,2540.5 1659.1,2540.5 1661.1,2540.5 1663.1,2540.5 1665.1,2540.5 1667.1,2540.5 1669.1,2540.5 1671.1,2540.5 1673.1,2540.5 1675.1,2540.5 1677.1,2540.5 1679.1,2540.5 1681.1,2540.5 1683.1,2540.5 1685.1,2540.5 1687.1,2540.5 1689.1,2540.5 1691.1,2540.5 1693.1,2540.5 1695.1,2540.5 1697.1,2540.5 1699.1,2540.5 1701.1,2540.5 1703.1,2540.5 1705.1,2540.5 1707.1,2540.5 1709.1,2540.5 1711.1,2540.5 1713.1,2540.5 1715.1,2540.5 1717.1,2540.5 1719.1,2540.5 1721,2540.5 1723,2540.5 1725,2540.5 1727,2540.5 1729,2540.5 1731,2540.5 1733,2540.5 1735,2540.5 1737,2540.5 1739,2540.5 1741,2540.5 1743,2540.5 1745,2540.5 1747,2540.5 1749,2540.5 1751,2540.5 1753,2540.5 1755,2540.5 1757,2540.5 1759,2540.5 1761,2540.5 1763,2540.5 1765,2540.5 1767,2540.5 1769,2540.5 1771,2540.5 1773,2540.5 1775,2540.5 1777,2540.5 1779,2540.5 1781,2540.5 1783,2540.5 1785,2540.5 1787,2540.5 1789,2540.5 1791,2540.5 1793,2540.5 1795,2540.5 1797,2540.5 1799,2540.5 1801,2540.5 1803,2540.5 1805,2540.5 1807,2540.5 1809,2540.5 1811,2540.5 1813,2540.5 1815,2540.5 1817,2540.5 1819,2540.5 1821,2540.5 1823,2540.5 1825,2540.5 1827,2540.5 1829,2540.5 1831,2540.5 1833,2540.5 1835,2540.5 1837,2540.5 1839,2540.5 1841,2540.5 1843,2540.5 1845,2540.5 1847,2540.5 1849,2540.5 1851,2540.5 1853,2540.5 1855,2540.5 1857,2540.5 1859,2540.5 1861,2540.5 1863,2540.5 1865,2540.5 1867,2540.5 1869,2540.5 1871,2540.5 1873,2540.5 1875,2540.5 1877,2540.5 1879,2540.5 1881,2540.5 1883,2540.5 1885,2540.5 1887,2540.5 1889,2540.5 1891,2540.5 1893,2540.5 1895,2540.5 1897,2540.5 1899,2540.5 1901,2540.5 1903,2540.5 1905,2540.5 1907,2540.5 1909,2540.5 1911,2540.5 1913,2540.5 1915,2540.5 1917,2540.5 1919,2540.5 1921,2540.5 1923,2540.5 1925,2540.5 1927,2540.5 1929,2540.5 1931,2540.5 1933,2540.5 1935,2540.5 1937,2540.5 1939,2540.5 1941,2540.5 L1941,2541 Z" fill="#a8a8a8"/>
<path d="M179.4,2539.7 181.4,2539.7 183.4,2539.7 185.4,2539.7 187.4,2539.7 189.4,2539.7 191.4,2539.7 193.4,2539.7 195.4,2539.7 197.4,2539.7 199.4,2539.7 201.4,2539.7 203.4,2539.7 205.4,2539.7 207.4,2539.7 209.4,2539.7 211.4,2539.6 213.4,2539.6 215.4,2539.6 217.4,2539.6 219.4,2539.6 221.4,2539.6 223.4,2539.6 225.4,2539.6 227.4,2539.6 229.4,2539.6 231.4,2539.6 233.4,2539.6 235.4,2539.6 237.4,2539.6 239.4,2539.6 241.4,2539.6 243.4,2539.6 245.4,2539.6 247.4,2539.6 249.4,2539.5 251.4,2539.5 253.4,2539.5 255.4,2539.5 257.4,2539.5 259.4,2539.5 261.4,2539.5 263.4,2539.5 265.4,2539.5 267.4,2539.5 269.4,2539.5 271.4,2539.5 273.4,2539.5 275.4,2539.5 277.4,2539.5 279.4,2539.5 281.4,2539.4 283.4,2539.4 285.4,2539.4 287.4,2539.4 289.4,2539.4 291.4,2539.4 293.4,2539.4 295.4,2539.4 297.4,2539.4 299.4,2539.4 301.4,2539.4 303.4,2539.4 305.4,2539.4 307.4,2539.4 309.4,2539.3 311.4,2539.3 313.4,2539.3 315.4,2539.3 317.4,2539.3 319.4,2539.3 321.4,2539.3 323.4,2539.3 325.4,2539.3 327.4,2539.3 329.4,2539.3 331.4,2539.3 333.4,2539.3 335.4,2539.2 337.4,2539.2 339.4,2539.2 341.4,2539.2 343.4,2539.2 345.4,2539.2 347.4,2539.2 349.4,2539.2 351.4,2539.2 353.4,2539.2 355.4,2539.2 357.4,2539.1 359.4,2539.1 361.4,2539.1 363.4,2539.1 365.4,2539.1 367.4,2539.1 369.4,2539.1 371.4,2539.1 373.4,2539.1 375.4,2539.1 377.4,2539 379.4,2539 381.4,2539 383.4,2539 385.4,2539 387.4,2539 389.4,2539 391.4,2539 393.4,2538.9 395.4,2538.9 397.4,2538.9 399.4,2538.9 401.3,2538.9 403.3,2538.9 405.3,2538.9 407.3,2538.9 409.3,2538.8 411.3,2538.8 413.3,2538.8 415.3,2538.8 417.3,2538.8 419.3,2538.8 421.3,2538.8 423.3,2538.7 425.3,2538.7 427.3,2538.7 429.3,2538.7 431.3,2538.7 433.3,2538.7 435.3,2538.6 437.3,2538.6 439.3,2538.6 441.3,2538.6 443.3,2538.6 445.3,2538.6 447.3,2538.5 449.3,2538.5 451.3,2538.5 453.3,2538.5 455.3,2538.5 457.3,2538.4 459.3,2538.4 461.3,2538.4 463.3,2538.4 465.3,2538.3 467.3,2538.3 469.3,2538.3 471.3,2538.3 473.3,2538.2 475.3,2538.2 477.3,2538.2 479.3,2538.1 481.3,2538.1 483.3,2538.1 485.3,2538 487.3,2538 489.3,2538 491.3,2537.9 493.3,2537.9 495.3,2537.9 497.3,2537.8 499.3,2537.8 501.3,2537.7 503.3,2537.7 505.3,2537.6 507.3,2537.6 509.3,2537.5 511.3,2537.5 513.3,2537.4 515.3,2537.4 517.3,2537.3 519.3,2537.3 521.3,2537.2 523.3,2537.1 525.3,2537.1 527.3,2537 529.3,2536.9 531.3,2536.8 533.3,2536.7 535.3,2536.7 537.3,2536.6 539.3,2536.5 541.3,2536.4 543.3,2536.3 545.3,2536.2 547.3,2536.1 549.3,2536 551.3,2535.8 553.3,2535.7 555.3,2535.6 557.3,2535.5 559.3,2535.3 561.3,2535.2 563.3,2535 565.3,2534.9 567.3,2534.7 569.3,2534.5 571.3,2534.3 573.3,2534.2 575.3,2534 577.3,2533.8 579.3,2533.6 581.3,2533.3 583.3,2533.1 585.3,2532.9 587.3,2532.6 589.3,2532.4 591.3,2532.1 593.3,2531.9 595.3,2531.6 597.3,2531.3 599.3,2531 601.3,2530.7 603.3,2530.3 605.3,2530 607.3,2529.6 609.3,2529.3 611.3,2528.9 613.3,2528.5 615.3,2528.1 617.3,2527.7 619.3,2527.2 621.3,2526.8 623.3,2526.3 625.3,2525.9 627.3,2525.4 629.3,2524.8 631.3,2524.3 633.3,2523.8 635.3,2523.2 637.3,2522.6 639.3,2522 641.3,2521.4 643.3,2520.7 645.3,2520.1 647.3,2519.4 649.3,2518.7 651.3,2518 653.3,2517.2 655.3,2516.5 657.3,2515.7 659.3,2514.9 661.3,2514.1 663.3,2513.2 665.3,2512.3 667.3,2511.4 669.3,2510.5 671.3,2509.6 673.3,2508.6 675.3,2507.6 677.3,2506.6 679.3,2505.5 681.3,2504.5 683.3,2503.4 685.3,2502.2 687.3,2501.1 689.3,2499.9 691.3,2498.7 693.3,2497.5 695.3,2496.3 697.3,2495 699.3,2493.7 701.3,2492.3 703.3,2491 705.3,2489.6 707.3,2488.2 709.3,2486.8 711.3,2485.3 713.3,2483.8 715.3,2482.3 717.3,2480.8 719.3,2479.2 721.3,2477.6 723.3,2476 725.3,2474.4 727.3,2472.7 729.3,2471 731.3,2469.3 733.3,2467.6 735.3,2465.8 737.3,2464 739.3,2462.2 741.3,2460.4 743.3,2458.5 745.3,2456.6 747.3,2454.7 749.3,2452.8 751.3,2450.9 753.3,2448.9 755.3,2447 757.3,2445 759.3,2443 761.3,2441 763.3,2438.9 765.3,2436.9 767.3,2434.8 769.3,2432.7 771.3,2430.6 773.3,2428.5 775.3,2426.4 777.3,2424.3 779.3,2422.2 781.3,2420 783.3,2417.9 785.3,2415.7 787.3,2413.6 789.3,2411.4 791.3,2409.3 793.3,2407.1 795.3,2405 797.3,2402.8 799.3,2400.7 801.3,2398.5 803.3,2396.4 805.3,2394.2 807.3,2392.1 809.3,2390 811.3,2387.9 813.3,2385.8 815.3,2383.7 817.3,2381.7 819.3,2379.6 821.3,2377.6 823.3,2375.6 825.3,2373.6 827.3,2371.6 829.3,2369.6 831.3,2367.7 833.3,2365.8 835.3,2363.9 837.3,2362.1 839.3,2360.3 841.2,2358.5 843.2,2356.7 845.2,2355 847.2,2353.3 849.2,2351.6 851.2,2350 853.2,2348.4 855.2,2346.9 857.2,2345.3 859.2,2343.9 861.2,2342.4 863.2,2341 865.2,2339.7 867.2,2338.3 869.2,2337.1 871.2,2335.8 873.2,2334.7 875.2,2333.5 877.2,2332.4 879.2,2331.4 881.2,2330.4 883.2,2329.4 885.2,2328.5 887.2,2327.7 889.2,2326.8 891.2,2326.1 893.2,2325.4 895.2,2324.7 897.2,2324.1 899.2,2323.6 901.2,2323.1 903.2,2322.7 905.2,2322.3 907.2,2321.9 909.2,2321.7 911.2,2321.4 913.2,2321.3 915.2,2321.2 917.2,2321.1 919.2,2321.1 921.2,2321.2 923.2,2321.3 925.2,2321.5 927.2,2321.8 929.2,2322.1 931.2,2322.4 933.2,2322.9 935.2,2323.3 937.2,2323.9 939.2,2324.5 941.2,2325.1 943.2,2325.9 945.2,2326.6 947.2,2327.5 949.2,2328.4 951.2,2329.3 953.2,2330.4 955.2,2331.4 957.2,2332.6 959.2,2333.7 961.2,2335 963.2,2336.3 965.2,2337.6 967.2,2339 969.2,2340.5 971.2,2342 973.2,2343.5 975.2,2345.1 977.2,2346.8 979.2,2348.5 981.2,2350.2 983.2,2352 985.2,2353.8 987.2,2355.7 989.2,2357.6 991.2,2359.5 993.2,2361.5 995.2,2363.5 997.2,2365.5 999.2,2367.6 1001.2,2369.7 1003.2,2371.8 1005.2,2373.9 1007.2,2376.1 1009.2,2378.3 1011.2,2380.5 1013.2,2382.7 1015.2,2385 1017.2,2387.2 1019.2,2389.5 1021.2,2391.8 1023.2,2394.1 1025.2,2396.4 1027.2,2398.7 1029.2,2401.1 1031.2,2403.4 1033.2,2405.7 1035.2,2408 1037.2,2410.4 1039.2,2412.7 1041.2,2415 1043.2,2417.3 1045.2,2419.6 1047.2,2421.9 1049.2,2424.2 1051.2,2426.5 1053.2,2428.8 1055.2,2431 1057.2,2433.3 1059.2,2435.5 1061.2,2437.7 1063.2,2439.9 1065.2,2442.1 1067.2,2444.3 1069.2,2446.4 1071.2,2448.5 1073.2,2450.6 1075.2,2452.7 1077.2,2454.8 1079.2,2456.8 1081.2,2458.8 1083.2,2460.8 1085.2,2462.8 1087.2,2464.7 1089.2,2466.6 1091.2,2468.5 1093.2,2470.3 1095.2,2472.1 1097.2,2473.9 1099.2,2475.7 1101.2,2477.4 1103.2,2479.1 1105.2,2480.8 1107.2,2482.4 1109.2,2484 1111.2,2485.6 1113.2,2487.2 1115.2,2488.7 1117.2,2490.2 1119.2,2491.6 1121.2,2493.1 1123.2,2494.5 1125.2,2495.8 1127.2,2497.2 1129.2,2498.5 1131.2,2499.8 1133.2,2501 1135.2,2502.2 1137.2,2503.4 1139.2,2504.6 1141.2,2505.7 1143.2,2506.8 1145.2,2507.9 1147.2,2508.9 1149.2,2509.9 1151.2,2510.9 1153.2,2511.9 1155.2,2512.8 1157.2,2513.7 1159.2,2514.6 1161.2,2515.5 1163.2,2516.3 1165.2,2517.1 1167.2,2517.9 1169.2,2518.7 1171.2,2519.4 1173.2,2520.1 1175.2,2520.8 1177.2,2521.5 1179.2,2522.1 1181.2,2522.8 1183.2,2523.4 1185.2,2523.9 1187.2,2524.5 1189.2,2525.1 1191.2,2525.6 1193.2,2526.1 1195.2,2526.6 1197.2,2527.1 1199.2,2527.5 1201.2,2528 1203.2,2528.4 1205.2,2528.8 1207.2,2529.2 1209.2,2529.6 1211.2,2529.9 1213.2,2530.3 1215.2,2530.6 1217.2,2531 1219.2,2531.3 1221.2,2531.6 1223.2,2531.9 1225.2,2532.1 1227.2,2532.4 1229.2,2532.7 1231.2,2532.9 1233.2,2533.2 1235.2,2533.4 1237.2,2533.6 1239.2,2533.8 1241.2,2534 1243.2,2534.2 1245.2,2534.4 1247.2,2534.6 1249.2,2534.7 1251.2,2534.9 1253.2,2535.1 1255.2,2535.2 1257.2,2535.4 1259.2,2535.5 1261.2,2535.6 1263.2,2535.7 1265.2,2535.9 1267.2,2536 1269.2,2536.1 1271.2,2536.2 1273.2,2536.3 1275.2,2536.4 1277.2,2536.5 1279.2,2536.6 1281.1,2536.7 1283.1,2536.8 1285.1,2536.8 1287.1,2536.9 1289.1,2537 1291.1,2537.1 1293.1,2537.1 1295.1,2537.2 1297.1,2537.3 1299.1,2537.3 1301.1,2537.4 1303.1,2537.4 1305.1,2537.5 1307.1,2537.5 1309.1,2537.6 1311.1,2537.6 1313.1,2537.7 1315.1,2537.7 1317.1,2537.8 1319.1,2537.8 1321.1,2537.8 1323.1,2537.9 1325.1,2537.9 1327.1,2538 1329.1,2538 1331.1,2538 1333.1,2538.1 1335.1,2538.1 1337.1,2538.1 1339.1,2538.1 1341.1,2538.2 1343.1,2538.2 1345.1,2538.2 1347.1,2538.3 1349.1,2538.3 1351.1,2538.3 1353.1,2538.3 1355.1,2538.3 1357.1,2538.4 1359.1,2538.4 1361.1,2538.4 1363.1,2538.4 1365.1,2538.5 1367.1,2538.5 1369.1,2538.5 1371.1,2538.5 1373.1,2538.5 1375.1,2538.6 1377.1,2538.6 1379.1,2538.6 1381.1,2538.6 1383.1,2538.6 1385.1,2538.6 1387.1,2538.7 1389.1,2538.7 1391.1,2538.7 1393.1,2538.7 1395.1,2538.7 1397.1,2538.7 1399.1,2538.8 1401.1,2538.8 1403.1,2538.8 1405.1,2538.8 1407.1,2538.8 1409.1,2538.8 1411.1,2538.8 1413.1,2538.9 1415.1,2538.9 1417.1,2538.9 1419.1,2538.9 1421.1,2538.9 1423.1,2538.9 1425.1,2538.9 1427.1,2538.9 1429.1,2539 1431.1,2539 1433.1,2539 1435.1,2539 1437.1,2539 1439.1,2539 1441.1,2539 1443.1,2539 1445.1,2539 1447.1,2539.1 1449.1,2539.1 1451.1,2539.1 1453.1,2539.1 1455.1,2539.1 1457.1,2539.1 1459.1,2539.1 1461.1,2539.1 1463.1,2539.1 1465.1,2539.1 1467.1,2539.2 1469.1,2539.2 1471.1,2539.2 1473.1,2539.2 1475.1,2539.2 1477.1,2539.2 1479.1,2539.2 1481.1,2539.2 1483.1,2539.2 1485.1,2539.2 1487.1,2539.2 1489.1,2539.3 1491.1,2539.3 1493.1,2539.3 1495.1,2539.3 1497.1,2539.3 1499.1,2539.3 1501.1,2539.3 1503.1,2539.3 1505.1,2539.3 1507.1,2539.3 1509.1,2539.3 1511.1,2539.3 1513.1,2539.3 1515.1,2539.4 1517.1,2539.4 1519.1,2539.4 1521.1,2539.4 1523.1,2539.4 1525.1,2539.4 1527.1,2539.4 1529.1,2539.4 1531.1,2539.4 1533.1,2539.4 1535.1,2539.4 1537.1,2539.4 1539.1,2539.4 1541.1,2539.4 1543.1,2539.5 1545.1,2539.5 1547.1,2539.5 1549.1,2539.5 1551.1,2539.5 1553.1,2539.5 1555.1,2539.5 1557.1,2539.5 1559.1,2539.5 1561.1,2539.5 1563.1,2539.5 1565.1,2539.5 1567.1,2539.5 1569.1,2539.5 1571.1,2539.5 1573.1,2539.5 1575.1,2539.6 1577.1,2539.6 1579.1,2539.6 1581.1,2539.6 1583.1,2539.6 1585.1,2539.6 1587.1,2539.6 1589.1,2539.6 1591.1,2539.6 1593.1,2539.6 1595.1,2539.6 1597.1,2539.6 1599.1,2539.6 1601.1,2539.6 1603.1,2539.6 1605.1,2539.6 1607.1,2539.6 1609.1,2539.6 1611.1,2539.6 1613.1,2539.6 1615.1,2539.7 1617.1,2539.7 1619.1,2539.7 1621.1,2539.7 1623.1,2539.7 1625.1,2539.7 1627.1,2539.7 1629.1,2539.7 1631.1,2539.7 1633.1,2539.7 1635.1,2539.7 1637.1,2539.7 1639.1,2539.7 1641.1,2539.7 1643.1,2539.7 1645.1,2539.7 1647.1,2539.7 1649.1,2539.7 1651.1,2539.7 1653.1,2539.7 1655.1,2539.7 1657.1,2539.7 1659.1,2539.7 1661.1,2539.8 1663.1,2539.8 1665.1,2539.8 1667.1,2539.8 1669.1,2539.8 1671.1,2539.8 1673.1,2539.8 1675.1,2539.8 1677.1,2539.8 1679.1,2539.8 1681.1,2539.8 1683.1,2539.8 1685.1,2539.8 1687.1,2539.8 1689.1,2539.8 1691.1,2539.8 1693.1,2539.8 1695.1,2539.8 1697.1,2539.8 1699.1,2539.8 1701.1,2539.8 1703.1,2539.8 1705.1,2539.8 1707.1,2539.8 1709.1,2539.8 1711.1,2539.8 1713.1,2539.8 1715.1,2539.8 1717.1,2539.9 1719.1,2539.9 1721,2539.9 1723,2539.9 1725,2539.9 1727,2539.9 1729,2539.9 1731,2539.9 1733,2539.9 1735,2539.9 1737,2539.9 1739,2539.9 1741,2539.9 1743,2539.9 1745,2539.9 1747,2539.9 1749,2539.9 1751,2539.9 1753,2539.9 1755,2539.9 1757,2539.9 1759,2539.9 1761,2539.9 1763,2539.9 1765,2539.9 1767,2539.9 1769,2539.9 1771,2539.9 1773,2539.9 1775,2539.9 1777,2539.9 1779,2539.9 1781,2539.9 1783,2539.9 1785,2539.9 1787,2540 1789,2540 1791,2540 1793,2540 1795,2540 1797,2540 1799,2540 1801,2540 1803,2540 1805,2540 1807,2540 1809,2540 1811,2540 1813,2540 1815,2540 1817,2540 1819,2540 1821,2540 1823,2540 1825,2540 1827,2540 1829,2540 1831,2540 1833,2540 1835,2540 1837,2540 1839,2540 1841,2540 1843,2540 1845,2540 1847,2540 1849,2540 1851,2540 1853,2540 1855,2540 1857,2540 1859,2540 1861,2540 1863,2540 1865,2540 1867,2540 1869,2540 1871,2540 1873,2540 1875,2540 1877,2540 1879,2540.1 1881,2540.1 1883,2540.1 1885,2540.1 1887,2540.1 1889,2540.1 1891,2540.1 1893,2540.1 1895,2540.1 1897,2540.1 1899,2540.1 1901,2540.1 1903,2540.1 1905,2540.1 1907,2540.1 1909,2540.1 1911,2540.1 1913,2540.1 1915,2540.1 1917,2540.1 1919,2540.1 1921,2540.1 1923,2540.1 1925,2540.1 1927,2540.1 1929,2540.1 1931,2540.1 1933,2540.1 1935,2540.1 1937,2540.1 1939,2540.1 1941,2540.1" fill="none" stroke="#10cc10" stroke-width="4" stroke-linejoin="round"/>
<g fill="#ff0000"><rect x="169.4" y="2465.9" width="20" height="20"/><rect x="176.7" y="2463.4" width="20" height="20"/><rect x="184.1" y="2468.8" width="20" height="20"/><rect x="191.4" y="2468.9" width="20" height="20"/><rect x="198.8" y="2468.4" width="20" height="20"/><rect x="206.1" y="2474.1" width="20" height="20"/><rect x="213.4" y="2477.3" width="20" height="20"/><rect x="220.8" y="2468.3" width="20" height="20"/><rect x="228.1" y="2473.1" width="20" height="20"/><rect x="235.5" y="2474.2" width="20" height="20"/><rect x="242.8" y="2473.3" width="20" height="20"/><rect x="250.1" y="2474.7" width="20" height="20"/><rect x="257.5" y="2468.8" width="20" height="20"/><rect x="264.8" y="2473.5" width="20" height="20"/><rect x="272.2" y="2478.9" width="20" height="20"/><rect x="279.5" y="2473.9" width="20" height="20"/><rect x="286.8" y="2468" width="20" height="20"/><rect x="294.2" y="2473.1" width="20" height="20"/><rect x="301.5" y="2475.9" width="20" height="20"/><rect x="308.9" y="2472.2" width="20" height="20"/><rect x="316.2" y="2468.3" width="20" height="20"/><rect x="323.5" y="2477.2" width="20" height="20"/><rect x="330.9" y="2465.5" width="20" height="20"/><rect x="338.2" y="2472.8" width="20" height="20"/><rect x="345.6" y="2470.6" width="20" height="20"/><rect x="352.9" y="2465.7" width="20" height="20"/><rect x="360.2" y="2475.8" width="20" height="20"/><rect x="367.6" y="2472.1" width="20" height="20"/><rect x="374.9" y="2465.8" width="20" height="20"/><rect x="382.3" y="2473.1" width="20" height="20"/><rect x="389.6" y="2468.7" width="20" height="20"/><rect x="396.9" y="2462.5" width="20" height="20"/><rect x="404.3" y="2467.6" width="20" height="20"/><rect x="411.6" y="2471.5" width="20" height="20"/><rect x="419" y="2473" width="20" height="20"/><rect x="426.3" y="2470.9" width="20" height="20"/><rect x="433.6" y="2470.3" width="20" height="20"/><rect x="441" y="2471.9" width="20" height="20"/><rect x="448.3" y="2468.9" width="20" height="20"/><rect x="455.7" y="2474.7" width="20" height="20"/><rect x="463" y="2470.1" width="20" height="20"/><rect x="470.3" y="2470.5" width="20" height="20"/><rect x="477.7" y="2471.3" width="20" height="20"/><rect x="485" y="2464.4" width="20" height="20"/><rect x="492.4" y="2465.6" width="20" height="20"/><rect x="499.7" y="2474.8" width="20" height="20"/><rect x="507" y="2469.4" width="20" height="20"/><rect x="514.4" y="2466.2" width="20" height="20"/><rect x="521.7" y="2468.4" width="20" height="20"/><rect x="529.1" y="2464.5" width="20" height="20"/><rect x="536.4" y="2467" width="20" height="20"/><rect x="543.7" y="2462.3" width="20" height="20"/><rect x="551.1" y="2465.7" width="20" height="20"/><rect x="558.4" y="2456.8" width="20" height="20"/><rect x="565.8" y="2468.6" width="20" height="20"/><rect x="573.1" y="2459.9" width="20" height="20"/><rect x="580.4" y="2453.6" width="20" height="20"/><rect x="587.8" y="2458.4" width="20" height="20"/><rect x="595.1" y="2457" width="20" height="20"/><rect x="602.5" y="2457.2" width="20" height="20"/><rect x="609.8" y="2449.8" width="20" height="20"/><rect x="617.1" y="2454.6" width="20" height="20"/><rect x="624.5" y="2460.5" width="20" height="20"/><rect x="631.8" y="2442.7" width="20" height="20"/><rect x="639.2" y="2447.6" width="20" height="20"/><rect x="646.5" y="2442.4" width="20" height="20"/><rect x="653.8" y="2440.9" width="20" height="20"/><rect x="661.2" y="2428.3" width="20" height="20"/><rect x="668.5" y="2427.5" width="20" height="20"/><rect x="675.9" y="2432.4" width="20" height="20"/><rect x="683.2" y="2424.3" width="20" height="20"/><rect x="690.5" y="2428.8" width="20" height="20"/><rect x="697.9" y="2412.8" width="20" height="20"/><rect x="705.2" y="2411.3" width="20" height="20"/><rect x="712.6" y="2414.7" width="20" height="20"/><rect x="719.9" y="2393.6" width="20" height="20"/><rect x="727.2" y="2390.9" width="20" height="20"/><rect x="734.6" y="2386" width="20" height="20"/><rect x="741.9" y="2379.8" width="20" height="20"/><rect x="749.3" y="2378.6" width="20" height="20"/><rect x="756.6" y="2368.8" width="20" height="20"/><rect x="763.9" y="2352.9" width="20" height="20"/><rect x="771.3" y="2354.7" width="20" height="20"/><rect x="778.6" y="2354.6" width="20" height="20"/><rect x="786" y="2341.4" width="20" height="20"/><rect x="793.3" y="2318.6" width="20" height="20"/><rect x="800.6" y="2319.9" width="20" height="20"/><rect x="808" y="2309.1" width="20" height="20"/><rect x="815.3" y="2308.6" width="20" height="20"/><rect x="822.7" y="2294.4" width="20" height="20"/><rect x="830" y="2300.8" width="20" height="20"/><rect x="837.3" y="2292.8" width="20" height="20"/><rect x="844.7" y="2285.1" width="20" height="20"/><rect x="852" y="2273.4" width="20" height="20"/><rect x="859.4" y="2266.4" width="20" height="20"/><rect x="866.7" y="2266.2" width="20" height="20"/><rect x="874" y="2270.9" width="20" height="20"/><rect x="881.4" y="2262.1" width="20" height="20"/><rect x="888.7" y="2253.7" width="20" height="20"/><rect x="896.1" y="2265.4" width="20" height="20"/><rect x="903.4" y="2256.8" width="20" height="20"/><rect x="910.7" y="2255.4" width="20" height="20"/><rect x="918.1" y="2251.4" width="20" height="20"/><rect x="925.4" y="2255.1" width="20" height="20"/><rect x="932.8" y="2257.4" width="20" height="20"/><rect x="940.1" y="2250.2" width="20" height="20"/><rect x="947.4" y="2277" width="20" height="20"/><rect x="954.8" y="2280.3" width="20" height="20"/><rect x="962.1" y="2278.7" width="20" height="20"/><rect x="969.5" y="2291.7" width="20" height="20"/><rect x="976.8" y="2297.7" width="20" height="20"/><rect x="984.1" y="2303" width="20" height="20"/><rect x="991.5" y="2297.6" width="20" height="20"/><rect x="998.8" y="2313.4" width="20" height="20"/><rect x="1006.2" y="2325" width="20" height="20"/><rect x="1013.5" y="2337.7" width="20" height="20"/><rect x="1020.8" y="2351.4" width="20" height="20"/><rect x="1028.2" y="2357.9" width="20" height="20"/><rect x="1035.5" y="2346.4" width="20" height="20"/><rect x="1042.9" y="2349.9" width="20" height="20"/><rect x="1050.2" y="2373.8" width="20" height="20"/><rect x="1057.5" y="2376.1" width="20" height="20"/><rect x="1064.9" y="2389.1" width="20" height="20"/><rect x="1072.2" y="2390" width="20" height="20"/><rect x="1079.6" y="2399.1" width="20" height="20"/><rect x="1086.9" y="2397.4" width="20" height="20"/><rect x="1094.2" y="2412.2" width="20" height="20"/><rect x="1101.6" y="2414.1" width="20" height="20"/><rect x="1108.9" y="2422" width="20" height="20"/><rect x="1116.3" y="2428.1" width="20" height="20"/><rect x="1123.6" y="2427.6" width="20" height="20"/><rect x="1130.9" y="2434.6" width="20" height="20"/><rect x="1138.3" y="2438.6" width="20" height="20"/><rect x="1145.6" y="2444.8" width="20" height="20"/><rect x="1153" y="2447.5" width="20" height="20"/><rect x="1160.3" y="2445.3" width="20" height="20"/><rect x="1167.6" y="2448" width="20" height="20"/><rect x="1175" y="2460.7" width="20" height="20"/><rect x="1182.3" y="2454.1" width="20" height="20"/><rect x="1189.7" y="2460.2" width="20" height="20"/><rect x="1197" y="2458.5" width="20" height="20"/><rect x="1204.3" y="2455" width="20" height="20"/><rect x="1211.7" y="2454.6" width="20" height="20"/><rect x="1219" y="2458.4" width="20" height="20"/><rect x="1226.4" y="2458.4" width="20" height="20"/><rect x="1233.7" y="2458.6" width="20" height="20"/><rect x="1241" y="2447.9" width="20" height="20"/><rect x="1248.4" y="2448.5" width="20" height="20"/><rect x="1255.7" y="2448.4" width="20" height="20"/><rect x="1263.1" y="2450" width="20" height="20"/><rect x="1270.4" y="2427.2" width="20" height="20"/><rect x="1277.7" y="2429.8" width="20" height="20"/><rect x="1285.1" y="2417.5" width="20" height="20"/><rect x="1292.4" y="2414.2" width="20" height="20"/><rect x="1299.8" y="2398.6" width="20" height="20"/><rect x="1307.1" y="2379.6" width="20" height="20"/><rect x="1314.4" y="2371.3" width="20" height="20"/><rect x="1321.8" y="2341.7" width="20" height="20"/><rect x="1329.1" y="2316.9" width="20" height="20"/><rect x="1336.5" y="2305.3" width="20" height="20"/><rect x="1343.8" y="2264.3" width="20" height="20"/><rect x="1351.1" y="2233.4" width="20" height="20"/><rect x="1358.5" y="2192.2" width="20" height="20"/><rect x="1365.8" y="2149.4" width="20" height="20"/><rect x="1373.2" y="2111.3" width="20" height="20"/><rect x="1380.5" y="2066.4" width="20" height="20"/><rect x="1387.8" y="2040.1" width="20" height="20"/><rect x="1395.2" y="1982" width="20" height="20"/><rect x="1402.5" y="1943.6" width="20" height="20"/><rect x="1409.9" y="1905.7" width="20" height="20"/><rect x="1417.2" y="1873.2" width="20" height="20"/><rect x="1424.5" y="1836" width="20" height="20"/><rect x="1431.9" y="1803.3" width="20" height="20"/><rect x="1439.2" y="1779" width="20" height="20"/><rect x="1446.6" y="1754" width="20" height="20"/><rect x="1453.9" y="1729" width="20" height="20"/><rect x="1461.2" y="1710" width="20" height="20"/><rect x="1468.6" y="1667" width="20" height="20"/><rect x="1475.9" y="1667" width="20" height="20"/><rect x="1483.3" y="1667" width="20" height="20"/><rect x="1490.6" y="1670" width="20" height="20"/><rect x="1497.9" y="1694" width="20" height="20"/><rect x="1505.3" y="1705" width="20" height="20"/><rect x="1512.6" y="1752" width="20" height="20"/><rect x="1520" y="1799" width="20" height="20"/><rect x="1527.3" y="1864" width="20" height="20"/><rect x="1534.6" y="1920" width="20" height="20"/><rect x="1542" y="1971.1" width="20" height="20"/><rect x="1549.3" y="2052.9" width="20" height="20"/><rect x="1556.7" y="2100.2" width="20" height="20"/><rect x="1564" y="2163.7" width="20" height="20"/><rect x="1571.3" y="2219.6" width="20" height="20"/><rect x="1578.7" y="2292.8" width="20" height="20"/><rect x="1586" y="2325.4" width="20" height="20"/><rect x="1593.4" y="2350.7" width="20" height="20"/><rect x="1600.7" y="2396.7" width="20" height="20"/><rect x="1608" y="2411.8" width="20" height="20"/><rect x="1615.4" y="2440.1" width="20" height="20"/><rect x="1622.7" y="2446.3" width="20" height="20"/><rect x="1630.1" y="2458" width="20" height="20"/><rect x="1637.4" y="2470.4" width="20" height="20"/><rect x="1644.7" y="2479" width="20" height="20"/><rect x="1652.1" y="2475.5" width="20" height="20"/><rect x="1659.4" y="2483.9" width="20" height="20"/><rect x="1666.8" y="2488.2" width="20" height="20"/><rect x="1674.1" y="2493.2" width="20" height="20"/><rect x="1681.4" y="2495.9" width="20" height="20"/><rect x="1688.8" y="2490.5" width="20" height="20"/><rect x="1696.1" y="2490.5" width="20" height="20"/><rect x="1703.5" y="2495.6" width="20" height="20"/><rect x="1710.8" y="2493.6" width="20" height="20"/><rect x="1718.1" y="2494.3" width="20" height="20"/><rect x="1725.5" y="2500.1" width="20" height="20"/><rect x="1732.8" y="2502.7" width="20" height="20"/><rect x="1740.2" y="2498.2" width="20" height="20"/><rect x="1747.5" y="2497.3" width="20" height="20"/><rect x="1754.8" y="2500.6" width="20" height="20"/><rect x="1762.2" y="2492.3" width="20" height="20"/><rect x="1769.5" y="2499.3" width="20" height="20"/><rect x="1776.9" y="2496.1" width="20" height="20"/><rect x="1784.2" y="2507.4" width="20" height="20"/><rect x="1791.5" y="2503.3" width="20" height="20"/><rect x="1798.9" y="2501.6" width="20" height="20"/><rect x="1806.2" y="2500.6" width="20" height="20"/><rect x="1813.6" y="2494.7" width="20" height="20"/><rect x="1820.9" y="2504.7" width="20" height="20"/><rect x="1828.2" y="2508.3" width="20" height="20"/><rect x="1835.6" y="2500.2" width="20" height="20"/><rect x="1842.9" y="2505.6" width="20" height="20"/><rect x="1850.3" y="2506.1" width="20" height="20"/><rect x="1857.6" y="2498.4" width="20" height="20"/><rect x="1864.9" y="2507.6" width="20" height="20"/><rect x="1872.3" y="2509.3" width="20" height="20"/><rect x="1879.6" y="2505.7" width="20" height="20"/><rect x="1887" y="2504.8" width="20" height="20"/><rect x="1894.3" y="2508.1" width="20" height="20"/><rect x="1901.6" y="2500.2" width="20" height="20"/><rect x="1909" y="2506.3" width="20" height="20"/><rect x="1916.3" y="2509.9" width="20" height="20"/><rect x="1923.7" y="2502" width="20" height="20"/><rect x="1931" y="2510.3" width="20" height="20"/></g>
<path d="M179.4,2479.6 181.4,2479.6 183.4,2479.6 185.4,2479.6 187.4,2479.7 189.4,2479.7 191.4,2479.7 193.4,2479.7 195.4,2479.7 197.4,2479.8 199.4,2479.8 201.4,2479.8 203.4,2479.8 205.4,2479.9 207.4,2479.9 209.4,2479.9 211.4,2479.9 213.4,2479.9 215.4,2480 217.4,2480 219.4,2480 221.4,2480 223.4,2480 225.4,2480 227.4,2480.1 229.4,2480.1 231.4,2480.1 233.4,2480.1 235.4,2480.1 237.4,2480.2 239.4,2480.2 241.4,2480.2 243.4,2480.2 245.4,2480.2 247.4,2480.2 249.4,2480.3 251.4,2480.3 253.4,2480.3 255.4,2480.3 257.4,2480.3 259.4,2480.3 261.4,2480.3 263.4,2480.4 265.4,2480.4 267.4,2480.4 269.4,2480.4 271.4,2480.4 273.4,2480.4 275.4,2480.4 277.4,2480.5 279.4,2480.5 281.4,2480.5 283.4,2480.5 285.4,2480.5 287.4,2480.5 289.4,2480.5 291.4,2480.5 293.4,2480.5 295.4,2480.6 297.4,2480.6 299.4,2480.6 301.4,2480.6 303.4,2480.6 305.4,2480.6 307.4,2480.6 309.4,2480.6 311.4,2480.6 313.4,2480.6 315.4,2480.6 317.4,2480.6 319.4,2480.7 321.4,2480.7 323.4,2480.7 325.4,2480.7 327.4,2480.7 329.4,2480.7 331.4,2480.7 333.4,2480.7 335.4,2480.7 337.4,2480.7 339.4,2480.7 341.4,2480.7 343.4,2480.7 345.4,2480.7 347.4,2480.7 349.4,2480.7 351.4,2480.7 353.4,2480.7 355.4,2480.7 357.4,2480.7 359.4,2480.7 361.4,2480.7 363.4,2480.7 365.4,2480.7 367.4,2480.7 369.4,2480.7 371.4,2480.7 373.4,2480.7 375.4,2480.7 377.4,2480.7 379.4,2480.7 381.4,2480.7 383.4,2480.6 385.4,2480.6 387.4,2480.6 389.4,2480.6 391.4,2480.6 393.4,2480.6 395.4,2480.6 397.4,2480.6 399.4,2480.6 401.3,2480.5 403.3,2480.5 405.3,2480.5 407.3,2480.5 409.3,2480.5 411.3,2480.5 413.3,2480.5 415.3,2480.4 417.3,2480.4 419.3,2480.4 421.3,2480.4 423.3,2480.4 425.3,2480.3 427.3,2480.3 429.3,2480.3 431.3,2480.3 433.3,2480.2 435.3,2480.2 437.3,2480.2 439.3,2480.2 441.3,2480.1 443.3,2480.1 445.3,2480.1 447.3,2480 449.3,2480 451.3,2480 453.3,2479.9 455.3,2479.9 457.3,2479.8 459.3,2479.8 461.3,2479.8 463.3,2479.7 465.3,2479.7 467.3,2479.6 469.3,2479.6 471.3,2479.5 473.3,2479.5 475.3,2479.4 477.3,2479.4 479.3,2479.3 481.3,2479.3 483.3,2479.2 485.3,2479.1 487.3,2479.1 489.3,2479 491.3,2478.9 493.3,2478.9 495.3,2478.8 497.3,2478.7 499.3,2478.7 501.3,2478.6 503.3,2478.5 505.3,2478.4 507.3,2478.3 509.3,2478.2 511.3,2478.1 513.3,2478 515.3,2477.9 517.3,2477.8 519.3,2477.7 521.3,2477.6 523.3,2477.5 525.3,2477.4 527.3,2477.3 529.3,2477.2 531.3,2477 533.3,2476.9 535.3,2476.8 537.3,2476.6 539.3,2476.5 541.3,2476.3 543.3,2476.2 545.3,2476 547.3,2475.9 549.3,2475.7 551.3,2475.5 553.3,2475.3 555.3,2475.2 557.3,2475 559.3,2474.8 561.3,2474.6 563.3,2474.4 565.3,2474.2 567.3,2473.9 569.3,2473.7 571.3,2473.5 573.3,2473.2 575.3,2473 577.3,2472.7 579.3,2472.4 581.3,2472.2 583.3,2471.9 585.3,2471.6 587.3,2471.3 589.3,2471 591.3,2470.7 593.3,2470.3 595.3,2470 597.3,2469.6 599.3,2469.3 601.3,2468.9 603.3,2468.5 605.3,2468.1 607.3,2467.7 609.3,2467.3 611.3,2466.9 613.3,2466.5 615.3,2466 617.3,2465.5 619.3,2465.1 621.3,2464.6 623.3,2464.1 625.3,2463.5 627.3,2463 629.3,2462.5 631.3,2461.9 633.3,2461.3 635.3,2460.7 637.3,2460.1 639.3,2459.5 641.3,2458.8 643.3,2458.2 645.3,2457.5 647.3,2456.8 649.3,2456.1 651.3,2455.4 653.3,2454.6 655.3,2453.9 657.3,2453.1 659.3,2452.3 661.3,2451.4 663.3,2450.6 665.3,2449.7 667.3,2448.9 669.3,2447.9 671.3,2447 673.3,2446.1 675.3,2445.1 677.3,2444.1 679.3,2443.1 681.3,2442.1 683.3,2441 685.3,2440 687.3,2438.9 689.3,2437.7 691.3,2436.6 693.3,2435.4 695.3,2434.2 697.3,2433 699.3,2431.8 701.3,2430.5 703.3,2429.2 705.3,2427.9 707.3,2426.6 709.3,2425.3 711.3,2423.9 713.3,2422.5 715.3,2421 717.3,2419.6 719.3,2418.1 721.3,2416.6 723.3,2415.1 725.3,2413.5 727.3,2412 729.3,2410.4 731.3,2408.8 733.3,2407.1 735.3,2405.5 737.3,2403.8 739.3,2402.1 741.3,2400.3 743.3,2398.6 745.3,2396.8 747.3,2395 749.3,2393.2 751.3,2391.3 753.3,2389.5 755.3,2387.6 757.3,2385.7 759.3,2383.8 761.3,2381.8 763.3,2379.9 765.3,2377.9 767.3,2375.9 769.3,2373.9 771.3,2371.9 773.3,2369.9 775.3,2367.8 777.3,2365.7 779.3,2363.7 781.3,2361.6 783.3,2359.5 785.3,2357.4 787.3,2355.2 789.3,2353.1 791.3,2351 793.3,2348.9 795.3,2346.7 797.3,2344.6 799.3,2342.4 801.3,2340.3 803.3,2338.1 805.3,2336 807.3,2333.9 809.3,2331.7 811.3,2329.6 813.3,2327.5 815.3,2325.4 817.3,2323.3 819.3,2321.2 821.3,2319.1 823.3,2317.1 825.3,2315 827.3,2313 829.3,2311 831.3,2309 833.3,2307.1 835.3,2305.2 837.3,2303.3 839.3,2301.4 841.2,2299.6 843.2,2297.8 845.2,2296 847.2,2294.3 849.2,2292.6 851.2,2290.9 853.2,2289.3 855.2,2287.8 857.2,2286.2 859.2,2284.8 861.2,2283.3 863.2,2282 865.2,2280.6 867.2,2279.3 869.2,2278.1 871.2,2276.9 873.2,2275.8 875.2,2274.7 877.2,2273.7 879.2,2272.8 881.2,2271.9 883.2,2271 885.2,2270.2 887.2,2269.5 889.2,2268.8 891.2,2268.2 893.2,2267.7 895.2,2267.2 897.2,2266.7 899.2,2266.3 901.2,2266 903.2,2265.8 905.2,2265.6 907.2,2265.4 909.2,2265.3 911.2,2265.3 913.2,2265.3 915.2,2265.4 917.2,2265.6 919.2,2265.8 921.2,2266 923.2,2266.4 925.2,2266.7 927.2,2267.2 929.2,2267.6 931.2,2268.2 933.2,2268.8 935.2,2269.4 937.2,2270.1 939.2,2270.9 941.2,2271.7 943.2,2272.5 945.2,2273.4 947.2,2274.4 949.2,2275.4 951.2,2276.5 953.2,2277.6 955.2,2278.8 957.2,2280 959.2,2281.2 961.2,2282.5 963.2,2283.9 965.2,2285.3 967.2,2286.7 969.2,2288.2 971.2,2289.7 973.2,2291.3 975.2,2292.9 977.2,2294.5 979.2,2296.2 981.2,2297.9 983.2,2299.7 985.2,2301.5 987.2,2303.3 989.2,2305.2 991.2,2307.1 993.2,2309 995.2,2310.9 997.2,2312.9 999.2,2314.9 1001.2,2316.9 1003.2,2318.9 1005.2,2321 1007.2,2323.1 1009.2,2325.2 1011.2,2327.3 1013.2,2329.4 1015.2,2331.5 1017.2,2333.7 1019.2,2335.8 1021.2,2338 1023.2,2340.2 1025.2,2342.3 1027.2,2344.5 1029.2,2346.7 1031.2,2348.9 1033.2,2351 1035.2,2353.2 1037.2,2355.4 1039.2,2357.6 1041.2,2359.7 1043.2,2361.9 1045.2,2364 1047.2,2366.2 1049.2,2368.3 1051.2,2370.4 1053.2,2372.5 1055.2,2374.6 1057.2,2376.7 1059.2,2378.7 1061.2,2380.8 1063.2,2382.8 1065.2,2384.8 1067.2,2386.8 1069.2,2388.8 1071.2,2390.7 1073.2,2392.7 1075.2,2394.6 1077.2,2396.5 1079.2,2398.4 1081.2,2400.2 1083.2,2402 1085.2,2403.8 1087.2,2405.6 1089.2,2407.4 1091.2,2409.1 1093.2,2410.8 1095.2,2412.5 1097.2,2414.2 1099.2,2415.8 1101.2,2417.4 1103.2,2419 1105.2,2420.6 1107.2,2422.1 1109.2,2423.6 1111.2,2425.1 1113.2,2426.6 1115.2,2428 1117.2,2429.4 1119.2,2430.8 1121.2,2432.2 1123.2,2433.5 1125.2,2434.8 1127.2,2436.1 1129.2,2437.3 1131.2,2438.6 1133.2,2439.8 1135.2,2441 1137.2,2442.1 1139.2,2443.2 1141.2,2444.3 1143.2,2445.4 1145.2,2446.5 1147.2,2447.5 1149.2,2448.5 1151.2,2449.5 1153.2,2450.4 1155.2,2451.4 1157.2,2452.3 1159.2,2453.1 1161.2,2454 1163.2,2454.8 1165.2,2455.6 1167.2,2456.4 1169.2,2457.2 1171.2,2457.9 1173.2,2458.6 1175.2,2459.3 1177.2,2460 1179.2,2460.6 1181.2,2461.2 1183.2,2461.8 1185.2,2462.4 1187.2,2462.9 1189.2,2463.4 1191.2,2463.9 1193.2,2464.4 1195.2,2464.8 1197.2,2465.3 1199.2,2465.6 1201.2,2466 1203.2,2466.3 1205.2,2466.6 1207.2,2466.9 1209.2,2467.2 1211.2,2467.4 1213.2,2467.6 1215.2,2467.7 1217.2,2467.8 1219.2,2467.9 1221.2,2468 1223.2,2468 1225.2,2468 1227.2,2467.9 1229.2,2467.8 1231.2,2467.7 1233.2,2467.5 1235.2,2467.3 1237.2,2467 1239.2,2466.7 1241.2,2466.3 1243.2,2465.9 1245.2,2465.5 1247.2,2464.9 1249.2,2464.4 1251.2,2463.7 1253.2,2463.1 1255.2,2462.3 1257.2,2461.5 1259.2,2460.6 1261.2,2459.7 1263.2,2458.7 1265.2,2457.6 1267.2,2456.4 1269.2,2455.2 1271.2,2453.9 1273.2,2452.5 1275.2,2451 1277.2,2449.4 1279.2,2447.8 1281.1,2446 1283.1,2444.2 1285.1,2442.2 1287.1,2440.2 1289.1,2438 1291.1,2435.8 1293.1,2433.4 1295.1,2430.9 1297.1,2428.3 1299.1,2425.6 1301.1,2422.7 1303.1,2419.7 1305.1,2416.6 1307.1,2413.3 1309.1,2409.9 1311.1,2406.3 1313.1,2402.5 1315.1,2398.6 1317.1,2394.5 1319.1,2390.3 1321.1,2385.8 1323.1,2381.1 1325.1,2376.2 1327.1,2371.2 1329.1,2365.8 1331.1,2360.3 1333.1,2354.5 1335.1,2348.5 1337.1,2342.2 1339.1,2335.7 1341.1,2328.9 1343.1,2321.8 1345.1,2314.4 1347.1,2306.8 1349.1,2298.9 1351.1,2290.6 1353.1,2282.1 1355.1,2273.3 1357.1,2264.2 1359.1,2254.8 1361.1,2245.2 1363.1,2235.2 1365.1,2225 1367.1,2214.6 1369.1,2203.9 1371.1,2192.9 1373.1,2181.8 1375.1,2170.4 1377.1,2158.9 1379.1,2147.2 1381.1,2135.4 1383.1,2123.4 1385.1,2111.4 1387.1,2099.2 1389.1,2087.1 1391.1,2074.9 1393.1,2062.7 1395.1,2050.6 1397.1,2038.5 1399.1,2026.4 1401.1,2014.5 1403.1,2002.7 1405.1,1991 1407.1,1979.5 1409.1,1968.2 1411.1,1957 1413.1,1946.1 1415.1,1935.4 1417.1,1924.9 1419.1,1914.6 1421.1,1904.6 1423.1,1894.8 1425.1,1885.3 1427.1,1876 1429.1,1867 1431.1,1858.2 1433.1,1849.6 1435.1,1841.3 1437.1,1833.2 1439.1,1825.3 1441.1,1817.5 1443.1,1810 1445.1,1802.7 1447.1,1795.5 1449.1,1788.5 1451.1,1781.6 1453.1,1774.9 1455.1,1768.3 1457.1,1761.9 1459.1,1755.5 1461.1,1749.3 1463.1,1743.3 1465.1,1737.4 1467.1,1731.6 1469.1,1726 1471.1,1720.6 1473.1,1715.4 1475.1,1710.5 1477.1,1705.8 1479.1,1701.3 1481.1,1697.3 1483.1,1693.6 1485.1,1690.2 1487.1,1687.4 1489.1,1685 1491.1,1683.2 1493.1,1682 1495.1,1681.4 1497.1,1681.4 1499.1,1682.2 1501.1,1683.8 1503.1,1686.1 1505.1,1689.3 1507.1,1693.3 1509.1,1698.3 1511.1,1704.1 1513.1,1710.8 1515.1,1718.4 1517.1,1726.9 1519.1,1736.3 1521.1,1746.6 1523.1,1757.7 1525.1,1769.7 1527.1,1782.4 1529.1,1795.9 1531.1,1810.1 1533.1,1824.9 1535.1,1840.3 1537.1,1856.3 1539.1,1872.8 1541.1,1889.8 1543.1,1907.1 1545.1,1924.7 1547.1,1942.6 1549.1,1960.8 1551.1,1979 1553.1,1997.4 1555.1,2015.8 1557.1,2034.3 1559.1,2052.6 1561.1,2070.9 1563.1,2089 1565.1,2106.9 1567.1,2124.6 1569.1,2141.9 1571.1,2159 1573.1,2175.7 1575.1,2192.1 1577.1,2208 1579.1,2223.5 1581.1,2238.6 1583.1,2253.2 1585.1,2267.3 1587.1,2280.9 1589.1,2294 1591.1,2306.6 1593.1,2318.7 1595.1,2330.2 1597.1,2341.2 1599.1,2351.8 1601.1,2361.8 1603.1,2371.3 1605.1,2380.3 1607.1,2388.8 1609.1,2396.9 1611.1,2404.5 1613.1,2411.6 1615.1,2418.3 1617.1,2424.6 1619.1,2430.5 1621.1,2436 1623.1,2441.2 1625.1,2446 1627.1,2450.5 1629.1,2454.6 1631.1,2458.5 1633.1,2462.1 1635.1,2465.4 1637.1,2468.5 1639.1,2471.3 1641.1,2473.9 1643.1,2476.4 1645.1,2478.6 1647.1,2480.6 1649.1,2482.5 1651.1,2484.3 1653.1,2485.9 1655.1,2487.4 1657.1,2488.7 1659.1,2490 1661.1,2491.1 1663.1,2492.2 1665.1,2493.1 1667.1,2494 1669.1,2494.8 1671.1,2495.6 1673.1,2496.3 1675.1,2497 1677.1,2497.6 1679.1,2498.1 1681.1,2498.7 1683.1,2499.1 1685.1,2499.6 1687.1,2500 1689.1,2500.4 1691.1,2500.8 1693.1,2501.2 1695.1,2501.5 1697.1,2501.8 1699.1,2502.1 1701.1,2502.4 1703.1,2502.7 1705.1,2503 1707.1,2503.2 1709.1,2503.5 1711.1,2503.7 1713.1,2504 1715.1,2504.2 1717.1,2504.4 1719.1,2504.6 1721,2504.8 1723,2505 1725,2505.2 1727,2505.4 1729,2505.6 1731,2505.8 1733,2506 1735,2506.1 1737,2506.3 1739,2506.5 1741,2506.6 1743,2506.8 1745,2507 1747,2507.1 1749,2507.3 1751,2507.4 1753,2507.6 1755,2507.7 1757,2507.9 1759,2508 1761,2508.2 1763,2508.3 1765,2508.4 1767,2508.6 1769,2508.7 1771,2508.8 1773,2509 1775,2509.1 1777,2509.2 1779,2509.4 1781,2509.5 1783,2509.6 1785,2509.7 1787,2509.9 1789,2510 1791,2510.1 1793,2510.2 1795,2510.3 1797,2510.4 1799,2510.6 1801,2510.7 1803,2510.8 1805,2510.9 1807,2511 1809,2511.1 1811,2511.2 1813,2511.3 1815,2511.4 1817,2511.5 1819,2511.6 1821,2511.7 1823,2511.8 1825,2511.9 1827,2512 1829,2512.1 1831,2512.2 1833,2512.3 1835,2512.4 1837,2512.5 1839,2512.6 1841,2512.7 1843,2512.8 1845,2512.9 1847,2513 1849,2513.1 1851,2513.2 1853,2513.3 1855,2513.3 1857,2513.4 1859,2513.5 1861,2513.6 1863,2513.7 1865,2513.8 1867,2513.9 1869,2514 1871,2514 1873,2514.1 1875,2514.2 1877,2514.3 1879,2514.4 1881,2514.5 1883,2514.5 1885,2514.6 1887,2514.7 1889,2514.8 1891,2514.9 1893,2514.9 1895,2515 1897,2515.1 1899,2515.2 1901,2515.2 1903,2515.3 1905,2515.4 1907,2515.5 1909,2515.5 1911,2515.6 1913,2515.7 1915,2515.8 1917,2515.8 1919,2515.9 1921,2516 1923,2516.1 1925,2516.1 1927,2516.2 1929,2516.3 1931,2516.4 1933,2516.4 1935,2516.5 1937,2516.6 1939,2516.6 1941,2516.7" fill="none" stroke="#000" stroke-width="10" stroke-linejoin="round"/>
</g>
<rect x="163.5" y="1462" width="1794" height="1096.2" fill="none" stroke="#151515" stroke-width="5"/>
<g stroke="#151515" stroke-width="5"><line x1="179.4" y1="2558.2" x2="179.4" y2="2593.2"/><line x1="473" y1="2558.2" x2="473" y2="2593.2"/><line x1="766.6" y1="2558.2" x2="766.6" y2="2593.2"/><line x1="1060.2" y1="2558.2" x2="1060.2" y2="2593.2"/><line x1="1353.8" y1="2558.2" x2="1353.8" y2="2593.2"/><line x1="1647.4" y1="2558.2" x2="1647.4" y2="2593.2"/><line x1="1941" y1="2558.2" x2="1941" y2="2593.2"/></g>
<rect x="1529" y="114" width="39" height="38" fill="#ff0000"/>
<line x1="1494.3" y1="198.2" x2="1601.6" y2="198.2" stroke="#000" stroke-width="10"/>
<line x1="1494.3" y1="263" x2="1601.6" y2="263" stroke="#000" stroke-width="4"/>
<rect x="1522.9" y="312.3" width="53.1" height="34.9" fill="#a8a8a8"/>
<rect x="1522.9" y="377.3" width="53.1" height="35.5" fill="#4040ff"/>
<line x1="1494.3" y1="459.8" x2="1601.6" y2="459.8" stroke="#10cc10" stroke-width="4"/>
<rect x="290.8" y="1813.9" width="37" height="35.4" fill="#ff0000"/>
<line x1="254.6" y1="1896.4" x2="362.9" y2="1896.4" stroke="#000" stroke-width="10"/>
<line x1="254.6" y1="1962.1" x2="362.9" y2="1962.1" stroke="#000" stroke-width="4"/>
<rect x="282.9" y="2010.8" width="53.8" height="35.5" fill="#a8a8a8"/>
<rect x="282.9" y="2076.5" width="53.8" height="35.5" fill="#4040ff"/>
<line x1="254.6" y1="2158.6" x2="362.9" y2="2158.6" stroke="#10cc10" stroke-width="4"/>
<g font-family="&apos;Liberation Sans&apos;, Arial, Helvetica, sans-serif" fill="#000" stroke="#000" stroke-width="1.6"><text transform="translate(201.5 160.2) scale(1 1.015)" font-size="88" stroke-width="2.0" text-anchor="start" >Si 2p Photoemission</text><text transform="translate(202.4 258.5) scale(1 1.015)" font-size="88" stroke-width="2.0" text-anchor="start" >aSi:H/cSi</text><text transform="translate(219.7 1590.2) scale(1 1.015)" font-size="88" stroke-width="2.0" text-anchor="start" >Si 2p Photoemission</text><text transform="translate(219.6 1688) scale(1 1.015)" font-size="88" stroke-width="2.0" text-anchor="start" >aSi:H/Kap</text><text transform="translate(173.5 1251) scale(1 1.015)" font-size="78" stroke-width="1.3" text-anchor="middle" >108</text><text transform="translate(179.4 2683.4) scale(1 1.015)" font-size="78" stroke-width="1.3" text-anchor="middle" >108</text><text transform="translate(467.2 1251) scale(1 1.015)" font-size="78" stroke-width="1.3" text-anchor="middle" >106</text><text transform="translate(473 2683.4) scale(1 1.015)" font-size="78" stroke-width="1.3" text-anchor="middle" >106</text><text transform="translate(760.9 1251) scale(1 1.015)" font-size="78" stroke-width="1.3" text-anchor="middle" >104</text><text transform="translate(766.6 2683.4) scale(1 1.015)" font-size="78" stroke-width="1.3" text-anchor="middle" >104</text><text transform="translate(1054.6 1251) scale(1 1.015)" font-size="78" stroke-width="1.3" text-anchor="middle" >102</text><text transform="translate(1060.2 2683.4) scale(1 1.015)" font-size="78" stroke-width="1.3" text-anchor="middle" >102</text><text transform="translate(1348.3 1251) scale(1 1.015)" font-size="78" stroke-width="1.3" text-anchor="middle" >100</text><text transform="translate(1353.8 2683.4) scale(1 1.015)" font-size="78" stroke-width="1.3" text-anchor="middle" >100</text><text transform="translate(1642 1251) scale(1 1.015)" font-size="78" stroke-width="1.3" text-anchor="middle" >98</text><text transform="translate(1647.4 2683.4) scale(1 1.015)" font-size="78" stroke-width="1.3" text-anchor="middle" >98</text><text transform="translate(1935.7 1251) scale(1 1.015)" font-size="78" stroke-width="1.3" text-anchor="middle" >96</text><text transform="translate(1941 2683.4) scale(1 1.015)" font-size="78" stroke-width="1.3" text-anchor="middle" >96</text><text transform="translate(705.6 1350) scale(1 1.015)" font-size="78" stroke-width="1.3" text-anchor="start" >Binding Energy (eV)</text><text transform="translate(708.8 2781.3) scale(1 1.015)" font-size="78" stroke-width="1.3" text-anchor="start" >Binding Energy (eV)</text><text transform="translate(93.2 888.6) rotate(-90) scale(1 1.015)" font-size="78" stroke-width="1.3">Intensity (arb. un.)</text><text transform="translate(98.3 2323.4) rotate(-90) scale(1 1.015)" font-size="78" stroke-width="1.3">Intensity (arb. un.)</text><text transform="translate(1626.3 152.1) scale(1 1.015)" font-size="58.5" stroke-width="0.9" text-anchor="start" >Data</text><text transform="translate(1626.3 215.3) scale(1 1.015)" font-size="58.5" stroke-width="0.9" text-anchor="start" >Fit</text><text transform="translate(1626.3 281.5) scale(1 1.015)" font-size="58.5" stroke-width="0.9" text-anchor="start" >Background</text><text transform="translate(1626.3 345.7) scale(1 1.015)" font-size="58.5" stroke-width="0.9" text-anchor="start" >Si-H</text><text transform="translate(1626.3 410.7) scale(1 1.015)" font-size="58.5" stroke-width="0.9" text-anchor="start" >Dis Si</text><text transform="translate(1626.3 477.2) scale(1 1.015)" font-size="58.5" stroke-width="0.9" text-anchor="start" >Si-O</text><text transform="translate(386.2 1848.7) scale(1 1.015)" font-size="58.5" stroke-width="0.9" text-anchor="start" >Data</text><text transform="translate(386.2 1914.8) scale(1 1.015)" font-size="58.5" stroke-width="0.9" text-anchor="start" >Fit</text><text transform="translate(386.2 1979.8) scale(1 1.015)" font-size="58.5" stroke-width="0.9" text-anchor="start" >Background</text><text transform="translate(386.2 2045.4) scale(1 1.015)" font-size="58.5" stroke-width="0.9" text-anchor="start" >Si-H</text><text transform="translate(386.2 2110.5) scale(1 1.015)" font-size="58.5" stroke-width="0.9" text-anchor="start" >Dis Si</text><text transform="translate(386.2 2176.4) scale(1 1.015)" font-size="58.5" stroke-width="0.9" text-anchor="start" >Si-O</text></g>
</svg>
</body></html>
